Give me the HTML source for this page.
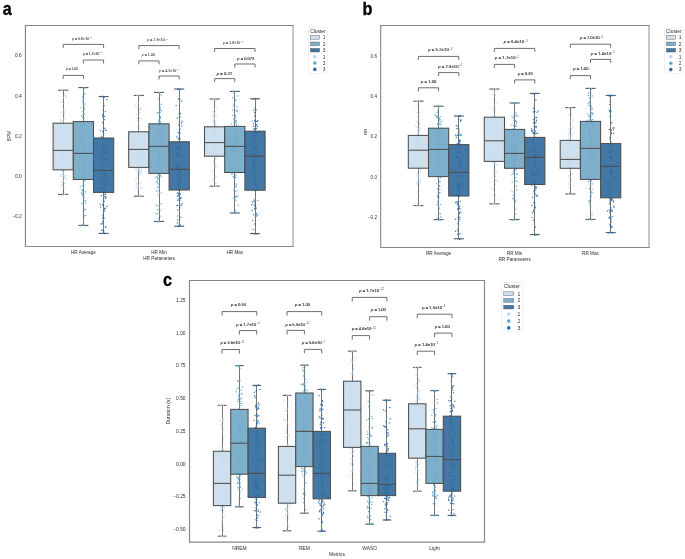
<!DOCTYPE html><html><head><meta charset="utf-8"><style>html,body{margin:0;padding:0;background:#fff;width:685px;height:559px;overflow:hidden}svg{display:block;will-change:transform}</style></head><body>
<svg width="685" height="559" viewBox="0 0 685 559" font-family="'Liberation Sans', sans-serif">
<rect width="685" height="559" fill="#fff"/>
<text transform="translate(2.8,14.6) scale(0.9,1)" x="0" y="0" font-size="18" font-weight="bold" fill="#000" stroke="#000" stroke-width="0.35">a</text>
<text transform="translate(362.6,14.6) scale(0.9,1)" x="0" y="0" font-size="18" font-weight="bold" fill="#000" stroke="#000" stroke-width="0.35">b</text>
<text transform="translate(162.9,285.5) scale(0.9,1)" x="0" y="0" font-size="18" font-weight="bold" fill="#000" stroke="#000" stroke-width="0.35">c</text>
<line x1="63.50" y1="90.20" x2="63.50" y2="123.20" stroke="#646464" stroke-width="0.9"/>
<line x1="63.50" y1="169.80" x2="63.50" y2="194.40" stroke="#646464" stroke-width="0.9"/>
<line x1="58.15" y1="90.20" x2="68.25" y2="90.20" stroke="#585858" stroke-width="1.1"/>
<line x1="58.15" y1="194.40" x2="68.25" y2="194.40" stroke="#585858" stroke-width="1.1"/>
<line x1="83.50" y1="87.60" x2="83.50" y2="121.60" stroke="#646464" stroke-width="0.9"/>
<line x1="83.50" y1="179.50" x2="83.50" y2="225.40" stroke="#646464" stroke-width="0.9"/>
<line x1="78.35" y1="87.60" x2="88.45" y2="87.60" stroke="#585858" stroke-width="1.1"/>
<line x1="78.35" y1="225.40" x2="88.45" y2="225.40" stroke="#585858" stroke-width="1.1"/>
<line x1="103.50" y1="96.60" x2="103.50" y2="138.00" stroke="#646464" stroke-width="0.9"/>
<line x1="103.50" y1="192.40" x2="103.50" y2="233.40" stroke="#646464" stroke-width="0.9"/>
<line x1="98.55" y1="96.60" x2="108.65" y2="96.60" stroke="#585858" stroke-width="1.1"/>
<line x1="98.55" y1="233.40" x2="108.65" y2="233.40" stroke="#585858" stroke-width="1.1"/>
<line x1="138.50" y1="95.40" x2="138.50" y2="131.80" stroke="#646464" stroke-width="0.9"/>
<line x1="138.50" y1="167.40" x2="138.50" y2="196.20" stroke="#646464" stroke-width="0.9"/>
<line x1="133.75" y1="95.40" x2="143.85" y2="95.40" stroke="#585858" stroke-width="1.1"/>
<line x1="133.75" y1="196.20" x2="143.85" y2="196.20" stroke="#585858" stroke-width="1.1"/>
<line x1="159.50" y1="92.40" x2="159.50" y2="123.80" stroke="#646464" stroke-width="0.9"/>
<line x1="159.50" y1="173.40" x2="159.50" y2="221.40" stroke="#646464" stroke-width="0.9"/>
<line x1="153.95" y1="92.40" x2="164.05" y2="92.40" stroke="#585858" stroke-width="1.1"/>
<line x1="153.95" y1="221.40" x2="164.05" y2="221.40" stroke="#585858" stroke-width="1.1"/>
<line x1="179.50" y1="89.00" x2="179.50" y2="141.80" stroke="#646464" stroke-width="0.9"/>
<line x1="179.50" y1="190.00" x2="179.50" y2="226.20" stroke="#646464" stroke-width="0.9"/>
<line x1="174.15" y1="89.00" x2="184.25" y2="89.00" stroke="#585858" stroke-width="1.1"/>
<line x1="174.15" y1="226.20" x2="184.25" y2="226.20" stroke="#585858" stroke-width="1.1"/>
<line x1="214.50" y1="99.00" x2="214.50" y2="126.80" stroke="#646464" stroke-width="0.9"/>
<line x1="214.50" y1="156.20" x2="214.50" y2="186.20" stroke="#646464" stroke-width="0.9"/>
<line x1="209.55" y1="99.00" x2="219.65" y2="99.00" stroke="#585858" stroke-width="1.1"/>
<line x1="209.55" y1="186.20" x2="219.65" y2="186.20" stroke="#585858" stroke-width="1.1"/>
<line x1="234.50" y1="91.40" x2="234.50" y2="126.40" stroke="#646464" stroke-width="0.9"/>
<line x1="234.50" y1="172.50" x2="234.50" y2="213.00" stroke="#646464" stroke-width="0.9"/>
<line x1="229.75" y1="91.40" x2="239.85" y2="91.40" stroke="#585858" stroke-width="1.1"/>
<line x1="229.75" y1="213.00" x2="239.85" y2="213.00" stroke="#585858" stroke-width="1.1"/>
<line x1="255.50" y1="98.80" x2="255.50" y2="131.20" stroke="#646464" stroke-width="0.9"/>
<line x1="255.50" y1="190.20" x2="255.50" y2="233.60" stroke="#646464" stroke-width="0.9"/>
<line x1="249.95" y1="98.80" x2="260.05" y2="98.80" stroke="#585858" stroke-width="1.1"/>
<line x1="249.95" y1="233.60" x2="260.05" y2="233.60" stroke="#585858" stroke-width="1.1"/>
<g fill="#bcd5ec" opacity="0.8"><circle cx="64.5" cy="164.1" r="0.72"/><circle cx="65.0" cy="182.7" r="0.72"/><circle cx="62.8" cy="146.5" r="0.72"/><circle cx="63.6" cy="149.6" r="0.72"/><circle cx="62.7" cy="186.5" r="0.72"/><circle cx="63.4" cy="181.0" r="0.72"/><circle cx="63.6" cy="156.3" r="0.72"/><circle cx="62.5" cy="171.4" r="0.72"/><circle cx="65.1" cy="136.5" r="0.72"/><circle cx="62.5" cy="158.4" r="0.72"/><circle cx="66.2" cy="98.2" r="0.72"/><circle cx="64.1" cy="166.7" r="0.72"/><circle cx="64.2" cy="176.7" r="0.72"/><circle cx="64.1" cy="117.6" r="0.72"/><circle cx="61.3" cy="174.2" r="0.72"/><circle cx="62.1" cy="160.3" r="0.72"/><circle cx="63.7" cy="145.2" r="0.72"/><circle cx="63.4" cy="172.5" r="0.72"/><circle cx="62.0" cy="130.8" r="0.72"/><circle cx="63.8" cy="141.1" r="0.72"/><circle cx="62.3" cy="154.0" r="0.72"/><circle cx="65.8" cy="128.7" r="0.72"/><circle cx="61.5" cy="170.2" r="0.72"/><circle cx="62.3" cy="112.0" r="0.72"/><circle cx="62.2" cy="125.4" r="0.72"/><circle cx="66.5" cy="178.7" r="0.72"/><circle cx="63.2" cy="156.8" r="0.72"/><circle cx="62.3" cy="151.3" r="0.72"/><circle cx="61.9" cy="186.3" r="0.72"/><circle cx="60.9" cy="142.5" r="0.72"/><circle cx="62.3" cy="111.9" r="0.72"/><circle cx="65.4" cy="140.1" r="0.72"/><circle cx="60.3" cy="141.7" r="0.72"/><circle cx="64.0" cy="103.5" r="0.72"/><circle cx="62.9" cy="152.4" r="0.72"/><circle cx="62.7" cy="128.5" r="0.72"/><circle cx="66.1" cy="134.4" r="0.72"/><circle cx="63.1" cy="167.1" r="0.72"/><circle cx="63.0" cy="159.3" r="0.72"/><circle cx="62.9" cy="153.4" r="0.72"/><circle cx="63.6" cy="175.0" r="0.72"/><circle cx="63.6" cy="121.7" r="0.72"/><circle cx="63.2" cy="177.8" r="0.72"/><circle cx="64.8" cy="112.3" r="0.72"/><circle cx="61.3" cy="181.9" r="0.72"/><circle cx="63.8" cy="111.1" r="0.72"/><circle cx="64.0" cy="117.4" r="0.72"/><circle cx="62.2" cy="157.0" r="0.72"/><circle cx="66.1" cy="161.4" r="0.72"/><circle cx="60.6" cy="176.2" r="0.72"/><circle cx="63.3" cy="174.5" r="0.72"/><circle cx="64.3" cy="151.6" r="0.72"/><circle cx="63.2" cy="140.7" r="0.72"/><circle cx="63.3" cy="156.7" r="0.72"/><circle cx="60.0" cy="160.5" r="0.72"/><circle cx="61.6" cy="129.7" r="0.72"/><circle cx="61.5" cy="148.7" r="0.72"/><circle cx="61.6" cy="184.6" r="0.72"/><circle cx="63.8" cy="109.3" r="0.72"/><circle cx="60.1" cy="119.2" r="0.72"/><circle cx="62.6" cy="158.8" r="0.72"/><circle cx="63.6" cy="135.8" r="0.72"/><circle cx="64.2" cy="183.7" r="0.72"/><circle cx="63.6" cy="175.4" r="0.72"/><circle cx="63.2" cy="162.8" r="0.72"/><circle cx="63.2" cy="176.2" r="0.72"/><circle cx="63.0" cy="180.1" r="0.72"/><circle cx="63.5" cy="112.0" r="0.72"/><circle cx="63.9" cy="138.0" r="0.72"/><circle cx="64.2" cy="162.2" r="0.72"/><circle cx="65.4" cy="160.9" r="0.72"/><circle cx="65.3" cy="94.0" r="0.72"/><circle cx="62.5" cy="153.0" r="0.72"/><circle cx="63.3" cy="180.0" r="0.72"/><circle cx="62.9" cy="162.6" r="0.72"/><circle cx="66.1" cy="175.5" r="0.72"/><circle cx="65.0" cy="188.5" r="0.72"/><circle cx="62.6" cy="176.5" r="0.72"/><circle cx="65.1" cy="145.7" r="0.72"/><circle cx="63.5" cy="97.8" r="0.72"/><circle cx="62.8" cy="113.2" r="0.72"/><circle cx="62.1" cy="160.7" r="0.72"/><circle cx="63.5" cy="175.1" r="0.72"/><circle cx="61.3" cy="120.8" r="0.72"/><circle cx="63.7" cy="163.6" r="0.72"/><circle cx="66.0" cy="96.3" r="0.72"/><circle cx="64.2" cy="114.2" r="0.72"/><circle cx="60.5" cy="124.3" r="0.72"/><circle cx="61.7" cy="171.2" r="0.72"/><circle cx="63.0" cy="187.6" r="0.72"/><circle cx="63.0" cy="187.8" r="0.72"/><circle cx="64.4" cy="129.5" r="0.72"/><circle cx="60.0" cy="101.8" r="0.72"/><circle cx="64.4" cy="95.5" r="0.72"/><circle cx="62.5" cy="102.0" r="0.72"/><circle cx="64.0" cy="171.2" r="0.72"/><circle cx="63.8" cy="173.1" r="0.72"/><circle cx="65.3" cy="109.2" r="0.72"/><circle cx="60.9" cy="115.4" r="0.72"/><circle cx="63.5" cy="119.1" r="0.72"/><circle cx="61.4" cy="181.5" r="0.72"/><circle cx="60.3" cy="120.6" r="0.72"/><circle cx="62.2" cy="123.2" r="0.72"/><circle cx="63.3" cy="120.0" r="0.72"/><circle cx="64.5" cy="163.4" r="0.72"/><circle cx="60.0" cy="158.5" r="0.72"/><circle cx="65.6" cy="158.1" r="0.72"/><circle cx="62.4" cy="174.9" r="0.72"/><circle cx="65.2" cy="178.0" r="0.72"/><circle cx="66.0" cy="118.5" r="0.72"/><circle cx="61.6" cy="90.6" r="0.72"/><circle cx="65.3" cy="90.5" r="0.72"/><circle cx="62.5" cy="90.3" r="0.72"/><circle cx="61.6" cy="89.8" r="0.72"/><circle cx="65.3" cy="194.6" r="0.72"/><circle cx="63.3" cy="194.9" r="0.72"/><circle cx="62.9" cy="194.9" r="0.72"/><circle cx="64.6" cy="194.2" r="0.72"/></g>
<g fill="#5fa6d4" opacity="0.92"><circle cx="83.1" cy="179.3" r="0.72"/><circle cx="84.5" cy="142.4" r="0.72"/><circle cx="82.7" cy="178.5" r="0.72"/><circle cx="83.8" cy="106.0" r="0.72"/><circle cx="81.4" cy="168.7" r="0.72"/><circle cx="83.9" cy="106.7" r="0.72"/><circle cx="85.0" cy="161.7" r="0.72"/><circle cx="82.5" cy="149.4" r="0.72"/><circle cx="85.1" cy="150.4" r="0.72"/><circle cx="83.6" cy="187.3" r="0.72"/><circle cx="83.7" cy="221.6" r="0.72"/><circle cx="82.5" cy="156.2" r="0.72"/><circle cx="82.1" cy="124.8" r="0.72"/><circle cx="82.9" cy="151.1" r="0.72"/><circle cx="83.6" cy="146.3" r="0.72"/><circle cx="82.7" cy="145.7" r="0.72"/><circle cx="82.9" cy="179.7" r="0.72"/><circle cx="86.0" cy="152.4" r="0.72"/><circle cx="83.6" cy="145.5" r="0.72"/><circle cx="80.2" cy="159.3" r="0.72"/><circle cx="81.5" cy="139.1" r="0.72"/><circle cx="83.3" cy="128.9" r="0.72"/><circle cx="81.7" cy="158.4" r="0.72"/><circle cx="83.0" cy="101.8" r="0.72"/><circle cx="86.1" cy="128.1" r="0.72"/><circle cx="80.8" cy="178.5" r="0.72"/><circle cx="86.2" cy="145.8" r="0.72"/><circle cx="82.4" cy="193.4" r="0.72"/><circle cx="82.8" cy="195.6" r="0.72"/><circle cx="83.6" cy="180.5" r="0.72"/><circle cx="82.1" cy="203.4" r="0.72"/><circle cx="81.0" cy="107.6" r="0.72"/><circle cx="82.9" cy="191.0" r="0.72"/><circle cx="81.2" cy="192.6" r="0.72"/><circle cx="84.5" cy="109.2" r="0.72"/><circle cx="83.2" cy="100.2" r="0.72"/><circle cx="80.2" cy="164.0" r="0.72"/><circle cx="83.8" cy="114.3" r="0.72"/><circle cx="81.7" cy="190.1" r="0.72"/><circle cx="84.2" cy="170.2" r="0.72"/><circle cx="82.4" cy="185.8" r="0.72"/><circle cx="85.7" cy="215.5" r="0.72"/><circle cx="83.1" cy="146.5" r="0.72"/><circle cx="83.5" cy="171.0" r="0.72"/><circle cx="82.8" cy="137.6" r="0.72"/><circle cx="83.4" cy="93.9" r="0.72"/><circle cx="84.1" cy="118.4" r="0.72"/><circle cx="83.3" cy="177.9" r="0.72"/><circle cx="83.6" cy="210.2" r="0.72"/><circle cx="82.2" cy="194.5" r="0.72"/><circle cx="85.9" cy="161.5" r="0.72"/><circle cx="81.9" cy="178.6" r="0.72"/><circle cx="85.2" cy="191.7" r="0.72"/><circle cx="82.4" cy="127.9" r="0.72"/><circle cx="85.6" cy="200.6" r="0.72"/><circle cx="84.2" cy="161.2" r="0.72"/><circle cx="85.5" cy="203.6" r="0.72"/><circle cx="82.6" cy="117.2" r="0.72"/><circle cx="83.8" cy="201.6" r="0.72"/><circle cx="82.9" cy="111.3" r="0.72"/><circle cx="82.3" cy="158.2" r="0.72"/><circle cx="85.1" cy="103.9" r="0.72"/><circle cx="84.7" cy="177.6" r="0.72"/><circle cx="84.8" cy="180.8" r="0.72"/><circle cx="83.7" cy="197.4" r="0.72"/><circle cx="83.8" cy="185.0" r="0.72"/><circle cx="82.5" cy="173.0" r="0.72"/><circle cx="85.9" cy="175.3" r="0.72"/><circle cx="84.0" cy="153.4" r="0.72"/><circle cx="84.7" cy="215.9" r="0.72"/><circle cx="85.9" cy="179.5" r="0.72"/><circle cx="83.6" cy="146.9" r="0.72"/><circle cx="80.2" cy="186.5" r="0.72"/><circle cx="84.0" cy="197.9" r="0.72"/><circle cx="81.7" cy="115.6" r="0.72"/><circle cx="84.2" cy="114.1" r="0.72"/><circle cx="81.0" cy="164.6" r="0.72"/><circle cx="83.3" cy="94.5" r="0.72"/><circle cx="84.6" cy="169.8" r="0.72"/><circle cx="81.3" cy="136.1" r="0.72"/><circle cx="83.1" cy="163.3" r="0.72"/><circle cx="83.8" cy="194.4" r="0.72"/><circle cx="83.3" cy="203.9" r="0.72"/><circle cx="82.2" cy="189.9" r="0.72"/><circle cx="85.1" cy="201.5" r="0.72"/><circle cx="80.7" cy="131.7" r="0.72"/><circle cx="83.5" cy="176.2" r="0.72"/><circle cx="84.7" cy="157.6" r="0.72"/><circle cx="82.2" cy="190.6" r="0.72"/><circle cx="83.8" cy="98.6" r="0.72"/><circle cx="82.3" cy="96.6" r="0.72"/><circle cx="83.1" cy="97.9" r="0.72"/><circle cx="83.4" cy="173.3" r="0.72"/><circle cx="83.5" cy="165.8" r="0.72"/><circle cx="82.4" cy="156.0" r="0.72"/><circle cx="83.4" cy="152.8" r="0.72"/><circle cx="83.3" cy="221.0" r="0.72"/><circle cx="84.1" cy="163.9" r="0.72"/><circle cx="84.7" cy="209.7" r="0.72"/><circle cx="83.6" cy="181.4" r="0.72"/><circle cx="80.8" cy="142.5" r="0.72"/><circle cx="82.9" cy="133.4" r="0.72"/><circle cx="84.5" cy="125.9" r="0.72"/><circle cx="82.3" cy="171.6" r="0.72"/><circle cx="84.9" cy="94.0" r="0.72"/><circle cx="85.4" cy="135.2" r="0.72"/><circle cx="85.1" cy="209.3" r="0.72"/><circle cx="80.6" cy="137.2" r="0.72"/><circle cx="83.7" cy="123.7" r="0.72"/><circle cx="82.6" cy="150.4" r="0.72"/><circle cx="83.4" cy="88.0" r="0.72"/><circle cx="84.7" cy="88.0" r="0.72"/><circle cx="83.8" cy="88.1" r="0.72"/><circle cx="84.2" cy="87.9" r="0.72"/><circle cx="82.2" cy="225.0" r="0.72"/><circle cx="81.8" cy="225.4" r="0.72"/><circle cx="81.7" cy="225.8" r="0.72"/><circle cx="83.7" cy="225.6" r="0.72"/></g>
<g fill="#2a6db0" opacity="0.92"><circle cx="102.8" cy="154.0" r="0.72"/><circle cx="102.0" cy="230.3" r="0.72"/><circle cx="103.6" cy="133.1" r="0.72"/><circle cx="101.8" cy="165.8" r="0.72"/><circle cx="105.9" cy="149.8" r="0.72"/><circle cx="104.6" cy="192.2" r="0.72"/><circle cx="103.4" cy="213.6" r="0.72"/><circle cx="106.1" cy="197.0" r="0.72"/><circle cx="105.4" cy="139.3" r="0.72"/><circle cx="103.3" cy="180.7" r="0.72"/><circle cx="102.5" cy="172.2" r="0.72"/><circle cx="101.2" cy="155.2" r="0.72"/><circle cx="104.4" cy="151.9" r="0.72"/><circle cx="104.0" cy="192.1" r="0.72"/><circle cx="102.9" cy="138.9" r="0.72"/><circle cx="105.5" cy="226.6" r="0.72"/><circle cx="103.3" cy="215.9" r="0.72"/><circle cx="105.9" cy="145.5" r="0.72"/><circle cx="103.1" cy="147.6" r="0.72"/><circle cx="105.4" cy="173.5" r="0.72"/><circle cx="106.0" cy="173.4" r="0.72"/><circle cx="105.8" cy="197.6" r="0.72"/><circle cx="103.9" cy="106.2" r="0.72"/><circle cx="103.5" cy="174.0" r="0.72"/><circle cx="105.3" cy="130.6" r="0.72"/><circle cx="103.3" cy="190.8" r="0.72"/><circle cx="104.6" cy="196.5" r="0.72"/><circle cx="103.2" cy="159.8" r="0.72"/><circle cx="100.4" cy="204.2" r="0.72"/><circle cx="103.0" cy="205.4" r="0.72"/><circle cx="100.4" cy="130.6" r="0.72"/><circle cx="103.4" cy="144.0" r="0.72"/><circle cx="105.0" cy="194.3" r="0.72"/><circle cx="102.5" cy="223.1" r="0.72"/><circle cx="101.9" cy="230.2" r="0.72"/><circle cx="103.7" cy="187.8" r="0.72"/><circle cx="102.8" cy="204.4" r="0.72"/><circle cx="104.7" cy="128.2" r="0.72"/><circle cx="103.6" cy="231.3" r="0.72"/><circle cx="100.6" cy="207.0" r="0.72"/><circle cx="102.8" cy="116.5" r="0.72"/><circle cx="100.4" cy="188.9" r="0.72"/><circle cx="100.4" cy="181.6" r="0.72"/><circle cx="106.9" cy="158.8" r="0.72"/><circle cx="102.5" cy="182.7" r="0.72"/><circle cx="104.1" cy="218.1" r="0.72"/><circle cx="104.3" cy="209.5" r="0.72"/><circle cx="102.5" cy="114.9" r="0.72"/><circle cx="103.4" cy="192.5" r="0.72"/><circle cx="105.5" cy="198.6" r="0.72"/><circle cx="106.7" cy="181.5" r="0.72"/><circle cx="102.7" cy="131.5" r="0.72"/><circle cx="106.8" cy="153.4" r="0.72"/><circle cx="101.7" cy="164.0" r="0.72"/><circle cx="106.0" cy="141.9" r="0.72"/><circle cx="104.4" cy="174.7" r="0.72"/><circle cx="102.8" cy="137.7" r="0.72"/><circle cx="102.6" cy="218.0" r="0.72"/><circle cx="104.8" cy="116.4" r="0.72"/><circle cx="104.9" cy="184.2" r="0.72"/><circle cx="103.3" cy="188.2" r="0.72"/><circle cx="100.4" cy="191.5" r="0.72"/><circle cx="103.0" cy="150.2" r="0.72"/><circle cx="105.5" cy="179.7" r="0.72"/><circle cx="104.2" cy="201.2" r="0.72"/><circle cx="104.5" cy="119.6" r="0.72"/><circle cx="104.2" cy="170.7" r="0.72"/><circle cx="106.9" cy="99.8" r="0.72"/><circle cx="104.3" cy="174.8" r="0.72"/><circle cx="104.4" cy="211.1" r="0.72"/><circle cx="104.6" cy="184.3" r="0.72"/><circle cx="104.2" cy="191.7" r="0.72"/><circle cx="105.6" cy="161.4" r="0.72"/><circle cx="101.9" cy="178.1" r="0.72"/><circle cx="102.1" cy="178.0" r="0.72"/><circle cx="103.4" cy="184.6" r="0.72"/><circle cx="102.9" cy="215.6" r="0.72"/><circle cx="106.9" cy="206.2" r="0.72"/><circle cx="101.5" cy="170.0" r="0.72"/><circle cx="101.3" cy="195.8" r="0.72"/><circle cx="103.6" cy="190.6" r="0.72"/><circle cx="105.2" cy="175.2" r="0.72"/><circle cx="105.4" cy="111.6" r="0.72"/><circle cx="101.0" cy="223.9" r="0.72"/><circle cx="102.8" cy="221.4" r="0.72"/><circle cx="100.4" cy="172.8" r="0.72"/><circle cx="105.2" cy="159.1" r="0.72"/><circle cx="103.6" cy="116.4" r="0.72"/><circle cx="106.2" cy="130.0" r="0.72"/><circle cx="100.4" cy="192.6" r="0.72"/><circle cx="104.7" cy="208.5" r="0.72"/><circle cx="105.2" cy="146.8" r="0.72"/><circle cx="103.2" cy="113.9" r="0.72"/><circle cx="101.4" cy="136.5" r="0.72"/><circle cx="103.2" cy="174.2" r="0.72"/><circle cx="103.5" cy="134.7" r="0.72"/><circle cx="105.6" cy="194.1" r="0.72"/><circle cx="102.5" cy="187.7" r="0.72"/><circle cx="103.6" cy="206.0" r="0.72"/><circle cx="105.8" cy="144.7" r="0.72"/><circle cx="105.3" cy="208.1" r="0.72"/><circle cx="104.4" cy="159.7" r="0.72"/><circle cx="103.9" cy="180.2" r="0.72"/><circle cx="105.7" cy="227.3" r="0.72"/><circle cx="100.4" cy="187.9" r="0.72"/><circle cx="104.6" cy="151.7" r="0.72"/><circle cx="102.5" cy="122.7" r="0.72"/><circle cx="103.8" cy="192.7" r="0.72"/><circle cx="103.2" cy="110.3" r="0.72"/><circle cx="102.3" cy="223.9" r="0.72"/><circle cx="103.6" cy="96.9" r="0.72"/><circle cx="103.2" cy="96.5" r="0.72"/><circle cx="104.3" cy="97.1" r="0.72"/><circle cx="102.4" cy="96.2" r="0.72"/><circle cx="102.9" cy="233.4" r="0.72"/><circle cx="104.4" cy="233.2" r="0.72"/><circle cx="104.9" cy="233.7" r="0.72"/><circle cx="103.6" cy="233.2" r="0.72"/></g>
<g fill="#bcd5ec" opacity="0.8"><circle cx="137.7" cy="105.6" r="0.72"/><circle cx="141.5" cy="168.7" r="0.72"/><circle cx="138.9" cy="169.4" r="0.72"/><circle cx="137.5" cy="108.9" r="0.72"/><circle cx="139.2" cy="149.7" r="0.72"/><circle cx="139.8" cy="155.4" r="0.72"/><circle cx="139.6" cy="137.8" r="0.72"/><circle cx="138.5" cy="157.1" r="0.72"/><circle cx="139.7" cy="170.0" r="0.72"/><circle cx="138.7" cy="185.0" r="0.72"/><circle cx="136.2" cy="184.0" r="0.72"/><circle cx="140.9" cy="118.4" r="0.72"/><circle cx="142.1" cy="133.0" r="0.72"/><circle cx="138.7" cy="161.7" r="0.72"/><circle cx="141.2" cy="172.1" r="0.72"/><circle cx="137.8" cy="187.8" r="0.72"/><circle cx="137.7" cy="137.8" r="0.72"/><circle cx="139.8" cy="161.5" r="0.72"/><circle cx="140.1" cy="173.4" r="0.72"/><circle cx="138.8" cy="160.1" r="0.72"/><circle cx="141.7" cy="108.3" r="0.72"/><circle cx="141.6" cy="170.5" r="0.72"/><circle cx="140.1" cy="159.7" r="0.72"/><circle cx="136.2" cy="154.3" r="0.72"/><circle cx="137.3" cy="185.3" r="0.72"/><circle cx="139.1" cy="113.8" r="0.72"/><circle cx="136.6" cy="171.5" r="0.72"/><circle cx="141.3" cy="188.1" r="0.72"/><circle cx="139.8" cy="155.8" r="0.72"/><circle cx="136.3" cy="186.5" r="0.72"/><circle cx="142.0" cy="187.4" r="0.72"/><circle cx="140.1" cy="166.9" r="0.72"/><circle cx="139.9" cy="132.0" r="0.72"/><circle cx="138.0" cy="165.8" r="0.72"/><circle cx="137.9" cy="107.9" r="0.72"/><circle cx="138.0" cy="134.1" r="0.72"/><circle cx="138.8" cy="162.6" r="0.72"/><circle cx="138.9" cy="131.3" r="0.72"/><circle cx="136.3" cy="114.3" r="0.72"/><circle cx="136.0" cy="189.1" r="0.72"/><circle cx="135.6" cy="168.5" r="0.72"/><circle cx="139.4" cy="108.6" r="0.72"/><circle cx="138.8" cy="157.6" r="0.72"/><circle cx="140.5" cy="149.9" r="0.72"/><circle cx="140.0" cy="112.6" r="0.72"/><circle cx="141.4" cy="132.6" r="0.72"/><circle cx="139.1" cy="125.0" r="0.72"/><circle cx="136.7" cy="161.8" r="0.72"/><circle cx="137.0" cy="162.4" r="0.72"/><circle cx="140.9" cy="181.8" r="0.72"/><circle cx="138.8" cy="171.2" r="0.72"/><circle cx="137.6" cy="183.4" r="0.72"/><circle cx="137.5" cy="187.5" r="0.72"/><circle cx="138.3" cy="103.3" r="0.72"/><circle cx="140.0" cy="118.4" r="0.72"/><circle cx="138.7" cy="181.2" r="0.72"/><circle cx="136.3" cy="179.9" r="0.72"/><circle cx="138.8" cy="153.2" r="0.72"/><circle cx="136.9" cy="168.5" r="0.72"/><circle cx="139.9" cy="137.1" r="0.72"/><circle cx="140.1" cy="131.9" r="0.72"/><circle cx="136.9" cy="177.6" r="0.72"/><circle cx="138.3" cy="123.2" r="0.72"/><circle cx="140.7" cy="158.5" r="0.72"/><circle cx="139.2" cy="132.6" r="0.72"/><circle cx="139.9" cy="167.7" r="0.72"/><circle cx="140.3" cy="174.7" r="0.72"/><circle cx="137.4" cy="161.9" r="0.72"/><circle cx="140.7" cy="156.9" r="0.72"/><circle cx="138.7" cy="168.7" r="0.72"/><circle cx="136.1" cy="126.4" r="0.72"/><circle cx="135.6" cy="179.3" r="0.72"/><circle cx="140.1" cy="151.2" r="0.72"/><circle cx="136.1" cy="114.5" r="0.72"/><circle cx="138.6" cy="186.6" r="0.72"/><circle cx="139.6" cy="171.8" r="0.72"/><circle cx="135.7" cy="105.0" r="0.72"/><circle cx="137.0" cy="158.6" r="0.72"/><circle cx="137.6" cy="120.4" r="0.72"/><circle cx="139.2" cy="129.3" r="0.72"/><circle cx="140.5" cy="110.0" r="0.72"/><circle cx="140.1" cy="141.0" r="0.72"/><circle cx="138.2" cy="169.7" r="0.72"/><circle cx="139.4" cy="170.7" r="0.72"/><circle cx="137.0" cy="167.0" r="0.72"/><circle cx="137.5" cy="170.7" r="0.72"/><circle cx="137.7" cy="191.7" r="0.72"/><circle cx="140.9" cy="172.1" r="0.72"/><circle cx="139.6" cy="162.9" r="0.72"/><circle cx="141.5" cy="146.0" r="0.72"/><circle cx="140.1" cy="183.6" r="0.72"/><circle cx="139.7" cy="145.9" r="0.72"/><circle cx="139.6" cy="139.6" r="0.72"/><circle cx="139.3" cy="135.6" r="0.72"/><circle cx="138.5" cy="155.9" r="0.72"/><circle cx="140.1" cy="108.7" r="0.72"/><circle cx="137.5" cy="162.9" r="0.72"/><circle cx="138.2" cy="155.4" r="0.72"/><circle cx="140.3" cy="120.6" r="0.72"/><circle cx="138.8" cy="171.2" r="0.72"/><circle cx="138.8" cy="133.3" r="0.72"/><circle cx="139.0" cy="116.2" r="0.72"/><circle cx="139.5" cy="154.9" r="0.72"/><circle cx="137.4" cy="118.5" r="0.72"/><circle cx="138.9" cy="152.2" r="0.72"/><circle cx="139.0" cy="145.8" r="0.72"/><circle cx="139.4" cy="139.5" r="0.72"/><circle cx="138.4" cy="140.8" r="0.72"/><circle cx="137.9" cy="158.7" r="0.72"/><circle cx="138.8" cy="165.0" r="0.72"/><circle cx="138.9" cy="95.9" r="0.72"/><circle cx="137.1" cy="95.5" r="0.72"/><circle cx="140.1" cy="96.0" r="0.72"/><circle cx="137.5" cy="95.1" r="0.72"/><circle cx="140.7" cy="196.8" r="0.72"/><circle cx="138.7" cy="195.9" r="0.72"/><circle cx="140.7" cy="196.2" r="0.72"/><circle cx="140.6" cy="196.4" r="0.72"/></g>
<g fill="#5fa6d4" opacity="0.92"><circle cx="160.5" cy="117.8" r="0.72"/><circle cx="161.3" cy="176.7" r="0.72"/><circle cx="160.7" cy="156.7" r="0.72"/><circle cx="156.6" cy="181.6" r="0.72"/><circle cx="157.5" cy="177.2" r="0.72"/><circle cx="160.1" cy="159.0" r="0.72"/><circle cx="159.0" cy="190.0" r="0.72"/><circle cx="161.5" cy="110.8" r="0.72"/><circle cx="156.6" cy="205.2" r="0.72"/><circle cx="158.0" cy="205.9" r="0.72"/><circle cx="160.6" cy="116.6" r="0.72"/><circle cx="160.4" cy="141.9" r="0.72"/><circle cx="158.4" cy="134.9" r="0.72"/><circle cx="160.5" cy="138.9" r="0.72"/><circle cx="158.1" cy="154.4" r="0.72"/><circle cx="157.6" cy="153.1" r="0.72"/><circle cx="157.7" cy="209.8" r="0.72"/><circle cx="157.8" cy="175.1" r="0.72"/><circle cx="159.3" cy="122.8" r="0.72"/><circle cx="157.3" cy="182.0" r="0.72"/><circle cx="159.6" cy="149.3" r="0.72"/><circle cx="159.5" cy="153.9" r="0.72"/><circle cx="157.3" cy="195.1" r="0.72"/><circle cx="159.7" cy="205.2" r="0.72"/><circle cx="161.2" cy="134.1" r="0.72"/><circle cx="160.3" cy="121.7" r="0.72"/><circle cx="160.7" cy="145.4" r="0.72"/><circle cx="159.6" cy="159.6" r="0.72"/><circle cx="161.0" cy="104.2" r="0.72"/><circle cx="161.3" cy="95.0" r="0.72"/><circle cx="159.4" cy="125.4" r="0.72"/><circle cx="158.1" cy="98.9" r="0.72"/><circle cx="162.2" cy="147.3" r="0.72"/><circle cx="158.1" cy="184.0" r="0.72"/><circle cx="159.5" cy="120.8" r="0.72"/><circle cx="158.8" cy="162.5" r="0.72"/><circle cx="160.8" cy="123.3" r="0.72"/><circle cx="161.8" cy="170.7" r="0.72"/><circle cx="160.1" cy="118.6" r="0.72"/><circle cx="160.4" cy="108.3" r="0.72"/><circle cx="158.9" cy="178.4" r="0.72"/><circle cx="160.8" cy="165.9" r="0.72"/><circle cx="159.4" cy="206.2" r="0.72"/><circle cx="159.8" cy="106.2" r="0.72"/><circle cx="159.8" cy="130.2" r="0.72"/><circle cx="158.4" cy="121.1" r="0.72"/><circle cx="156.8" cy="191.3" r="0.72"/><circle cx="158.6" cy="161.5" r="0.72"/><circle cx="157.1" cy="113.3" r="0.72"/><circle cx="158.3" cy="112.4" r="0.72"/><circle cx="161.2" cy="192.9" r="0.72"/><circle cx="158.9" cy="157.8" r="0.72"/><circle cx="158.6" cy="120.1" r="0.72"/><circle cx="162.2" cy="139.4" r="0.72"/><circle cx="159.2" cy="161.5" r="0.72"/><circle cx="157.3" cy="182.4" r="0.72"/><circle cx="161.8" cy="124.4" r="0.72"/><circle cx="159.9" cy="173.0" r="0.72"/><circle cx="161.1" cy="133.8" r="0.72"/><circle cx="158.8" cy="131.6" r="0.72"/><circle cx="159.4" cy="166.6" r="0.72"/><circle cx="159.0" cy="186.2" r="0.72"/><circle cx="157.3" cy="135.9" r="0.72"/><circle cx="159.8" cy="111.0" r="0.72"/><circle cx="159.3" cy="188.7" r="0.72"/><circle cx="161.3" cy="210.1" r="0.72"/><circle cx="158.5" cy="218.3" r="0.72"/><circle cx="159.6" cy="161.8" r="0.72"/><circle cx="157.2" cy="176.4" r="0.72"/><circle cx="158.0" cy="178.9" r="0.72"/><circle cx="158.2" cy="135.2" r="0.72"/><circle cx="159.1" cy="106.2" r="0.72"/><circle cx="159.4" cy="174.1" r="0.72"/><circle cx="159.6" cy="133.9" r="0.72"/><circle cx="159.3" cy="113.5" r="0.72"/><circle cx="157.4" cy="171.9" r="0.72"/><circle cx="157.8" cy="213.8" r="0.72"/><circle cx="157.4" cy="162.6" r="0.72"/><circle cx="155.8" cy="133.2" r="0.72"/><circle cx="160.3" cy="125.3" r="0.72"/><circle cx="159.4" cy="173.6" r="0.72"/><circle cx="158.7" cy="143.5" r="0.72"/><circle cx="159.0" cy="156.6" r="0.72"/><circle cx="159.5" cy="121.6" r="0.72"/><circle cx="155.8" cy="213.5" r="0.72"/><circle cx="157.8" cy="187.2" r="0.72"/><circle cx="157.6" cy="179.5" r="0.72"/><circle cx="157.8" cy="133.6" r="0.72"/><circle cx="159.6" cy="118.7" r="0.72"/><circle cx="160.2" cy="168.0" r="0.72"/><circle cx="161.1" cy="203.5" r="0.72"/><circle cx="157.3" cy="126.9" r="0.72"/><circle cx="160.4" cy="216.1" r="0.72"/><circle cx="156.9" cy="150.2" r="0.72"/><circle cx="157.9" cy="124.5" r="0.72"/><circle cx="159.3" cy="192.8" r="0.72"/><circle cx="160.4" cy="175.5" r="0.72"/><circle cx="159.3" cy="123.8" r="0.72"/><circle cx="160.4" cy="128.8" r="0.72"/><circle cx="157.0" cy="171.7" r="0.72"/><circle cx="156.5" cy="141.5" r="0.72"/><circle cx="160.1" cy="144.3" r="0.72"/><circle cx="156.5" cy="171.7" r="0.72"/><circle cx="155.8" cy="177.3" r="0.72"/><circle cx="160.2" cy="112.6" r="0.72"/><circle cx="159.1" cy="175.0" r="0.72"/><circle cx="161.4" cy="124.4" r="0.72"/><circle cx="158.1" cy="165.1" r="0.72"/><circle cx="158.5" cy="112.6" r="0.72"/><circle cx="160.0" cy="109.7" r="0.72"/><circle cx="159.6" cy="92.7" r="0.72"/><circle cx="159.7" cy="93.0" r="0.72"/><circle cx="158.9" cy="92.8" r="0.72"/><circle cx="159.9" cy="92.9" r="0.72"/><circle cx="158.7" cy="221.7" r="0.72"/><circle cx="159.3" cy="221.3" r="0.72"/><circle cx="157.7" cy="221.6" r="0.72"/><circle cx="157.1" cy="221.9" r="0.72"/></g>
<g fill="#2a6db0" opacity="0.92"><circle cx="179.9" cy="200.1" r="0.72"/><circle cx="179.3" cy="113.8" r="0.72"/><circle cx="179.4" cy="182.2" r="0.72"/><circle cx="179.5" cy="213.8" r="0.72"/><circle cx="177.6" cy="148.1" r="0.72"/><circle cx="177.4" cy="143.3" r="0.72"/><circle cx="177.9" cy="210.0" r="0.72"/><circle cx="178.4" cy="132.7" r="0.72"/><circle cx="179.6" cy="132.4" r="0.72"/><circle cx="178.8" cy="125.0" r="0.72"/><circle cx="179.9" cy="116.8" r="0.72"/><circle cx="178.9" cy="194.0" r="0.72"/><circle cx="182.2" cy="203.8" r="0.72"/><circle cx="179.9" cy="133.5" r="0.72"/><circle cx="180.2" cy="154.6" r="0.72"/><circle cx="177.2" cy="186.9" r="0.72"/><circle cx="181.3" cy="205.3" r="0.72"/><circle cx="180.7" cy="194.1" r="0.72"/><circle cx="178.9" cy="184.3" r="0.72"/><circle cx="179.3" cy="189.4" r="0.72"/><circle cx="178.9" cy="187.3" r="0.72"/><circle cx="177.7" cy="184.2" r="0.72"/><circle cx="176.1" cy="105.5" r="0.72"/><circle cx="179.1" cy="156.3" r="0.72"/><circle cx="177.8" cy="215.9" r="0.72"/><circle cx="180.1" cy="138.8" r="0.72"/><circle cx="178.7" cy="182.0" r="0.72"/><circle cx="177.3" cy="193.0" r="0.72"/><circle cx="181.6" cy="125.9" r="0.72"/><circle cx="180.8" cy="197.4" r="0.72"/><circle cx="180.0" cy="224.7" r="0.72"/><circle cx="181.7" cy="101.3" r="0.72"/><circle cx="177.4" cy="223.0" r="0.72"/><circle cx="179.3" cy="135.6" r="0.72"/><circle cx="177.8" cy="196.0" r="0.72"/><circle cx="179.2" cy="130.6" r="0.72"/><circle cx="180.4" cy="189.1" r="0.72"/><circle cx="178.8" cy="193.2" r="0.72"/><circle cx="178.4" cy="147.4" r="0.72"/><circle cx="179.2" cy="154.3" r="0.72"/><circle cx="179.8" cy="207.8" r="0.72"/><circle cx="176.9" cy="137.0" r="0.72"/><circle cx="178.2" cy="155.3" r="0.72"/><circle cx="180.4" cy="178.1" r="0.72"/><circle cx="182.0" cy="121.2" r="0.72"/><circle cx="180.9" cy="217.1" r="0.72"/><circle cx="178.9" cy="194.0" r="0.72"/><circle cx="182.4" cy="169.3" r="0.72"/><circle cx="180.1" cy="179.3" r="0.72"/><circle cx="178.4" cy="172.6" r="0.72"/><circle cx="179.3" cy="165.9" r="0.72"/><circle cx="176.6" cy="153.2" r="0.72"/><circle cx="178.8" cy="181.9" r="0.72"/><circle cx="180.0" cy="128.9" r="0.72"/><circle cx="179.2" cy="151.5" r="0.72"/><circle cx="178.2" cy="174.4" r="0.72"/><circle cx="178.5" cy="138.8" r="0.72"/><circle cx="178.8" cy="172.5" r="0.72"/><circle cx="179.3" cy="122.1" r="0.72"/><circle cx="180.2" cy="185.8" r="0.72"/><circle cx="179.7" cy="147.0" r="0.72"/><circle cx="178.4" cy="198.9" r="0.72"/><circle cx="178.3" cy="190.2" r="0.72"/><circle cx="180.9" cy="198.4" r="0.72"/><circle cx="180.8" cy="183.6" r="0.72"/><circle cx="182.4" cy="144.1" r="0.72"/><circle cx="179.9" cy="205.1" r="0.72"/><circle cx="179.0" cy="178.9" r="0.72"/><circle cx="179.9" cy="99.2" r="0.72"/><circle cx="176.8" cy="174.8" r="0.72"/><circle cx="178.7" cy="194.9" r="0.72"/><circle cx="178.6" cy="193.9" r="0.72"/><circle cx="180.7" cy="178.6" r="0.72"/><circle cx="179.5" cy="136.4" r="0.72"/><circle cx="177.0" cy="148.0" r="0.72"/><circle cx="179.2" cy="172.4" r="0.72"/><circle cx="177.9" cy="200.4" r="0.72"/><circle cx="178.2" cy="142.8" r="0.72"/><circle cx="177.4" cy="118.0" r="0.72"/><circle cx="180.1" cy="141.9" r="0.72"/><circle cx="179.5" cy="175.9" r="0.72"/><circle cx="181.7" cy="123.0" r="0.72"/><circle cx="178.3" cy="138.7" r="0.72"/><circle cx="176.3" cy="149.6" r="0.72"/><circle cx="177.9" cy="153.8" r="0.72"/><circle cx="179.6" cy="155.2" r="0.72"/><circle cx="176.8" cy="205.6" r="0.72"/><circle cx="180.5" cy="145.9" r="0.72"/><circle cx="179.2" cy="155.1" r="0.72"/><circle cx="180.8" cy="173.1" r="0.72"/><circle cx="177.2" cy="156.0" r="0.72"/><circle cx="180.5" cy="113.6" r="0.72"/><circle cx="177.7" cy="196.2" r="0.72"/><circle cx="177.0" cy="178.6" r="0.72"/><circle cx="179.6" cy="170.2" r="0.72"/><circle cx="179.1" cy="164.6" r="0.72"/><circle cx="179.9" cy="198.4" r="0.72"/><circle cx="175.9" cy="167.3" r="0.72"/><circle cx="177.5" cy="205.2" r="0.72"/><circle cx="178.3" cy="145.4" r="0.72"/><circle cx="177.3" cy="168.1" r="0.72"/><circle cx="176.9" cy="167.0" r="0.72"/><circle cx="180.2" cy="176.8" r="0.72"/><circle cx="178.9" cy="149.0" r="0.72"/><circle cx="179.3" cy="178.3" r="0.72"/><circle cx="178.4" cy="99.0" r="0.72"/><circle cx="180.4" cy="181.3" r="0.72"/><circle cx="179.6" cy="177.7" r="0.72"/><circle cx="177.8" cy="220.0" r="0.72"/><circle cx="180.0" cy="147.5" r="0.72"/><circle cx="178.5" cy="88.9" r="0.72"/><circle cx="178.0" cy="89.3" r="0.72"/><circle cx="181.1" cy="89.1" r="0.72"/><circle cx="178.0" cy="89.4" r="0.72"/><circle cx="178.7" cy="226.0" r="0.72"/><circle cx="177.6" cy="226.6" r="0.72"/><circle cx="180.6" cy="226.4" r="0.72"/><circle cx="179.1" cy="226.4" r="0.72"/></g>
<g fill="#bcd5ec" opacity="0.8"><circle cx="216.0" cy="158.0" r="0.72"/><circle cx="214.3" cy="133.8" r="0.72"/><circle cx="215.3" cy="121.9" r="0.72"/><circle cx="213.0" cy="153.8" r="0.72"/><circle cx="216.7" cy="139.5" r="0.72"/><circle cx="216.7" cy="150.5" r="0.72"/><circle cx="214.4" cy="119.4" r="0.72"/><circle cx="216.1" cy="156.0" r="0.72"/><circle cx="214.6" cy="146.6" r="0.72"/><circle cx="214.7" cy="128.6" r="0.72"/><circle cx="214.6" cy="154.5" r="0.72"/><circle cx="215.9" cy="143.7" r="0.72"/><circle cx="213.1" cy="146.5" r="0.72"/><circle cx="212.9" cy="150.1" r="0.72"/><circle cx="214.9" cy="112.1" r="0.72"/><circle cx="214.2" cy="121.2" r="0.72"/><circle cx="214.8" cy="114.5" r="0.72"/><circle cx="213.8" cy="121.0" r="0.72"/><circle cx="214.8" cy="134.2" r="0.72"/><circle cx="214.6" cy="109.4" r="0.72"/><circle cx="214.6" cy="132.7" r="0.72"/><circle cx="215.3" cy="164.8" r="0.72"/><circle cx="214.8" cy="157.4" r="0.72"/><circle cx="213.2" cy="163.9" r="0.72"/><circle cx="214.8" cy="114.6" r="0.72"/><circle cx="213.7" cy="115.9" r="0.72"/><circle cx="215.1" cy="135.8" r="0.72"/><circle cx="212.3" cy="115.6" r="0.72"/><circle cx="215.1" cy="124.2" r="0.72"/><circle cx="213.7" cy="130.4" r="0.72"/><circle cx="214.5" cy="140.7" r="0.72"/><circle cx="212.9" cy="116.7" r="0.72"/><circle cx="214.5" cy="139.1" r="0.72"/><circle cx="215.7" cy="165.1" r="0.72"/><circle cx="216.2" cy="143.0" r="0.72"/><circle cx="215.2" cy="164.6" r="0.72"/><circle cx="212.7" cy="143.1" r="0.72"/><circle cx="214.6" cy="118.4" r="0.72"/><circle cx="215.5" cy="182.8" r="0.72"/><circle cx="213.1" cy="138.6" r="0.72"/><circle cx="215.4" cy="132.2" r="0.72"/><circle cx="213.3" cy="147.0" r="0.72"/><circle cx="216.6" cy="108.2" r="0.72"/><circle cx="215.6" cy="134.0" r="0.72"/><circle cx="212.8" cy="178.0" r="0.72"/><circle cx="213.1" cy="111.8" r="0.72"/><circle cx="216.5" cy="151.8" r="0.72"/><circle cx="214.4" cy="143.4" r="0.72"/><circle cx="217.0" cy="115.3" r="0.72"/><circle cx="215.1" cy="134.7" r="0.72"/><circle cx="215.6" cy="151.4" r="0.72"/><circle cx="213.5" cy="144.0" r="0.72"/><circle cx="214.7" cy="141.0" r="0.72"/><circle cx="213.5" cy="146.1" r="0.72"/><circle cx="211.8" cy="146.8" r="0.72"/><circle cx="213.6" cy="153.9" r="0.72"/><circle cx="213.1" cy="121.2" r="0.72"/><circle cx="215.7" cy="155.0" r="0.72"/><circle cx="216.9" cy="142.2" r="0.72"/><circle cx="214.2" cy="123.9" r="0.72"/><circle cx="214.1" cy="151.8" r="0.72"/><circle cx="215.8" cy="137.1" r="0.72"/><circle cx="214.7" cy="134.1" r="0.72"/><circle cx="214.2" cy="128.5" r="0.72"/><circle cx="214.1" cy="116.4" r="0.72"/><circle cx="214.5" cy="153.5" r="0.72"/><circle cx="215.9" cy="182.9" r="0.72"/><circle cx="217.9" cy="135.7" r="0.72"/><circle cx="215.4" cy="132.6" r="0.72"/><circle cx="211.4" cy="135.5" r="0.72"/><circle cx="212.9" cy="135.2" r="0.72"/><circle cx="212.9" cy="136.5" r="0.72"/><circle cx="215.1" cy="131.2" r="0.72"/><circle cx="216.9" cy="144.9" r="0.72"/><circle cx="215.4" cy="125.9" r="0.72"/><circle cx="215.2" cy="176.7" r="0.72"/><circle cx="216.6" cy="125.1" r="0.72"/><circle cx="213.4" cy="149.7" r="0.72"/><circle cx="215.1" cy="121.6" r="0.72"/><circle cx="212.6" cy="155.8" r="0.72"/><circle cx="213.4" cy="153.4" r="0.72"/><circle cx="215.2" cy="146.4" r="0.72"/><circle cx="215.1" cy="133.6" r="0.72"/><circle cx="214.4" cy="138.3" r="0.72"/><circle cx="216.7" cy="176.3" r="0.72"/><circle cx="216.5" cy="137.8" r="0.72"/><circle cx="214.4" cy="113.2" r="0.72"/><circle cx="214.7" cy="148.7" r="0.72"/><circle cx="217.9" cy="136.8" r="0.72"/><circle cx="212.9" cy="143.9" r="0.72"/><circle cx="216.4" cy="147.4" r="0.72"/><circle cx="215.9" cy="159.0" r="0.72"/><circle cx="214.8" cy="164.0" r="0.72"/><circle cx="214.6" cy="131.0" r="0.72"/><circle cx="215.3" cy="166.7" r="0.72"/><circle cx="214.5" cy="117.8" r="0.72"/><circle cx="217.1" cy="166.0" r="0.72"/><circle cx="214.9" cy="156.8" r="0.72"/><circle cx="214.8" cy="127.8" r="0.72"/><circle cx="215.1" cy="125.2" r="0.72"/><circle cx="216.2" cy="129.1" r="0.72"/><circle cx="212.6" cy="170.6" r="0.72"/><circle cx="214.2" cy="134.5" r="0.72"/><circle cx="212.9" cy="111.7" r="0.72"/><circle cx="217.0" cy="156.0" r="0.72"/><circle cx="214.0" cy="181.5" r="0.72"/><circle cx="212.9" cy="180.7" r="0.72"/><circle cx="212.3" cy="171.1" r="0.72"/><circle cx="214.5" cy="152.9" r="0.72"/><circle cx="213.7" cy="118.6" r="0.72"/><circle cx="214.5" cy="98.7" r="0.72"/><circle cx="214.0" cy="99.2" r="0.72"/><circle cx="214.3" cy="99.3" r="0.72"/><circle cx="213.0" cy="99.4" r="0.72"/><circle cx="214.0" cy="186.4" r="0.72"/><circle cx="215.2" cy="186.2" r="0.72"/><circle cx="214.1" cy="186.6" r="0.72"/><circle cx="216.6" cy="186.6" r="0.72"/></g>
<g fill="#5fa6d4" opacity="0.92"><circle cx="234.7" cy="141.1" r="0.72"/><circle cx="235.3" cy="100.4" r="0.72"/><circle cx="235.5" cy="130.1" r="0.72"/><circle cx="233.6" cy="137.9" r="0.72"/><circle cx="235.8" cy="99.7" r="0.72"/><circle cx="233.0" cy="166.4" r="0.72"/><circle cx="236.0" cy="153.9" r="0.72"/><circle cx="233.8" cy="131.6" r="0.72"/><circle cx="237.1" cy="138.3" r="0.72"/><circle cx="233.1" cy="169.0" r="0.72"/><circle cx="234.7" cy="211.0" r="0.72"/><circle cx="236.4" cy="139.5" r="0.72"/><circle cx="235.1" cy="120.5" r="0.72"/><circle cx="234.5" cy="118.9" r="0.72"/><circle cx="236.2" cy="120.9" r="0.72"/><circle cx="233.3" cy="170.0" r="0.72"/><circle cx="235.6" cy="117.0" r="0.72"/><circle cx="232.6" cy="109.9" r="0.72"/><circle cx="236.5" cy="162.4" r="0.72"/><circle cx="235.8" cy="122.3" r="0.72"/><circle cx="234.8" cy="177.5" r="0.72"/><circle cx="231.6" cy="174.1" r="0.72"/><circle cx="234.0" cy="137.8" r="0.72"/><circle cx="233.2" cy="176.9" r="0.72"/><circle cx="234.8" cy="172.0" r="0.72"/><circle cx="232.0" cy="150.6" r="0.72"/><circle cx="235.7" cy="191.4" r="0.72"/><circle cx="232.3" cy="174.2" r="0.72"/><circle cx="237.4" cy="140.0" r="0.72"/><circle cx="232.8" cy="144.7" r="0.72"/><circle cx="233.9" cy="148.8" r="0.72"/><circle cx="234.3" cy="178.4" r="0.72"/><circle cx="234.4" cy="179.7" r="0.72"/><circle cx="233.4" cy="141.2" r="0.72"/><circle cx="233.9" cy="156.6" r="0.72"/><circle cx="234.7" cy="198.6" r="0.72"/><circle cx="234.3" cy="93.8" r="0.72"/><circle cx="235.3" cy="135.8" r="0.72"/><circle cx="236.0" cy="123.2" r="0.72"/><circle cx="236.6" cy="162.6" r="0.72"/><circle cx="235.2" cy="144.8" r="0.72"/><circle cx="234.9" cy="96.3" r="0.72"/><circle cx="232.8" cy="115.5" r="0.72"/><circle cx="235.0" cy="171.3" r="0.72"/><circle cx="231.6" cy="123.9" r="0.72"/><circle cx="236.5" cy="124.9" r="0.72"/><circle cx="236.0" cy="120.3" r="0.72"/><circle cx="234.5" cy="199.9" r="0.72"/><circle cx="235.1" cy="177.5" r="0.72"/><circle cx="235.4" cy="197.4" r="0.72"/><circle cx="236.0" cy="141.8" r="0.72"/><circle cx="233.5" cy="105.2" r="0.72"/><circle cx="236.7" cy="110.4" r="0.72"/><circle cx="235.6" cy="157.1" r="0.72"/><circle cx="236.0" cy="186.9" r="0.72"/><circle cx="234.5" cy="141.2" r="0.72"/><circle cx="237.0" cy="135.1" r="0.72"/><circle cx="234.2" cy="157.6" r="0.72"/><circle cx="237.0" cy="151.8" r="0.72"/><circle cx="238.1" cy="95.9" r="0.72"/><circle cx="236.0" cy="175.3" r="0.72"/><circle cx="235.1" cy="161.9" r="0.72"/><circle cx="237.3" cy="111.3" r="0.72"/><circle cx="233.1" cy="198.1" r="0.72"/><circle cx="234.2" cy="123.2" r="0.72"/><circle cx="232.6" cy="97.8" r="0.72"/><circle cx="236.4" cy="196.5" r="0.72"/><circle cx="236.9" cy="106.4" r="0.72"/><circle cx="234.2" cy="132.2" r="0.72"/><circle cx="236.8" cy="125.7" r="0.72"/><circle cx="234.3" cy="188.9" r="0.72"/><circle cx="235.9" cy="186.4" r="0.72"/><circle cx="235.4" cy="148.4" r="0.72"/><circle cx="235.8" cy="184.0" r="0.72"/><circle cx="237.3" cy="132.2" r="0.72"/><circle cx="235.0" cy="178.1" r="0.72"/><circle cx="235.8" cy="200.3" r="0.72"/><circle cx="234.3" cy="107.1" r="0.72"/><circle cx="235.5" cy="115.4" r="0.72"/><circle cx="234.2" cy="151.9" r="0.72"/><circle cx="237.5" cy="190.1" r="0.72"/><circle cx="233.5" cy="136.1" r="0.72"/><circle cx="233.2" cy="151.4" r="0.72"/><circle cx="237.3" cy="148.7" r="0.72"/><circle cx="235.5" cy="136.1" r="0.72"/><circle cx="235.7" cy="196.4" r="0.72"/><circle cx="234.0" cy="129.3" r="0.72"/><circle cx="234.5" cy="115.0" r="0.72"/><circle cx="234.0" cy="170.8" r="0.72"/><circle cx="235.3" cy="170.3" r="0.72"/><circle cx="234.3" cy="118.2" r="0.72"/><circle cx="235.6" cy="147.3" r="0.72"/><circle cx="235.4" cy="165.4" r="0.72"/><circle cx="234.4" cy="99.4" r="0.72"/><circle cx="236.6" cy="196.3" r="0.72"/><circle cx="233.4" cy="176.4" r="0.72"/><circle cx="234.5" cy="148.8" r="0.72"/><circle cx="236.0" cy="177.4" r="0.72"/><circle cx="238.1" cy="160.6" r="0.72"/><circle cx="234.5" cy="108.4" r="0.72"/><circle cx="234.0" cy="190.0" r="0.72"/><circle cx="238.0" cy="196.2" r="0.72"/><circle cx="233.6" cy="128.3" r="0.72"/><circle cx="238.1" cy="205.2" r="0.72"/><circle cx="234.3" cy="121.4" r="0.72"/><circle cx="235.5" cy="210.8" r="0.72"/><circle cx="233.8" cy="118.9" r="0.72"/><circle cx="234.6" cy="153.2" r="0.72"/><circle cx="235.2" cy="110.1" r="0.72"/><circle cx="236.8" cy="184.6" r="0.72"/><circle cx="233.4" cy="91.8" r="0.72"/><circle cx="235.7" cy="91.2" r="0.72"/><circle cx="232.9" cy="91.1" r="0.72"/><circle cx="235.3" cy="91.5" r="0.72"/><circle cx="233.8" cy="212.8" r="0.72"/><circle cx="235.3" cy="213.3" r="0.72"/><circle cx="236.2" cy="213.2" r="0.72"/><circle cx="233.5" cy="212.7" r="0.72"/></g>
<g fill="#2a6db0" opacity="0.92"><circle cx="252.9" cy="132.9" r="0.72"/><circle cx="256.4" cy="216.0" r="0.72"/><circle cx="253.5" cy="126.2" r="0.72"/><circle cx="257.6" cy="121.2" r="0.72"/><circle cx="258.2" cy="157.1" r="0.72"/><circle cx="255.3" cy="159.4" r="0.72"/><circle cx="254.9" cy="120.5" r="0.72"/><circle cx="256.0" cy="124.4" r="0.72"/><circle cx="255.8" cy="174.3" r="0.72"/><circle cx="256.3" cy="146.7" r="0.72"/><circle cx="253.3" cy="229.6" r="0.72"/><circle cx="254.8" cy="154.6" r="0.72"/><circle cx="254.4" cy="205.6" r="0.72"/><circle cx="252.2" cy="121.1" r="0.72"/><circle cx="254.6" cy="180.5" r="0.72"/><circle cx="253.5" cy="131.1" r="0.72"/><circle cx="257.7" cy="214.9" r="0.72"/><circle cx="252.2" cy="156.9" r="0.72"/><circle cx="253.1" cy="154.9" r="0.72"/><circle cx="254.6" cy="223.9" r="0.72"/><circle cx="255.2" cy="108.3" r="0.72"/><circle cx="256.0" cy="208.2" r="0.72"/><circle cx="255.2" cy="190.1" r="0.72"/><circle cx="254.6" cy="209.1" r="0.72"/><circle cx="255.1" cy="136.3" r="0.72"/><circle cx="255.3" cy="146.3" r="0.72"/><circle cx="252.6" cy="148.6" r="0.72"/><circle cx="254.7" cy="208.1" r="0.72"/><circle cx="254.9" cy="120.7" r="0.72"/><circle cx="254.5" cy="205.2" r="0.72"/><circle cx="253.7" cy="157.1" r="0.72"/><circle cx="255.0" cy="205.4" r="0.72"/><circle cx="256.4" cy="169.0" r="0.72"/><circle cx="256.6" cy="121.6" r="0.72"/><circle cx="252.7" cy="202.0" r="0.72"/><circle cx="253.9" cy="199.9" r="0.72"/><circle cx="256.4" cy="124.9" r="0.72"/><circle cx="254.4" cy="167.0" r="0.72"/><circle cx="253.5" cy="123.6" r="0.72"/><circle cx="254.7" cy="112.4" r="0.72"/><circle cx="254.4" cy="129.1" r="0.72"/><circle cx="256.0" cy="178.6" r="0.72"/><circle cx="257.8" cy="165.0" r="0.72"/><circle cx="254.7" cy="116.0" r="0.72"/><circle cx="255.3" cy="125.8" r="0.72"/><circle cx="254.6" cy="154.5" r="0.72"/><circle cx="256.1" cy="109.9" r="0.72"/><circle cx="254.5" cy="166.8" r="0.72"/><circle cx="253.7" cy="142.9" r="0.72"/><circle cx="256.4" cy="213.5" r="0.72"/><circle cx="254.7" cy="165.3" r="0.72"/><circle cx="255.0" cy="203.0" r="0.72"/><circle cx="255.6" cy="107.9" r="0.72"/><circle cx="251.8" cy="142.9" r="0.72"/><circle cx="257.4" cy="126.3" r="0.72"/><circle cx="252.8" cy="220.4" r="0.72"/><circle cx="254.8" cy="142.0" r="0.72"/><circle cx="257.3" cy="187.0" r="0.72"/><circle cx="256.9" cy="152.0" r="0.72"/><circle cx="254.0" cy="190.1" r="0.72"/><circle cx="251.8" cy="154.2" r="0.72"/><circle cx="256.6" cy="185.1" r="0.72"/><circle cx="254.5" cy="182.7" r="0.72"/><circle cx="254.4" cy="146.8" r="0.72"/><circle cx="253.8" cy="110.2" r="0.72"/><circle cx="254.9" cy="160.8" r="0.72"/><circle cx="255.5" cy="152.8" r="0.72"/><circle cx="255.6" cy="204.1" r="0.72"/><circle cx="253.9" cy="184.3" r="0.72"/><circle cx="255.7" cy="190.9" r="0.72"/><circle cx="252.1" cy="210.4" r="0.72"/><circle cx="254.1" cy="145.2" r="0.72"/><circle cx="254.4" cy="149.2" r="0.72"/><circle cx="254.2" cy="135.2" r="0.72"/><circle cx="252.9" cy="161.5" r="0.72"/><circle cx="254.4" cy="160.4" r="0.72"/><circle cx="255.1" cy="182.0" r="0.72"/><circle cx="256.1" cy="155.0" r="0.72"/><circle cx="254.8" cy="172.1" r="0.72"/><circle cx="254.9" cy="176.2" r="0.72"/><circle cx="255.1" cy="121.5" r="0.72"/><circle cx="257.0" cy="157.4" r="0.72"/><circle cx="256.3" cy="185.5" r="0.72"/><circle cx="254.9" cy="129.4" r="0.72"/><circle cx="257.9" cy="200.6" r="0.72"/><circle cx="256.3" cy="164.4" r="0.72"/><circle cx="253.7" cy="214.8" r="0.72"/><circle cx="256.1" cy="132.7" r="0.72"/><circle cx="255.6" cy="207.2" r="0.72"/><circle cx="258.2" cy="132.3" r="0.72"/><circle cx="254.2" cy="201.1" r="0.72"/><circle cx="256.2" cy="138.7" r="0.72"/><circle cx="256.7" cy="144.6" r="0.72"/><circle cx="252.7" cy="154.4" r="0.72"/><circle cx="254.9" cy="132.3" r="0.72"/><circle cx="252.4" cy="159.6" r="0.72"/><circle cx="254.1" cy="128.4" r="0.72"/><circle cx="251.8" cy="204.7" r="0.72"/><circle cx="257.7" cy="120.6" r="0.72"/><circle cx="255.1" cy="147.6" r="0.72"/><circle cx="257.0" cy="156.5" r="0.72"/><circle cx="254.5" cy="167.4" r="0.72"/><circle cx="256.5" cy="128.5" r="0.72"/><circle cx="253.5" cy="172.6" r="0.72"/><circle cx="252.6" cy="162.7" r="0.72"/><circle cx="255.7" cy="184.4" r="0.72"/><circle cx="253.6" cy="171.1" r="0.72"/><circle cx="254.5" cy="180.4" r="0.72"/><circle cx="256.1" cy="128.2" r="0.72"/><circle cx="253.5" cy="163.8" r="0.72"/><circle cx="253.6" cy="98.7" r="0.72"/><circle cx="253.4" cy="99.0" r="0.72"/><circle cx="255.4" cy="98.5" r="0.72"/><circle cx="256.8" cy="98.7" r="0.72"/><circle cx="256.5" cy="234.0" r="0.72"/><circle cx="257.0" cy="233.4" r="0.72"/><circle cx="254.7" cy="234.1" r="0.72"/><circle cx="252.8" cy="233.2" r="0.72"/></g>
<rect x="53.10" y="123.20" width="20.20" height="46.60" fill="#c9dbeb" fill-opacity="0.9" stroke="#4e4e4e" stroke-width="1.05"/>
<line x1="53.10" y1="150.40" x2="73.30" y2="150.40" stroke="#4e4e4e" stroke-width="1.05"/>
<rect x="73.30" y="121.60" width="20.20" height="57.90" fill="#70a6c5" fill-opacity="0.9" stroke="#4e4e4e" stroke-width="1.05"/>
<line x1="73.30" y1="153.40" x2="93.50" y2="153.40" stroke="#4e4e4e" stroke-width="1.05"/>
<rect x="93.50" y="138.00" width="20.20" height="54.40" fill="#2d689c" fill-opacity="0.9" stroke="#4e4e4e" stroke-width="1.05"/>
<line x1="93.50" y1="170.40" x2="113.70" y2="170.40" stroke="#4e4e4e" stroke-width="1.05"/>
<rect x="128.70" y="131.80" width="20.20" height="35.60" fill="#c9dbeb" fill-opacity="0.9" stroke="#4e4e4e" stroke-width="1.05"/>
<line x1="128.70" y1="149.40" x2="148.90" y2="149.40" stroke="#4e4e4e" stroke-width="1.05"/>
<rect x="148.90" y="123.80" width="20.20" height="49.60" fill="#70a6c5" fill-opacity="0.9" stroke="#4e4e4e" stroke-width="1.05"/>
<line x1="148.90" y1="146.40" x2="169.10" y2="146.40" stroke="#4e4e4e" stroke-width="1.05"/>
<rect x="169.10" y="141.80" width="20.20" height="48.20" fill="#2d689c" fill-opacity="0.9" stroke="#4e4e4e" stroke-width="1.05"/>
<line x1="169.10" y1="169.40" x2="189.30" y2="169.40" stroke="#4e4e4e" stroke-width="1.05"/>
<rect x="204.50" y="126.80" width="20.20" height="29.40" fill="#c9dbeb" fill-opacity="0.9" stroke="#4e4e4e" stroke-width="1.05"/>
<line x1="204.50" y1="142.60" x2="224.70" y2="142.60" stroke="#4e4e4e" stroke-width="1.05"/>
<rect x="224.70" y="126.40" width="20.20" height="46.10" fill="#70a6c5" fill-opacity="0.9" stroke="#4e4e4e" stroke-width="1.05"/>
<line x1="224.70" y1="146.40" x2="244.90" y2="146.40" stroke="#4e4e4e" stroke-width="1.05"/>
<rect x="244.90" y="131.20" width="20.20" height="59.00" fill="#2d689c" fill-opacity="0.9" stroke="#4e4e4e" stroke-width="1.05"/>
<line x1="244.90" y1="156.20" x2="265.10" y2="156.20" stroke="#4e4e4e" stroke-width="1.05"/>
<line x1="25.45" y1="25.0" x2="25.45" y2="246.95" stroke="#828282" stroke-width="1.15"/>
<line x1="293.06" y1="25.0" x2="293.06" y2="246.95" stroke="#b4b4b4" stroke-width="1.5"/>
<line x1="24.95" y1="25.5" x2="293.56" y2="25.5" stroke="#828282" stroke-width="1.1"/>
<line x1="24.95" y1="246.45" x2="293.56" y2="246.45" stroke="#8c8c8c" stroke-width="1.15"/>
<text x="21.80" y="57.36" font-size="4.9" text-anchor="end" fill="#2c2c2c" font-weight="normal" >0.6</text>
<text x="21.80" y="97.76" font-size="4.9" text-anchor="end" fill="#2c2c2c" font-weight="normal" >0.4</text>
<text x="21.80" y="137.96" font-size="4.9" text-anchor="end" fill="#2c2c2c" font-weight="normal" >0.2</text>
<text x="21.80" y="178.16" font-size="4.9" text-anchor="end" fill="#2c2c2c" font-weight="normal" >0.0</text>
<text x="21.80" y="218.36" font-size="4.9" text-anchor="end" fill="#2c2c2c" font-weight="normal" >−0.2</text>
<text transform="translate(9.00,136.20) rotate(-90)" x="0" y="1.73" font-size="4.8" text-anchor="middle" fill="#2c2c2c">BPM</text>
<text x="83.40" y="253.97" font-size="4.65" text-anchor="middle" fill="#2c2c2c" font-weight="normal" >HR Average</text>
<text x="159.00" y="253.97" font-size="4.65" text-anchor="middle" fill="#2c2c2c" font-weight="normal" >HR Min</text>
<text x="234.80" y="253.97" font-size="4.65" text-anchor="middle" fill="#2c2c2c" font-weight="normal" >HR Max</text>
<text x="159.20" y="259.67" font-size="4.65" text-anchor="middle" fill="#2c2c2c" font-weight="normal" >HR Parameters</text>
<path d="M63.20,47.90V44.40H103.60V47.90" fill="none" stroke="#666666" stroke-width="0.95"/>
<path d="M83.40,63.50V60.00H103.60V63.50" fill="none" stroke="#666666" stroke-width="0.95"/>
<path d="M63.20,78.90V75.40H83.40V78.90" fill="none" stroke="#666666" stroke-width="0.95"/>
<path d="M138.80,49.10V45.60H179.20V49.10" fill="none" stroke="#666666" stroke-width="0.95"/>
<path d="M138.80,64.40V60.90H159.00V64.40" fill="none" stroke="#666666" stroke-width="0.95"/>
<path d="M159.00,79.50V76.00H179.20V79.50" fill="none" stroke="#666666" stroke-width="0.95"/>
<path d="M214.60,52.00V48.50H255.00V52.00" fill="none" stroke="#666666" stroke-width="0.95"/>
<path d="M234.80,67.50V64.00H255.00V67.50" fill="none" stroke="#666666" stroke-width="0.95"/>
<path d="M214.60,82.10V78.60H234.80V82.10" fill="none" stroke="#666666" stroke-width="0.95"/>
<text x="72.00" y="40.00" font-size="3.6" fill="#383838" stroke="#383838" stroke-width="0.06" textLength="20.10" lengthAdjust="spacing"><tspan font-style="italic">p</tspan> = 6.8×10<tspan font-size="70%" dy="-1.51" fill-opacity="0.8" stroke-width="0">−3</tspan></text>
<text x="83.20" y="55.00" font-size="3.6" fill="#383838" stroke="#383838" stroke-width="0.06" textLength="18.80" lengthAdjust="spacing"><tspan font-style="italic">p</tspan> = 1.3×10<tspan font-size="70%" dy="-1.51" fill-opacity="0.8" stroke-width="0">−2</tspan></text>
<text x="65.90" y="70.02" font-size="3.4" fill="#383838" stroke="#383838" stroke-width="0.06" textLength="12.10" lengthAdjust="spacing"><tspan font-style="italic">p</tspan> = 1.00</text>
<text x="146.90" y="41.10" font-size="3.6" fill="#383838" stroke="#383838" stroke-width="0.06" textLength="21.00" lengthAdjust="spacing"><tspan font-style="italic">p</tspan> = 2.9×10<tspan font-size="70%" dy="-1.51" fill-opacity="0.8" stroke-width="0">−3</tspan></text>
<text x="141.80" y="56.16" font-size="3.5" fill="#383838" stroke="#383838" stroke-width="0.06" textLength="12.80" lengthAdjust="spacing"><tspan font-style="italic">p</tspan> = 1.00</text>
<text x="159.00" y="71.60" font-size="3.6" fill="#383838" stroke="#383838" stroke-width="0.06" textLength="20.20" lengthAdjust="spacing"><tspan font-style="italic">p</tspan> = 4.3×10<tspan font-size="70%" dy="-1.51" fill-opacity="0.8" stroke-width="0">−3</tspan></text>
<text x="223.00" y="43.90" font-size="3.6" fill="#383838" stroke="#383838" stroke-width="0.06" textLength="20.30" lengthAdjust="spacing"><tspan font-style="italic">p</tspan> = 2.8×10<tspan font-size="70%" dy="-1.51" fill-opacity="0.8" stroke-width="0">−2</tspan></text>
<text x="237.30" y="60.14" font-size="4.0" fill="#2a2a2a" stroke="#2a2a2a" stroke-width="0.12" textLength="16.90" lengthAdjust="spacing"><tspan font-style="italic">p</tspan> = 0.073</text>
<text x="216.80" y="74.78" font-size="4.1" fill="#2a2a2a" stroke="#2a2a2a" stroke-width="0.12" textLength="15.20" lengthAdjust="spacing"><tspan font-style="italic">p</tspan> = 0.22</text>
<rect x="308.4" y="27.4" width="19.0" height="46.00000000000001" rx="1.2" fill="#fff" stroke="#e4e4e4" stroke-width="0.6"/>
<text x="317.90" y="32.76" font-size="4.9" text-anchor="middle" fill="#2c2c2c" font-weight="normal" >Cluster</text>
<rect x="310.4" y="35.60" width="9.200000000000045" height="3.6" fill="#cedfed" stroke="#4e4e4e" stroke-width="0.4"/>
<text x="324.20" y="39.16" font-size="4.9" text-anchor="middle" fill="#2c2c2c" font-weight="normal" >1</text>
<rect x="310.4" y="42.00" width="9.200000000000045" height="3.6" fill="#7eafcb" stroke="#4e4e4e" stroke-width="0.4"/>
<text x="324.20" y="45.56" font-size="4.9" text-anchor="middle" fill="#2c2c2c" font-weight="normal" >2</text>
<rect x="310.4" y="48.40" width="9.200000000000045" height="3.6" fill="#4277a6" stroke="#4e4e4e" stroke-width="0.4"/>
<text x="324.20" y="51.96" font-size="4.9" text-anchor="middle" fill="#2c2c2c" font-weight="normal" >3</text>
<circle cx="314.8" cy="56.8" r="1.8" fill="#bcd5ec"/>
<text x="324.20" y="58.56" font-size="4.9" text-anchor="middle" fill="#2c2c2c" font-weight="normal" >1</text>
<circle cx="314.8" cy="63.0" r="1.8" fill="#5fa6d4"/>
<text x="324.20" y="64.76" font-size="4.9" text-anchor="middle" fill="#2c2c2c" font-weight="normal" >2</text>
<circle cx="314.8" cy="69.4" r="1.8" fill="#2a6db0"/>
<text x="324.20" y="71.16" font-size="4.9" text-anchor="middle" fill="#2c2c2c" font-weight="normal" >3</text>
<line x1="418.50" y1="101.20" x2="418.50" y2="135.40" stroke="#646464" stroke-width="0.9"/>
<line x1="418.50" y1="168.20" x2="418.50" y2="205.60" stroke="#646464" stroke-width="0.9"/>
<line x1="413.35" y1="101.20" x2="423.45" y2="101.20" stroke="#585858" stroke-width="1.1"/>
<line x1="413.35" y1="205.60" x2="423.45" y2="205.60" stroke="#585858" stroke-width="1.1"/>
<line x1="438.50" y1="106.20" x2="438.50" y2="128.20" stroke="#646464" stroke-width="0.9"/>
<line x1="438.50" y1="176.60" x2="438.50" y2="219.60" stroke="#646464" stroke-width="0.9"/>
<line x1="433.55" y1="106.20" x2="443.65" y2="106.20" stroke="#585858" stroke-width="1.1"/>
<line x1="433.55" y1="219.60" x2="443.65" y2="219.60" stroke="#585858" stroke-width="1.1"/>
<line x1="458.50" y1="116.00" x2="458.50" y2="144.60" stroke="#646464" stroke-width="0.9"/>
<line x1="458.50" y1="196.00" x2="458.50" y2="238.80" stroke="#646464" stroke-width="0.9"/>
<line x1="453.75" y1="116.00" x2="463.85" y2="116.00" stroke="#585858" stroke-width="1.1"/>
<line x1="453.75" y1="238.80" x2="463.85" y2="238.80" stroke="#585858" stroke-width="1.1"/>
<line x1="494.50" y1="89.00" x2="494.50" y2="117.20" stroke="#646464" stroke-width="0.9"/>
<line x1="494.50" y1="161.40" x2="494.50" y2="203.80" stroke="#646464" stroke-width="0.9"/>
<line x1="489.35" y1="89.00" x2="499.45" y2="89.00" stroke="#585858" stroke-width="1.1"/>
<line x1="489.35" y1="203.80" x2="499.45" y2="203.80" stroke="#585858" stroke-width="1.1"/>
<line x1="514.50" y1="103.00" x2="514.50" y2="129.40" stroke="#646464" stroke-width="0.9"/>
<line x1="514.50" y1="168.30" x2="514.50" y2="219.60" stroke="#646464" stroke-width="0.9"/>
<line x1="509.55" y1="103.00" x2="519.65" y2="103.00" stroke="#585858" stroke-width="1.1"/>
<line x1="509.55" y1="219.60" x2="519.65" y2="219.60" stroke="#585858" stroke-width="1.1"/>
<line x1="534.50" y1="93.40" x2="534.50" y2="137.40" stroke="#646464" stroke-width="0.9"/>
<line x1="534.50" y1="184.50" x2="534.50" y2="234.60" stroke="#646464" stroke-width="0.9"/>
<line x1="529.75" y1="93.40" x2="539.85" y2="93.40" stroke="#585858" stroke-width="1.1"/>
<line x1="529.75" y1="234.60" x2="539.85" y2="234.60" stroke="#585858" stroke-width="1.1"/>
<line x1="570.50" y1="107.60" x2="570.50" y2="140.40" stroke="#646464" stroke-width="0.9"/>
<line x1="570.50" y1="168.30" x2="570.50" y2="194.00" stroke="#646464" stroke-width="0.9"/>
<line x1="565.25" y1="107.60" x2="575.35" y2="107.60" stroke="#585858" stroke-width="1.1"/>
<line x1="565.25" y1="194.00" x2="575.35" y2="194.00" stroke="#585858" stroke-width="1.1"/>
<line x1="590.50" y1="88.40" x2="590.50" y2="121.40" stroke="#646464" stroke-width="0.9"/>
<line x1="590.50" y1="179.40" x2="590.50" y2="219.40" stroke="#646464" stroke-width="0.9"/>
<line x1="585.45" y1="88.40" x2="595.55" y2="88.40" stroke="#585858" stroke-width="1.1"/>
<line x1="585.45" y1="219.40" x2="595.55" y2="219.40" stroke="#585858" stroke-width="1.1"/>
<line x1="610.50" y1="95.40" x2="610.50" y2="143.60" stroke="#646464" stroke-width="0.9"/>
<line x1="610.50" y1="197.80" x2="610.50" y2="232.60" stroke="#646464" stroke-width="0.9"/>
<line x1="605.65" y1="95.40" x2="615.75" y2="95.40" stroke="#585858" stroke-width="1.1"/>
<line x1="605.65" y1="232.60" x2="615.75" y2="232.60" stroke="#585858" stroke-width="1.1"/>
<g fill="#bcd5ec" opacity="0.8"><circle cx="415.2" cy="146.4" r="0.72"/><circle cx="418.5" cy="133.4" r="0.72"/><circle cx="420.3" cy="147.9" r="0.72"/><circle cx="418.4" cy="149.2" r="0.72"/><circle cx="417.3" cy="139.2" r="0.72"/><circle cx="419.3" cy="144.6" r="0.72"/><circle cx="420.6" cy="160.9" r="0.72"/><circle cx="417.6" cy="148.7" r="0.72"/><circle cx="417.3" cy="184.2" r="0.72"/><circle cx="419.5" cy="146.6" r="0.72"/><circle cx="421.3" cy="145.8" r="0.72"/><circle cx="415.6" cy="151.2" r="0.72"/><circle cx="415.2" cy="154.5" r="0.72"/><circle cx="415.2" cy="161.5" r="0.72"/><circle cx="418.8" cy="148.4" r="0.72"/><circle cx="417.5" cy="163.3" r="0.72"/><circle cx="419.3" cy="109.1" r="0.72"/><circle cx="416.7" cy="182.7" r="0.72"/><circle cx="417.3" cy="121.6" r="0.72"/><circle cx="415.7" cy="106.1" r="0.72"/><circle cx="417.6" cy="122.3" r="0.72"/><circle cx="418.8" cy="165.3" r="0.72"/><circle cx="417.4" cy="149.5" r="0.72"/><circle cx="418.4" cy="174.6" r="0.72"/><circle cx="417.2" cy="142.5" r="0.72"/><circle cx="417.5" cy="104.9" r="0.72"/><circle cx="420.0" cy="142.1" r="0.72"/><circle cx="418.8" cy="132.2" r="0.72"/><circle cx="418.3" cy="164.1" r="0.72"/><circle cx="418.3" cy="164.3" r="0.72"/><circle cx="416.4" cy="127.2" r="0.72"/><circle cx="417.2" cy="173.2" r="0.72"/><circle cx="417.2" cy="150.4" r="0.72"/><circle cx="418.0" cy="141.5" r="0.72"/><circle cx="420.4" cy="148.3" r="0.72"/><circle cx="418.4" cy="156.6" r="0.72"/><circle cx="419.9" cy="181.3" r="0.72"/><circle cx="420.6" cy="183.2" r="0.72"/><circle cx="419.3" cy="184.0" r="0.72"/><circle cx="420.1" cy="129.0" r="0.72"/><circle cx="418.6" cy="143.5" r="0.72"/><circle cx="417.9" cy="199.4" r="0.72"/><circle cx="417.3" cy="133.7" r="0.72"/><circle cx="420.6" cy="160.7" r="0.72"/><circle cx="418.3" cy="176.0" r="0.72"/><circle cx="419.1" cy="120.5" r="0.72"/><circle cx="417.4" cy="145.3" r="0.72"/><circle cx="419.8" cy="158.4" r="0.72"/><circle cx="420.0" cy="190.6" r="0.72"/><circle cx="417.1" cy="112.7" r="0.72"/><circle cx="417.5" cy="154.5" r="0.72"/><circle cx="417.6" cy="192.4" r="0.72"/><circle cx="419.2" cy="117.0" r="0.72"/><circle cx="417.3" cy="121.1" r="0.72"/><circle cx="417.7" cy="129.7" r="0.72"/><circle cx="420.4" cy="112.6" r="0.72"/><circle cx="419.5" cy="150.5" r="0.72"/><circle cx="418.0" cy="158.1" r="0.72"/><circle cx="418.6" cy="137.3" r="0.72"/><circle cx="419.7" cy="123.7" r="0.72"/><circle cx="418.7" cy="151.3" r="0.72"/><circle cx="417.3" cy="175.6" r="0.72"/><circle cx="420.0" cy="160.4" r="0.72"/><circle cx="421.7" cy="165.3" r="0.72"/><circle cx="419.8" cy="146.6" r="0.72"/><circle cx="419.7" cy="158.4" r="0.72"/><circle cx="419.1" cy="157.2" r="0.72"/><circle cx="418.7" cy="128.7" r="0.72"/><circle cx="418.4" cy="160.9" r="0.72"/><circle cx="419.4" cy="165.8" r="0.72"/><circle cx="420.7" cy="169.4" r="0.72"/><circle cx="418.9" cy="161.6" r="0.72"/><circle cx="418.2" cy="177.4" r="0.72"/><circle cx="417.7" cy="166.8" r="0.72"/><circle cx="419.6" cy="127.9" r="0.72"/><circle cx="419.6" cy="127.7" r="0.72"/><circle cx="419.2" cy="130.7" r="0.72"/><circle cx="419.6" cy="137.0" r="0.72"/><circle cx="419.4" cy="159.1" r="0.72"/><circle cx="418.1" cy="114.1" r="0.72"/><circle cx="418.6" cy="149.9" r="0.72"/><circle cx="420.1" cy="180.2" r="0.72"/><circle cx="418.2" cy="138.0" r="0.72"/><circle cx="421.7" cy="145.0" r="0.72"/><circle cx="418.5" cy="159.7" r="0.72"/><circle cx="420.5" cy="171.7" r="0.72"/><circle cx="419.7" cy="124.0" r="0.72"/><circle cx="419.7" cy="147.7" r="0.72"/><circle cx="418.6" cy="166.7" r="0.72"/><circle cx="416.9" cy="140.9" r="0.72"/><circle cx="417.8" cy="146.2" r="0.72"/><circle cx="419.8" cy="185.9" r="0.72"/><circle cx="419.2" cy="175.2" r="0.72"/><circle cx="417.3" cy="140.6" r="0.72"/><circle cx="417.0" cy="182.9" r="0.72"/><circle cx="417.8" cy="150.2" r="0.72"/><circle cx="419.6" cy="164.8" r="0.72"/><circle cx="418.9" cy="170.4" r="0.72"/><circle cx="418.1" cy="180.8" r="0.72"/><circle cx="417.2" cy="157.2" r="0.72"/><circle cx="418.9" cy="119.9" r="0.72"/><circle cx="415.2" cy="125.2" r="0.72"/><circle cx="418.3" cy="180.1" r="0.72"/><circle cx="418.8" cy="139.6" r="0.72"/><circle cx="417.4" cy="140.5" r="0.72"/><circle cx="419.7" cy="140.8" r="0.72"/><circle cx="418.4" cy="138.4" r="0.72"/><circle cx="421.4" cy="160.8" r="0.72"/><circle cx="418.7" cy="142.6" r="0.72"/><circle cx="419.1" cy="119.4" r="0.72"/><circle cx="419.4" cy="101.5" r="0.72"/><circle cx="416.4" cy="100.8" r="0.72"/><circle cx="416.9" cy="101.0" r="0.72"/><circle cx="417.5" cy="101.2" r="0.72"/><circle cx="416.4" cy="205.5" r="0.72"/><circle cx="419.0" cy="205.4" r="0.72"/><circle cx="419.9" cy="205.8" r="0.72"/><circle cx="419.4" cy="205.5" r="0.72"/></g>
<g fill="#5fa6d4" opacity="0.92"><circle cx="438.0" cy="156.5" r="0.72"/><circle cx="437.3" cy="218.1" r="0.72"/><circle cx="438.8" cy="123.4" r="0.72"/><circle cx="437.3" cy="204.7" r="0.72"/><circle cx="438.2" cy="122.1" r="0.72"/><circle cx="438.3" cy="177.2" r="0.72"/><circle cx="438.9" cy="193.2" r="0.72"/><circle cx="437.6" cy="117.8" r="0.72"/><circle cx="440.7" cy="128.2" r="0.72"/><circle cx="439.8" cy="161.0" r="0.72"/><circle cx="439.2" cy="128.4" r="0.72"/><circle cx="437.5" cy="196.3" r="0.72"/><circle cx="435.4" cy="114.9" r="0.72"/><circle cx="440.3" cy="133.2" r="0.72"/><circle cx="439.7" cy="129.2" r="0.72"/><circle cx="436.7" cy="154.5" r="0.72"/><circle cx="438.1" cy="202.4" r="0.72"/><circle cx="437.0" cy="148.4" r="0.72"/><circle cx="440.4" cy="116.6" r="0.72"/><circle cx="440.5" cy="204.5" r="0.72"/><circle cx="439.0" cy="132.2" r="0.72"/><circle cx="437.5" cy="145.5" r="0.72"/><circle cx="437.3" cy="112.4" r="0.72"/><circle cx="437.1" cy="176.6" r="0.72"/><circle cx="437.6" cy="201.4" r="0.72"/><circle cx="439.9" cy="181.8" r="0.72"/><circle cx="440.2" cy="170.0" r="0.72"/><circle cx="440.5" cy="135.0" r="0.72"/><circle cx="438.7" cy="177.9" r="0.72"/><circle cx="440.5" cy="155.4" r="0.72"/><circle cx="437.8" cy="115.9" r="0.72"/><circle cx="439.7" cy="120.0" r="0.72"/><circle cx="437.3" cy="189.0" r="0.72"/><circle cx="438.1" cy="124.5" r="0.72"/><circle cx="438.7" cy="145.3" r="0.72"/><circle cx="437.7" cy="135.3" r="0.72"/><circle cx="436.0" cy="141.0" r="0.72"/><circle cx="439.2" cy="123.6" r="0.72"/><circle cx="438.2" cy="192.7" r="0.72"/><circle cx="440.0" cy="181.3" r="0.72"/><circle cx="438.4" cy="201.3" r="0.72"/><circle cx="439.6" cy="132.3" r="0.72"/><circle cx="439.6" cy="155.1" r="0.72"/><circle cx="439.5" cy="152.8" r="0.72"/><circle cx="438.9" cy="164.3" r="0.72"/><circle cx="439.1" cy="213.1" r="0.72"/><circle cx="438.6" cy="109.0" r="0.72"/><circle cx="437.9" cy="131.0" r="0.72"/><circle cx="437.9" cy="111.0" r="0.72"/><circle cx="438.3" cy="150.6" r="0.72"/><circle cx="439.3" cy="156.6" r="0.72"/><circle cx="440.4" cy="214.0" r="0.72"/><circle cx="437.2" cy="117.3" r="0.72"/><circle cx="436.9" cy="116.0" r="0.72"/><circle cx="438.6" cy="136.5" r="0.72"/><circle cx="439.8" cy="189.4" r="0.72"/><circle cx="439.1" cy="208.1" r="0.72"/><circle cx="435.6" cy="171.6" r="0.72"/><circle cx="436.6" cy="183.6" r="0.72"/><circle cx="436.3" cy="116.7" r="0.72"/><circle cx="439.2" cy="185.7" r="0.72"/><circle cx="435.7" cy="128.9" r="0.72"/><circle cx="439.8" cy="168.3" r="0.72"/><circle cx="441.3" cy="169.0" r="0.72"/><circle cx="437.2" cy="163.7" r="0.72"/><circle cx="438.1" cy="123.6" r="0.72"/><circle cx="440.6" cy="177.7" r="0.72"/><circle cx="439.1" cy="138.5" r="0.72"/><circle cx="437.7" cy="124.3" r="0.72"/><circle cx="435.4" cy="115.1" r="0.72"/><circle cx="437.7" cy="150.0" r="0.72"/><circle cx="438.6" cy="171.2" r="0.72"/><circle cx="440.7" cy="142.5" r="0.72"/><circle cx="439.8" cy="186.3" r="0.72"/><circle cx="439.3" cy="155.6" r="0.72"/><circle cx="438.5" cy="205.3" r="0.72"/><circle cx="439.5" cy="156.0" r="0.72"/><circle cx="440.9" cy="216.7" r="0.72"/><circle cx="440.3" cy="123.0" r="0.72"/><circle cx="436.4" cy="157.5" r="0.72"/><circle cx="437.6" cy="173.0" r="0.72"/><circle cx="437.0" cy="158.0" r="0.72"/><circle cx="436.5" cy="167.0" r="0.72"/><circle cx="439.5" cy="123.9" r="0.72"/><circle cx="439.3" cy="118.6" r="0.72"/><circle cx="439.7" cy="155.6" r="0.72"/><circle cx="438.0" cy="144.0" r="0.72"/><circle cx="439.4" cy="197.1" r="0.72"/><circle cx="435.4" cy="168.6" r="0.72"/><circle cx="439.6" cy="118.2" r="0.72"/><circle cx="441.9" cy="121.4" r="0.72"/><circle cx="438.0" cy="139.2" r="0.72"/><circle cx="440.8" cy="124.8" r="0.72"/><circle cx="439.5" cy="140.1" r="0.72"/><circle cx="435.4" cy="171.5" r="0.72"/><circle cx="436.9" cy="151.5" r="0.72"/><circle cx="438.2" cy="136.9" r="0.72"/><circle cx="440.0" cy="120.0" r="0.72"/><circle cx="439.5" cy="208.1" r="0.72"/><circle cx="440.8" cy="155.1" r="0.72"/><circle cx="437.8" cy="197.1" r="0.72"/><circle cx="437.3" cy="142.6" r="0.72"/><circle cx="436.6" cy="158.5" r="0.72"/><circle cx="438.2" cy="160.7" r="0.72"/><circle cx="440.0" cy="192.7" r="0.72"/><circle cx="441.6" cy="145.3" r="0.72"/><circle cx="439.4" cy="193.0" r="0.72"/><circle cx="437.7" cy="195.5" r="0.72"/><circle cx="438.6" cy="146.8" r="0.72"/><circle cx="440.4" cy="144.8" r="0.72"/><circle cx="437.4" cy="106.4" r="0.72"/><circle cx="436.9" cy="106.3" r="0.72"/><circle cx="439.0" cy="105.9" r="0.72"/><circle cx="438.2" cy="105.9" r="0.72"/><circle cx="438.3" cy="220.1" r="0.72"/><circle cx="438.8" cy="219.9" r="0.72"/><circle cx="439.7" cy="219.3" r="0.72"/><circle cx="440.8" cy="219.9" r="0.72"/></g>
<g fill="#2a6db0" opacity="0.92"><circle cx="459.6" cy="213.8" r="0.72"/><circle cx="457.4" cy="204.7" r="0.72"/><circle cx="456.3" cy="125.5" r="0.72"/><circle cx="457.8" cy="209.0" r="0.72"/><circle cx="459.9" cy="142.8" r="0.72"/><circle cx="459.2" cy="184.5" r="0.72"/><circle cx="457.9" cy="230.8" r="0.72"/><circle cx="458.2" cy="191.3" r="0.72"/><circle cx="455.9" cy="149.3" r="0.72"/><circle cx="460.3" cy="158.9" r="0.72"/><circle cx="455.6" cy="135.1" r="0.72"/><circle cx="457.5" cy="135.2" r="0.72"/><circle cx="458.8" cy="205.1" r="0.72"/><circle cx="457.4" cy="143.7" r="0.72"/><circle cx="459.2" cy="152.3" r="0.72"/><circle cx="458.1" cy="184.4" r="0.72"/><circle cx="461.2" cy="146.0" r="0.72"/><circle cx="458.0" cy="223.8" r="0.72"/><circle cx="460.4" cy="160.9" r="0.72"/><circle cx="460.0" cy="140.8" r="0.72"/><circle cx="460.9" cy="212.2" r="0.72"/><circle cx="457.7" cy="195.6" r="0.72"/><circle cx="456.0" cy="202.1" r="0.72"/><circle cx="459.8" cy="163.4" r="0.72"/><circle cx="459.5" cy="212.1" r="0.72"/><circle cx="458.9" cy="141.0" r="0.72"/><circle cx="457.6" cy="203.0" r="0.72"/><circle cx="458.4" cy="151.6" r="0.72"/><circle cx="460.8" cy="183.7" r="0.72"/><circle cx="461.3" cy="168.1" r="0.72"/><circle cx="460.2" cy="151.3" r="0.72"/><circle cx="455.6" cy="231.3" r="0.72"/><circle cx="459.9" cy="187.3" r="0.72"/><circle cx="460.3" cy="135.0" r="0.72"/><circle cx="459.8" cy="141.0" r="0.72"/><circle cx="459.0" cy="139.6" r="0.72"/><circle cx="457.4" cy="152.4" r="0.72"/><circle cx="459.9" cy="206.3" r="0.72"/><circle cx="456.3" cy="137.5" r="0.72"/><circle cx="460.8" cy="160.1" r="0.72"/><circle cx="458.3" cy="217.9" r="0.72"/><circle cx="459.8" cy="133.1" r="0.72"/><circle cx="459.7" cy="162.5" r="0.72"/><circle cx="459.1" cy="185.5" r="0.72"/><circle cx="457.4" cy="175.4" r="0.72"/><circle cx="458.1" cy="186.2" r="0.72"/><circle cx="457.6" cy="234.2" r="0.72"/><circle cx="458.1" cy="229.3" r="0.72"/><circle cx="459.3" cy="176.2" r="0.72"/><circle cx="458.8" cy="207.8" r="0.72"/><circle cx="458.6" cy="153.4" r="0.72"/><circle cx="460.0" cy="172.4" r="0.72"/><circle cx="457.1" cy="194.9" r="0.72"/><circle cx="458.0" cy="126.0" r="0.72"/><circle cx="460.8" cy="119.6" r="0.72"/><circle cx="459.2" cy="143.1" r="0.72"/><circle cx="459.1" cy="135.1" r="0.72"/><circle cx="456.6" cy="157.4" r="0.72"/><circle cx="458.3" cy="185.3" r="0.72"/><circle cx="461.5" cy="135.1" r="0.72"/><circle cx="458.2" cy="128.3" r="0.72"/><circle cx="457.6" cy="143.7" r="0.72"/><circle cx="456.6" cy="145.8" r="0.72"/><circle cx="458.7" cy="186.5" r="0.72"/><circle cx="458.3" cy="166.8" r="0.72"/><circle cx="459.1" cy="187.8" r="0.72"/><circle cx="460.6" cy="189.1" r="0.72"/><circle cx="458.7" cy="184.9" r="0.72"/><circle cx="458.9" cy="196.7" r="0.72"/><circle cx="460.2" cy="209.1" r="0.72"/><circle cx="460.0" cy="233.7" r="0.72"/><circle cx="457.6" cy="177.5" r="0.72"/><circle cx="458.5" cy="164.8" r="0.72"/><circle cx="459.7" cy="219.5" r="0.72"/><circle cx="457.9" cy="191.1" r="0.72"/><circle cx="461.1" cy="166.7" r="0.72"/><circle cx="456.9" cy="128.5" r="0.72"/><circle cx="461.8" cy="163.1" r="0.72"/><circle cx="459.7" cy="217.2" r="0.72"/><circle cx="460.7" cy="120.7" r="0.72"/><circle cx="459.1" cy="185.9" r="0.72"/><circle cx="457.2" cy="135.5" r="0.72"/><circle cx="455.6" cy="219.2" r="0.72"/><circle cx="459.1" cy="193.6" r="0.72"/><circle cx="459.7" cy="195.3" r="0.72"/><circle cx="458.9" cy="194.3" r="0.72"/><circle cx="459.1" cy="149.7" r="0.72"/><circle cx="460.3" cy="201.3" r="0.72"/><circle cx="460.3" cy="161.0" r="0.72"/><circle cx="457.1" cy="201.7" r="0.72"/><circle cx="460.9" cy="146.4" r="0.72"/><circle cx="458.3" cy="217.3" r="0.72"/><circle cx="459.8" cy="140.3" r="0.72"/><circle cx="457.8" cy="209.0" r="0.72"/><circle cx="455.7" cy="202.7" r="0.72"/><circle cx="458.1" cy="156.8" r="0.72"/><circle cx="459.1" cy="130.1" r="0.72"/><circle cx="460.2" cy="144.7" r="0.72"/><circle cx="456.8" cy="155.8" r="0.72"/><circle cx="460.1" cy="187.7" r="0.72"/><circle cx="458.4" cy="221.1" r="0.72"/><circle cx="459.0" cy="158.4" r="0.72"/><circle cx="456.7" cy="188.0" r="0.72"/><circle cx="458.9" cy="195.3" r="0.72"/><circle cx="462.1" cy="175.9" r="0.72"/><circle cx="459.1" cy="165.3" r="0.72"/><circle cx="460.8" cy="120.7" r="0.72"/><circle cx="459.5" cy="147.5" r="0.72"/><circle cx="459.6" cy="188.5" r="0.72"/><circle cx="459.3" cy="208.2" r="0.72"/><circle cx="460.0" cy="115.7" r="0.72"/><circle cx="460.2" cy="116.0" r="0.72"/><circle cx="459.0" cy="116.2" r="0.72"/><circle cx="459.0" cy="116.3" r="0.72"/><circle cx="459.2" cy="238.7" r="0.72"/><circle cx="459.9" cy="238.7" r="0.72"/><circle cx="459.7" cy="239.2" r="0.72"/><circle cx="460.0" cy="238.7" r="0.72"/></g>
<g fill="#bcd5ec" opacity="0.8"><circle cx="496.1" cy="115.6" r="0.72"/><circle cx="494.2" cy="159.1" r="0.72"/><circle cx="495.2" cy="138.6" r="0.72"/><circle cx="494.1" cy="198.0" r="0.72"/><circle cx="492.9" cy="142.8" r="0.72"/><circle cx="492.2" cy="152.1" r="0.72"/><circle cx="494.8" cy="93.2" r="0.72"/><circle cx="497.0" cy="180.8" r="0.72"/><circle cx="494.8" cy="192.4" r="0.72"/><circle cx="494.8" cy="140.6" r="0.72"/><circle cx="495.9" cy="135.6" r="0.72"/><circle cx="497.7" cy="151.9" r="0.72"/><circle cx="495.5" cy="172.7" r="0.72"/><circle cx="496.7" cy="103.1" r="0.72"/><circle cx="497.1" cy="171.1" r="0.72"/><circle cx="494.9" cy="162.2" r="0.72"/><circle cx="492.2" cy="94.8" r="0.72"/><circle cx="494.4" cy="153.6" r="0.72"/><circle cx="493.1" cy="113.6" r="0.72"/><circle cx="494.7" cy="104.9" r="0.72"/><circle cx="494.3" cy="178.2" r="0.72"/><circle cx="493.8" cy="127.1" r="0.72"/><circle cx="494.8" cy="148.9" r="0.72"/><circle cx="494.0" cy="134.7" r="0.72"/><circle cx="497.7" cy="148.2" r="0.72"/><circle cx="492.6" cy="128.8" r="0.72"/><circle cx="494.4" cy="164.1" r="0.72"/><circle cx="495.6" cy="146.3" r="0.72"/><circle cx="495.2" cy="163.3" r="0.72"/><circle cx="496.9" cy="127.3" r="0.72"/><circle cx="495.5" cy="157.4" r="0.72"/><circle cx="494.4" cy="134.2" r="0.72"/><circle cx="496.5" cy="171.8" r="0.72"/><circle cx="492.0" cy="160.0" r="0.72"/><circle cx="495.0" cy="117.1" r="0.72"/><circle cx="493.3" cy="154.7" r="0.72"/><circle cx="495.1" cy="142.0" r="0.72"/><circle cx="493.8" cy="123.5" r="0.72"/><circle cx="492.4" cy="131.6" r="0.72"/><circle cx="495.0" cy="106.9" r="0.72"/><circle cx="495.5" cy="165.6" r="0.72"/><circle cx="493.4" cy="115.1" r="0.72"/><circle cx="495.7" cy="108.6" r="0.72"/><circle cx="497.2" cy="91.8" r="0.72"/><circle cx="495.2" cy="157.5" r="0.72"/><circle cx="494.5" cy="96.2" r="0.72"/><circle cx="495.2" cy="197.9" r="0.72"/><circle cx="493.9" cy="118.5" r="0.72"/><circle cx="495.6" cy="179.7" r="0.72"/><circle cx="496.5" cy="180.8" r="0.72"/><circle cx="496.6" cy="154.0" r="0.72"/><circle cx="493.2" cy="107.0" r="0.72"/><circle cx="495.5" cy="95.3" r="0.72"/><circle cx="494.6" cy="114.2" r="0.72"/><circle cx="496.2" cy="122.9" r="0.72"/><circle cx="494.8" cy="163.3" r="0.72"/><circle cx="494.6" cy="146.5" r="0.72"/><circle cx="494.6" cy="92.9" r="0.72"/><circle cx="495.0" cy="155.9" r="0.72"/><circle cx="493.9" cy="141.8" r="0.72"/><circle cx="493.5" cy="174.4" r="0.72"/><circle cx="494.8" cy="123.3" r="0.72"/><circle cx="494.3" cy="172.9" r="0.72"/><circle cx="492.6" cy="177.6" r="0.72"/><circle cx="491.2" cy="152.9" r="0.72"/><circle cx="494.5" cy="153.2" r="0.72"/><circle cx="497.6" cy="165.1" r="0.72"/><circle cx="493.7" cy="119.0" r="0.72"/><circle cx="494.9" cy="159.5" r="0.72"/><circle cx="495.5" cy="184.2" r="0.72"/><circle cx="492.8" cy="189.0" r="0.72"/><circle cx="494.3" cy="135.5" r="0.72"/><circle cx="496.8" cy="152.1" r="0.72"/><circle cx="494.6" cy="126.3" r="0.72"/><circle cx="492.1" cy="136.6" r="0.72"/><circle cx="493.7" cy="94.7" r="0.72"/><circle cx="494.1" cy="107.7" r="0.72"/><circle cx="492.9" cy="155.8" r="0.72"/><circle cx="495.9" cy="147.5" r="0.72"/><circle cx="494.1" cy="150.2" r="0.72"/><circle cx="497.7" cy="148.2" r="0.72"/><circle cx="497.7" cy="199.6" r="0.72"/><circle cx="495.5" cy="130.6" r="0.72"/><circle cx="493.9" cy="130.3" r="0.72"/><circle cx="494.5" cy="150.9" r="0.72"/><circle cx="495.4" cy="177.0" r="0.72"/><circle cx="495.1" cy="110.3" r="0.72"/><circle cx="491.2" cy="187.8" r="0.72"/><circle cx="493.4" cy="122.5" r="0.72"/><circle cx="496.4" cy="136.2" r="0.72"/><circle cx="494.5" cy="156.0" r="0.72"/><circle cx="494.4" cy="117.6" r="0.72"/><circle cx="492.3" cy="109.5" r="0.72"/><circle cx="494.3" cy="91.8" r="0.72"/><circle cx="492.6" cy="163.0" r="0.72"/><circle cx="492.5" cy="150.8" r="0.72"/><circle cx="492.9" cy="120.8" r="0.72"/><circle cx="495.6" cy="130.2" r="0.72"/><circle cx="493.4" cy="124.1" r="0.72"/><circle cx="496.4" cy="136.7" r="0.72"/><circle cx="493.5" cy="164.2" r="0.72"/><circle cx="493.6" cy="104.4" r="0.72"/><circle cx="494.1" cy="143.0" r="0.72"/><circle cx="492.5" cy="142.7" r="0.72"/><circle cx="496.6" cy="164.4" r="0.72"/><circle cx="497.2" cy="138.1" r="0.72"/><circle cx="491.6" cy="138.5" r="0.72"/><circle cx="493.9" cy="162.6" r="0.72"/><circle cx="495.2" cy="169.9" r="0.72"/><circle cx="492.8" cy="127.5" r="0.72"/><circle cx="495.8" cy="89.5" r="0.72"/><circle cx="496.0" cy="88.6" r="0.72"/><circle cx="493.9" cy="89.4" r="0.72"/><circle cx="495.8" cy="88.7" r="0.72"/><circle cx="492.9" cy="203.7" r="0.72"/><circle cx="492.7" cy="203.8" r="0.72"/><circle cx="495.7" cy="203.9" r="0.72"/><circle cx="494.2" cy="203.5" r="0.72"/></g>
<g fill="#5fa6d4" opacity="0.92"><circle cx="517.0" cy="159.6" r="0.72"/><circle cx="514.6" cy="156.4" r="0.72"/><circle cx="515.4" cy="154.7" r="0.72"/><circle cx="512.1" cy="181.9" r="0.72"/><circle cx="513.3" cy="136.1" r="0.72"/><circle cx="516.0" cy="169.8" r="0.72"/><circle cx="513.8" cy="161.1" r="0.72"/><circle cx="515.9" cy="209.1" r="0.72"/><circle cx="514.1" cy="174.6" r="0.72"/><circle cx="514.4" cy="177.7" r="0.72"/><circle cx="514.4" cy="132.5" r="0.72"/><circle cx="516.0" cy="169.3" r="0.72"/><circle cx="516.5" cy="123.6" r="0.72"/><circle cx="515.8" cy="121.7" r="0.72"/><circle cx="512.1" cy="174.5" r="0.72"/><circle cx="515.9" cy="142.1" r="0.72"/><circle cx="516.2" cy="161.1" r="0.72"/><circle cx="515.1" cy="161.3" r="0.72"/><circle cx="514.2" cy="133.0" r="0.72"/><circle cx="516.1" cy="139.2" r="0.72"/><circle cx="513.7" cy="125.3" r="0.72"/><circle cx="515.8" cy="145.8" r="0.72"/><circle cx="516.1" cy="115.8" r="0.72"/><circle cx="517.9" cy="133.1" r="0.72"/><circle cx="513.9" cy="161.0" r="0.72"/><circle cx="513.4" cy="195.5" r="0.72"/><circle cx="513.2" cy="129.0" r="0.72"/><circle cx="515.9" cy="153.6" r="0.72"/><circle cx="514.6" cy="118.1" r="0.72"/><circle cx="514.2" cy="144.5" r="0.72"/><circle cx="511.7" cy="155.6" r="0.72"/><circle cx="515.3" cy="158.5" r="0.72"/><circle cx="515.9" cy="155.0" r="0.72"/><circle cx="513.5" cy="153.9" r="0.72"/><circle cx="515.7" cy="152.3" r="0.72"/><circle cx="512.5" cy="130.3" r="0.72"/><circle cx="516.9" cy="159.3" r="0.72"/><circle cx="515.2" cy="148.2" r="0.72"/><circle cx="514.7" cy="128.2" r="0.72"/><circle cx="513.8" cy="172.0" r="0.72"/><circle cx="514.9" cy="194.3" r="0.72"/><circle cx="513.9" cy="192.1" r="0.72"/><circle cx="514.1" cy="129.2" r="0.72"/><circle cx="514.4" cy="136.0" r="0.72"/><circle cx="514.1" cy="133.1" r="0.72"/><circle cx="514.7" cy="135.1" r="0.72"/><circle cx="511.4" cy="158.3" r="0.72"/><circle cx="511.8" cy="124.9" r="0.72"/><circle cx="515.5" cy="120.7" r="0.72"/><circle cx="515.7" cy="151.7" r="0.72"/><circle cx="515.8" cy="214.1" r="0.72"/><circle cx="514.5" cy="167.6" r="0.72"/><circle cx="514.5" cy="164.5" r="0.72"/><circle cx="517.7" cy="148.1" r="0.72"/><circle cx="514.2" cy="152.3" r="0.72"/><circle cx="514.8" cy="165.1" r="0.72"/><circle cx="515.6" cy="121.1" r="0.72"/><circle cx="511.7" cy="167.9" r="0.72"/><circle cx="516.4" cy="174.5" r="0.72"/><circle cx="515.2" cy="160.9" r="0.72"/><circle cx="512.5" cy="155.5" r="0.72"/><circle cx="514.7" cy="161.4" r="0.72"/><circle cx="515.7" cy="126.0" r="0.72"/><circle cx="517.9" cy="148.0" r="0.72"/><circle cx="513.8" cy="199.8" r="0.72"/><circle cx="516.4" cy="158.8" r="0.72"/><circle cx="514.0" cy="147.2" r="0.72"/><circle cx="515.7" cy="126.4" r="0.72"/><circle cx="513.9" cy="165.8" r="0.72"/><circle cx="511.9" cy="144.6" r="0.72"/><circle cx="516.2" cy="156.1" r="0.72"/><circle cx="513.9" cy="120.2" r="0.72"/><circle cx="512.6" cy="198.3" r="0.72"/><circle cx="515.5" cy="200.3" r="0.72"/><circle cx="516.5" cy="121.4" r="0.72"/><circle cx="515.5" cy="177.5" r="0.72"/><circle cx="512.0" cy="116.1" r="0.72"/><circle cx="513.5" cy="153.5" r="0.72"/><circle cx="514.0" cy="136.7" r="0.72"/><circle cx="513.4" cy="173.3" r="0.72"/><circle cx="516.7" cy="123.3" r="0.72"/><circle cx="517.4" cy="173.8" r="0.72"/><circle cx="516.9" cy="189.8" r="0.72"/><circle cx="516.1" cy="112.9" r="0.72"/><circle cx="513.9" cy="158.5" r="0.72"/><circle cx="513.6" cy="117.7" r="0.72"/><circle cx="514.9" cy="135.6" r="0.72"/><circle cx="515.0" cy="134.6" r="0.72"/><circle cx="515.3" cy="202.1" r="0.72"/><circle cx="513.5" cy="170.5" r="0.72"/><circle cx="513.8" cy="145.5" r="0.72"/><circle cx="516.4" cy="181.2" r="0.72"/><circle cx="513.2" cy="117.1" r="0.72"/><circle cx="517.3" cy="181.6" r="0.72"/><circle cx="516.1" cy="126.1" r="0.72"/><circle cx="514.4" cy="204.4" r="0.72"/><circle cx="513.9" cy="160.6" r="0.72"/><circle cx="513.7" cy="149.0" r="0.72"/><circle cx="512.1" cy="191.1" r="0.72"/><circle cx="515.2" cy="157.6" r="0.72"/><circle cx="516.8" cy="136.2" r="0.72"/><circle cx="516.5" cy="186.2" r="0.72"/><circle cx="517.9" cy="116.0" r="0.72"/><circle cx="514.5" cy="150.9" r="0.72"/><circle cx="513.1" cy="165.9" r="0.72"/><circle cx="516.7" cy="153.6" r="0.72"/><circle cx="516.1" cy="115.3" r="0.72"/><circle cx="515.6" cy="121.3" r="0.72"/><circle cx="513.9" cy="144.0" r="0.72"/><circle cx="514.4" cy="183.4" r="0.72"/><circle cx="513.6" cy="103.5" r="0.72"/><circle cx="516.1" cy="102.8" r="0.72"/><circle cx="516.5" cy="102.6" r="0.72"/><circle cx="515.0" cy="103.6" r="0.72"/><circle cx="513.9" cy="220.1" r="0.72"/><circle cx="515.3" cy="219.3" r="0.72"/><circle cx="513.9" cy="219.6" r="0.72"/><circle cx="513.5" cy="219.9" r="0.72"/></g>
<g fill="#2a6db0" opacity="0.92"><circle cx="535.1" cy="193.6" r="0.72"/><circle cx="533.5" cy="211.4" r="0.72"/><circle cx="536.4" cy="152.7" r="0.72"/><circle cx="535.9" cy="133.3" r="0.72"/><circle cx="534.4" cy="149.8" r="0.72"/><circle cx="534.9" cy="156.3" r="0.72"/><circle cx="534.3" cy="206.2" r="0.72"/><circle cx="534.1" cy="151.2" r="0.72"/><circle cx="533.2" cy="173.3" r="0.72"/><circle cx="536.4" cy="195.7" r="0.72"/><circle cx="536.1" cy="194.9" r="0.72"/><circle cx="534.3" cy="126.8" r="0.72"/><circle cx="533.9" cy="122.6" r="0.72"/><circle cx="534.9" cy="206.7" r="0.72"/><circle cx="536.2" cy="121.9" r="0.72"/><circle cx="536.0" cy="154.5" r="0.72"/><circle cx="533.9" cy="202.7" r="0.72"/><circle cx="535.0" cy="154.6" r="0.72"/><circle cx="534.1" cy="156.9" r="0.72"/><circle cx="535.6" cy="167.8" r="0.72"/><circle cx="535.6" cy="190.3" r="0.72"/><circle cx="535.6" cy="122.9" r="0.72"/><circle cx="535.0" cy="157.3" r="0.72"/><circle cx="534.6" cy="111.5" r="0.72"/><circle cx="535.3" cy="158.7" r="0.72"/><circle cx="532.8" cy="142.3" r="0.72"/><circle cx="534.8" cy="187.0" r="0.72"/><circle cx="533.9" cy="183.0" r="0.72"/><circle cx="533.3" cy="220.3" r="0.72"/><circle cx="536.0" cy="180.0" r="0.72"/><circle cx="536.6" cy="120.2" r="0.72"/><circle cx="535.8" cy="186.5" r="0.72"/><circle cx="535.3" cy="149.8" r="0.72"/><circle cx="532.4" cy="212.9" r="0.72"/><circle cx="531.6" cy="185.0" r="0.72"/><circle cx="532.2" cy="217.6" r="0.72"/><circle cx="533.8" cy="147.9" r="0.72"/><circle cx="532.1" cy="174.5" r="0.72"/><circle cx="531.6" cy="130.7" r="0.72"/><circle cx="535.6" cy="227.0" r="0.72"/><circle cx="533.4" cy="112.0" r="0.72"/><circle cx="535.6" cy="207.8" r="0.72"/><circle cx="534.6" cy="185.1" r="0.72"/><circle cx="532.5" cy="197.5" r="0.72"/><circle cx="535.5" cy="174.3" r="0.72"/><circle cx="535.6" cy="188.2" r="0.72"/><circle cx="538.1" cy="175.7" r="0.72"/><circle cx="534.0" cy="132.8" r="0.72"/><circle cx="532.1" cy="159.6" r="0.72"/><circle cx="534.8" cy="117.5" r="0.72"/><circle cx="534.1" cy="137.2" r="0.72"/><circle cx="534.0" cy="147.4" r="0.72"/><circle cx="535.0" cy="126.3" r="0.72"/><circle cx="534.1" cy="140.0" r="0.72"/><circle cx="536.9" cy="173.7" r="0.72"/><circle cx="538.1" cy="143.6" r="0.72"/><circle cx="536.7" cy="137.8" r="0.72"/><circle cx="537.0" cy="112.6" r="0.72"/><circle cx="534.7" cy="118.1" r="0.72"/><circle cx="531.8" cy="131.6" r="0.72"/><circle cx="532.1" cy="150.2" r="0.72"/><circle cx="536.0" cy="133.7" r="0.72"/><circle cx="533.6" cy="123.0" r="0.72"/><circle cx="538.1" cy="154.9" r="0.72"/><circle cx="537.9" cy="111.0" r="0.72"/><circle cx="537.5" cy="133.3" r="0.72"/><circle cx="535.4" cy="184.3" r="0.72"/><circle cx="533.8" cy="191.0" r="0.72"/><circle cx="535.0" cy="162.0" r="0.72"/><circle cx="536.6" cy="117.5" r="0.72"/><circle cx="534.4" cy="142.6" r="0.72"/><circle cx="533.3" cy="133.7" r="0.72"/><circle cx="533.3" cy="132.6" r="0.72"/><circle cx="531.6" cy="128.8" r="0.72"/><circle cx="536.7" cy="167.6" r="0.72"/><circle cx="536.0" cy="127.5" r="0.72"/><circle cx="532.3" cy="174.8" r="0.72"/><circle cx="533.1" cy="132.7" r="0.72"/><circle cx="534.5" cy="230.1" r="0.72"/><circle cx="534.8" cy="203.9" r="0.72"/><circle cx="532.9" cy="130.4" r="0.72"/><circle cx="535.8" cy="162.0" r="0.72"/><circle cx="535.1" cy="175.2" r="0.72"/><circle cx="536.2" cy="126.5" r="0.72"/><circle cx="534.6" cy="147.9" r="0.72"/><circle cx="535.4" cy="182.2" r="0.72"/><circle cx="532.7" cy="141.3" r="0.72"/><circle cx="535.6" cy="131.1" r="0.72"/><circle cx="534.6" cy="202.2" r="0.72"/><circle cx="534.4" cy="129.2" r="0.72"/><circle cx="534.3" cy="192.9" r="0.72"/><circle cx="538.1" cy="172.3" r="0.72"/><circle cx="536.5" cy="187.7" r="0.72"/><circle cx="533.4" cy="119.7" r="0.72"/><circle cx="531.6" cy="168.9" r="0.72"/><circle cx="534.8" cy="156.9" r="0.72"/><circle cx="535.9" cy="100.3" r="0.72"/><circle cx="537.5" cy="196.0" r="0.72"/><circle cx="535.8" cy="155.2" r="0.72"/><circle cx="534.8" cy="111.1" r="0.72"/><circle cx="535.2" cy="162.3" r="0.72"/><circle cx="533.7" cy="173.4" r="0.72"/><circle cx="531.9" cy="205.5" r="0.72"/><circle cx="533.8" cy="156.3" r="0.72"/><circle cx="537.8" cy="170.8" r="0.72"/><circle cx="533.4" cy="144.1" r="0.72"/><circle cx="533.6" cy="210.1" r="0.72"/><circle cx="533.6" cy="108.5" r="0.72"/><circle cx="533.6" cy="172.4" r="0.72"/><circle cx="532.9" cy="170.9" r="0.72"/><circle cx="534.9" cy="93.7" r="0.72"/><circle cx="536.6" cy="93.5" r="0.72"/><circle cx="534.2" cy="94.0" r="0.72"/><circle cx="532.9" cy="93.8" r="0.72"/><circle cx="535.6" cy="234.8" r="0.72"/><circle cx="534.6" cy="235.0" r="0.72"/><circle cx="536.5" cy="234.9" r="0.72"/><circle cx="535.9" cy="234.2" r="0.72"/></g>
<g fill="#bcd5ec" opacity="0.8"><circle cx="572.8" cy="165.6" r="0.72"/><circle cx="573.2" cy="127.5" r="0.72"/><circle cx="568.6" cy="175.5" r="0.72"/><circle cx="569.2" cy="184.6" r="0.72"/><circle cx="570.3" cy="163.2" r="0.72"/><circle cx="568.1" cy="167.2" r="0.72"/><circle cx="569.8" cy="139.4" r="0.72"/><circle cx="572.2" cy="162.2" r="0.72"/><circle cx="568.6" cy="115.2" r="0.72"/><circle cx="568.0" cy="146.0" r="0.72"/><circle cx="572.7" cy="163.7" r="0.72"/><circle cx="569.7" cy="144.9" r="0.72"/><circle cx="571.4" cy="167.3" r="0.72"/><circle cx="572.0" cy="134.0" r="0.72"/><circle cx="569.8" cy="136.8" r="0.72"/><circle cx="571.0" cy="158.2" r="0.72"/><circle cx="571.6" cy="129.0" r="0.72"/><circle cx="572.5" cy="173.6" r="0.72"/><circle cx="571.5" cy="166.1" r="0.72"/><circle cx="570.7" cy="163.6" r="0.72"/><circle cx="571.3" cy="117.3" r="0.72"/><circle cx="570.1" cy="166.2" r="0.72"/><circle cx="570.7" cy="121.0" r="0.72"/><circle cx="571.6" cy="161.6" r="0.72"/><circle cx="570.2" cy="178.4" r="0.72"/><circle cx="571.9" cy="163.5" r="0.72"/><circle cx="570.2" cy="117.9" r="0.72"/><circle cx="571.3" cy="125.5" r="0.72"/><circle cx="571.5" cy="161.2" r="0.72"/><circle cx="568.4" cy="138.1" r="0.72"/><circle cx="571.8" cy="166.0" r="0.72"/><circle cx="572.4" cy="160.5" r="0.72"/><circle cx="569.1" cy="154.9" r="0.72"/><circle cx="568.0" cy="167.4" r="0.72"/><circle cx="572.0" cy="164.3" r="0.72"/><circle cx="569.3" cy="166.9" r="0.72"/><circle cx="570.1" cy="149.5" r="0.72"/><circle cx="573.0" cy="185.3" r="0.72"/><circle cx="569.0" cy="133.9" r="0.72"/><circle cx="569.7" cy="121.5" r="0.72"/><circle cx="570.3" cy="167.7" r="0.72"/><circle cx="570.9" cy="155.7" r="0.72"/><circle cx="569.6" cy="140.1" r="0.72"/><circle cx="568.8" cy="135.6" r="0.72"/><circle cx="569.5" cy="178.2" r="0.72"/><circle cx="572.4" cy="117.3" r="0.72"/><circle cx="569.3" cy="149.2" r="0.72"/><circle cx="567.8" cy="163.2" r="0.72"/><circle cx="570.2" cy="121.5" r="0.72"/><circle cx="568.9" cy="163.2" r="0.72"/><circle cx="569.7" cy="135.8" r="0.72"/><circle cx="571.1" cy="129.6" r="0.72"/><circle cx="568.0" cy="157.0" r="0.72"/><circle cx="570.0" cy="126.4" r="0.72"/><circle cx="570.0" cy="176.4" r="0.72"/><circle cx="570.8" cy="162.5" r="0.72"/><circle cx="571.7" cy="159.2" r="0.72"/><circle cx="568.4" cy="153.5" r="0.72"/><circle cx="569.2" cy="162.8" r="0.72"/><circle cx="569.7" cy="132.2" r="0.72"/><circle cx="570.8" cy="137.3" r="0.72"/><circle cx="569.5" cy="146.4" r="0.72"/><circle cx="567.0" cy="140.1" r="0.72"/><circle cx="570.3" cy="126.7" r="0.72"/><circle cx="571.3" cy="140.9" r="0.72"/><circle cx="568.3" cy="128.9" r="0.72"/><circle cx="569.6" cy="176.5" r="0.72"/><circle cx="568.0" cy="150.9" r="0.72"/><circle cx="572.2" cy="167.4" r="0.72"/><circle cx="571.2" cy="134.1" r="0.72"/><circle cx="570.6" cy="167.5" r="0.72"/><circle cx="571.4" cy="179.7" r="0.72"/><circle cx="573.1" cy="146.0" r="0.72"/><circle cx="569.9" cy="164.4" r="0.72"/><circle cx="573.0" cy="144.2" r="0.72"/><circle cx="571.6" cy="165.6" r="0.72"/><circle cx="569.7" cy="192.0" r="0.72"/><circle cx="569.7" cy="167.4" r="0.72"/><circle cx="568.4" cy="183.2" r="0.72"/><circle cx="571.0" cy="135.7" r="0.72"/><circle cx="570.7" cy="185.5" r="0.72"/><circle cx="569.6" cy="169.9" r="0.72"/><circle cx="569.5" cy="149.6" r="0.72"/><circle cx="571.5" cy="154.2" r="0.72"/><circle cx="570.6" cy="170.3" r="0.72"/><circle cx="569.3" cy="132.8" r="0.72"/><circle cx="569.9" cy="135.5" r="0.72"/><circle cx="570.2" cy="138.1" r="0.72"/><circle cx="568.7" cy="187.0" r="0.72"/><circle cx="570.3" cy="182.8" r="0.72"/><circle cx="570.0" cy="149.5" r="0.72"/><circle cx="568.3" cy="163.0" r="0.72"/><circle cx="569.4" cy="158.5" r="0.72"/><circle cx="569.7" cy="130.0" r="0.72"/><circle cx="571.6" cy="110.5" r="0.72"/><circle cx="567.0" cy="165.5" r="0.72"/><circle cx="571.9" cy="113.4" r="0.72"/><circle cx="571.1" cy="176.3" r="0.72"/><circle cx="569.3" cy="161.0" r="0.72"/><circle cx="568.1" cy="161.0" r="0.72"/><circle cx="570.9" cy="165.0" r="0.72"/><circle cx="571.8" cy="167.1" r="0.72"/><circle cx="570.1" cy="171.9" r="0.72"/><circle cx="568.4" cy="161.6" r="0.72"/><circle cx="570.0" cy="171.7" r="0.72"/><circle cx="569.3" cy="167.7" r="0.72"/><circle cx="569.0" cy="154.8" r="0.72"/><circle cx="567.0" cy="140.6" r="0.72"/><circle cx="572.5" cy="120.3" r="0.72"/><circle cx="569.1" cy="142.7" r="0.72"/><circle cx="568.4" cy="107.4" r="0.72"/><circle cx="568.2" cy="108.1" r="0.72"/><circle cx="571.3" cy="107.8" r="0.72"/><circle cx="569.3" cy="107.6" r="0.72"/><circle cx="568.8" cy="194.2" r="0.72"/><circle cx="572.5" cy="193.9" r="0.72"/><circle cx="568.3" cy="193.8" r="0.72"/><circle cx="569.7" cy="194.5" r="0.72"/></g>
<g fill="#5fa6d4" opacity="0.92"><circle cx="589.8" cy="116.9" r="0.72"/><circle cx="590.7" cy="195.4" r="0.72"/><circle cx="590.8" cy="189.5" r="0.72"/><circle cx="588.8" cy="93.0" r="0.72"/><circle cx="591.0" cy="106.1" r="0.72"/><circle cx="588.8" cy="115.3" r="0.72"/><circle cx="592.1" cy="192.6" r="0.72"/><circle cx="591.8" cy="147.5" r="0.72"/><circle cx="590.5" cy="183.4" r="0.72"/><circle cx="590.8" cy="106.4" r="0.72"/><circle cx="593.8" cy="125.7" r="0.72"/><circle cx="589.0" cy="156.2" r="0.72"/><circle cx="588.4" cy="123.3" r="0.72"/><circle cx="592.4" cy="113.5" r="0.72"/><circle cx="591.6" cy="191.9" r="0.72"/><circle cx="590.6" cy="139.2" r="0.72"/><circle cx="593.4" cy="163.4" r="0.72"/><circle cx="590.7" cy="118.5" r="0.72"/><circle cx="593.7" cy="152.9" r="0.72"/><circle cx="591.4" cy="144.7" r="0.72"/><circle cx="589.5" cy="200.6" r="0.72"/><circle cx="592.5" cy="109.1" r="0.72"/><circle cx="589.8" cy="150.3" r="0.72"/><circle cx="589.7" cy="180.0" r="0.72"/><circle cx="590.0" cy="106.8" r="0.72"/><circle cx="591.0" cy="138.5" r="0.72"/><circle cx="591.0" cy="192.9" r="0.72"/><circle cx="592.1" cy="139.2" r="0.72"/><circle cx="590.1" cy="133.7" r="0.72"/><circle cx="588.9" cy="201.2" r="0.72"/><circle cx="592.2" cy="124.2" r="0.72"/><circle cx="591.1" cy="160.8" r="0.72"/><circle cx="590.2" cy="129.7" r="0.72"/><circle cx="589.4" cy="132.2" r="0.72"/><circle cx="589.6" cy="127.7" r="0.72"/><circle cx="590.7" cy="106.4" r="0.72"/><circle cx="591.6" cy="137.7" r="0.72"/><circle cx="590.9" cy="94.0" r="0.72"/><circle cx="588.4" cy="181.5" r="0.72"/><circle cx="592.2" cy="115.1" r="0.72"/><circle cx="590.5" cy="133.9" r="0.72"/><circle cx="590.1" cy="197.2" r="0.72"/><circle cx="590.6" cy="96.5" r="0.72"/><circle cx="590.1" cy="204.4" r="0.72"/><circle cx="591.5" cy="180.3" r="0.72"/><circle cx="590.0" cy="129.8" r="0.72"/><circle cx="588.2" cy="103.7" r="0.72"/><circle cx="587.8" cy="177.8" r="0.72"/><circle cx="593.1" cy="189.6" r="0.72"/><circle cx="590.8" cy="195.8" r="0.72"/><circle cx="590.2" cy="97.1" r="0.72"/><circle cx="589.5" cy="116.6" r="0.72"/><circle cx="589.8" cy="188.5" r="0.72"/><circle cx="590.4" cy="118.4" r="0.72"/><circle cx="590.6" cy="108.6" r="0.72"/><circle cx="590.4" cy="112.6" r="0.72"/><circle cx="591.3" cy="142.4" r="0.72"/><circle cx="588.8" cy="135.5" r="0.72"/><circle cx="590.7" cy="138.2" r="0.72"/><circle cx="589.9" cy="203.4" r="0.72"/><circle cx="590.1" cy="143.5" r="0.72"/><circle cx="592.0" cy="214.5" r="0.72"/><circle cx="593.4" cy="121.9" r="0.72"/><circle cx="590.9" cy="116.3" r="0.72"/><circle cx="592.1" cy="153.6" r="0.72"/><circle cx="592.1" cy="183.7" r="0.72"/><circle cx="593.8" cy="157.2" r="0.72"/><circle cx="593.2" cy="143.4" r="0.72"/><circle cx="592.6" cy="166.7" r="0.72"/><circle cx="591.9" cy="112.7" r="0.72"/><circle cx="591.7" cy="112.9" r="0.72"/><circle cx="591.4" cy="172.9" r="0.72"/><circle cx="591.8" cy="120.4" r="0.72"/><circle cx="592.2" cy="96.0" r="0.72"/><circle cx="591.1" cy="119.9" r="0.72"/><circle cx="590.5" cy="194.5" r="0.72"/><circle cx="589.0" cy="127.6" r="0.72"/><circle cx="589.4" cy="153.9" r="0.72"/><circle cx="588.8" cy="159.9" r="0.72"/><circle cx="589.0" cy="105.5" r="0.72"/><circle cx="591.5" cy="123.3" r="0.72"/><circle cx="587.2" cy="113.9" r="0.72"/><circle cx="592.8" cy="125.0" r="0.72"/><circle cx="591.0" cy="112.7" r="0.72"/><circle cx="591.2" cy="157.0" r="0.72"/><circle cx="589.8" cy="102.0" r="0.72"/><circle cx="590.2" cy="155.6" r="0.72"/><circle cx="589.4" cy="173.1" r="0.72"/><circle cx="590.2" cy="167.2" r="0.72"/><circle cx="591.1" cy="155.5" r="0.72"/><circle cx="588.4" cy="95.5" r="0.72"/><circle cx="587.5" cy="120.4" r="0.72"/><circle cx="593.1" cy="113.9" r="0.72"/><circle cx="590.4" cy="176.4" r="0.72"/><circle cx="590.2" cy="179.4" r="0.72"/><circle cx="590.7" cy="181.3" r="0.72"/><circle cx="591.7" cy="109.0" r="0.72"/><circle cx="589.8" cy="119.8" r="0.72"/><circle cx="592.6" cy="119.4" r="0.72"/><circle cx="588.7" cy="144.9" r="0.72"/><circle cx="591.1" cy="195.7" r="0.72"/><circle cx="589.3" cy="134.7" r="0.72"/><circle cx="587.2" cy="164.9" r="0.72"/><circle cx="589.6" cy="188.7" r="0.72"/><circle cx="589.4" cy="145.1" r="0.72"/><circle cx="588.9" cy="102.7" r="0.72"/><circle cx="592.5" cy="159.9" r="0.72"/><circle cx="589.3" cy="98.1" r="0.72"/><circle cx="590.8" cy="197.8" r="0.72"/><circle cx="591.8" cy="106.7" r="0.72"/><circle cx="588.4" cy="88.3" r="0.72"/><circle cx="591.4" cy="89.0" r="0.72"/><circle cx="589.1" cy="88.4" r="0.72"/><circle cx="591.3" cy="88.7" r="0.72"/><circle cx="591.6" cy="219.8" r="0.72"/><circle cx="589.4" cy="219.3" r="0.72"/><circle cx="588.4" cy="219.7" r="0.72"/><circle cx="589.2" cy="219.3" r="0.72"/></g>
<g fill="#2a6db0" opacity="0.92"><circle cx="609.4" cy="110.4" r="0.72"/><circle cx="609.1" cy="152.2" r="0.72"/><circle cx="610.2" cy="157.5" r="0.72"/><circle cx="609.4" cy="217.2" r="0.72"/><circle cx="612.2" cy="216.8" r="0.72"/><circle cx="610.8" cy="207.8" r="0.72"/><circle cx="607.5" cy="211.0" r="0.72"/><circle cx="610.9" cy="149.3" r="0.72"/><circle cx="610.8" cy="194.9" r="0.72"/><circle cx="609.7" cy="212.5" r="0.72"/><circle cx="608.7" cy="191.1" r="0.72"/><circle cx="612.0" cy="173.3" r="0.72"/><circle cx="613.7" cy="145.6" r="0.72"/><circle cx="612.7" cy="186.2" r="0.72"/><circle cx="613.6" cy="133.3" r="0.72"/><circle cx="611.3" cy="199.8" r="0.72"/><circle cx="611.5" cy="130.2" r="0.72"/><circle cx="608.5" cy="194.3" r="0.72"/><circle cx="611.9" cy="227.6" r="0.72"/><circle cx="613.9" cy="206.2" r="0.72"/><circle cx="608.7" cy="151.9" r="0.72"/><circle cx="609.5" cy="204.0" r="0.72"/><circle cx="614.0" cy="207.6" r="0.72"/><circle cx="613.3" cy="181.1" r="0.72"/><circle cx="609.7" cy="152.5" r="0.72"/><circle cx="610.2" cy="217.1" r="0.72"/><circle cx="611.2" cy="226.2" r="0.72"/><circle cx="610.0" cy="110.7" r="0.72"/><circle cx="610.6" cy="183.5" r="0.72"/><circle cx="609.9" cy="139.1" r="0.72"/><circle cx="609.4" cy="197.6" r="0.72"/><circle cx="612.1" cy="211.2" r="0.72"/><circle cx="611.1" cy="197.9" r="0.72"/><circle cx="609.5" cy="181.4" r="0.72"/><circle cx="610.9" cy="141.9" r="0.72"/><circle cx="611.7" cy="200.5" r="0.72"/><circle cx="609.2" cy="180.9" r="0.72"/><circle cx="612.4" cy="169.9" r="0.72"/><circle cx="612.9" cy="128.0" r="0.72"/><circle cx="611.4" cy="132.8" r="0.72"/><circle cx="612.3" cy="199.1" r="0.72"/><circle cx="611.0" cy="210.7" r="0.72"/><circle cx="610.5" cy="171.4" r="0.72"/><circle cx="610.0" cy="210.4" r="0.72"/><circle cx="611.2" cy="169.0" r="0.72"/><circle cx="611.7" cy="173.9" r="0.72"/><circle cx="612.0" cy="210.4" r="0.72"/><circle cx="611.3" cy="170.3" r="0.72"/><circle cx="610.1" cy="116.6" r="0.72"/><circle cx="610.5" cy="200.2" r="0.72"/><circle cx="607.8" cy="144.1" r="0.72"/><circle cx="609.5" cy="110.9" r="0.72"/><circle cx="613.6" cy="129.7" r="0.72"/><circle cx="613.1" cy="164.1" r="0.72"/><circle cx="612.2" cy="198.7" r="0.72"/><circle cx="613.4" cy="201.0" r="0.72"/><circle cx="610.4" cy="214.6" r="0.72"/><circle cx="614.0" cy="171.3" r="0.72"/><circle cx="612.2" cy="145.3" r="0.72"/><circle cx="611.5" cy="189.3" r="0.72"/><circle cx="609.9" cy="201.7" r="0.72"/><circle cx="609.4" cy="210.2" r="0.72"/><circle cx="609.7" cy="104.6" r="0.72"/><circle cx="610.8" cy="227.3" r="0.72"/><circle cx="610.4" cy="152.4" r="0.72"/><circle cx="610.7" cy="170.1" r="0.72"/><circle cx="609.6" cy="144.5" r="0.72"/><circle cx="610.4" cy="166.5" r="0.72"/><circle cx="610.2" cy="156.8" r="0.72"/><circle cx="610.0" cy="137.1" r="0.72"/><circle cx="610.5" cy="114.7" r="0.72"/><circle cx="607.6" cy="183.0" r="0.72"/><circle cx="611.2" cy="122.8" r="0.72"/><circle cx="611.7" cy="157.5" r="0.72"/><circle cx="611.7" cy="122.9" r="0.72"/><circle cx="611.2" cy="221.7" r="0.72"/><circle cx="611.3" cy="174.1" r="0.72"/><circle cx="611.5" cy="143.7" r="0.72"/><circle cx="612.2" cy="158.8" r="0.72"/><circle cx="610.1" cy="150.1" r="0.72"/><circle cx="611.8" cy="226.8" r="0.72"/><circle cx="610.3" cy="169.3" r="0.72"/><circle cx="612.4" cy="165.3" r="0.72"/><circle cx="610.1" cy="101.6" r="0.72"/><circle cx="611.3" cy="155.3" r="0.72"/><circle cx="613.6" cy="202.0" r="0.72"/><circle cx="609.6" cy="96.4" r="0.72"/><circle cx="611.0" cy="111.2" r="0.72"/><circle cx="609.5" cy="188.8" r="0.72"/><circle cx="611.5" cy="151.0" r="0.72"/><circle cx="610.0" cy="224.3" r="0.72"/><circle cx="611.4" cy="133.9" r="0.72"/><circle cx="609.8" cy="232.2" r="0.72"/><circle cx="609.9" cy="172.2" r="0.72"/><circle cx="610.5" cy="160.8" r="0.72"/><circle cx="609.9" cy="198.6" r="0.72"/><circle cx="611.6" cy="210.1" r="0.72"/><circle cx="610.5" cy="208.3" r="0.72"/><circle cx="607.9" cy="164.4" r="0.72"/><circle cx="609.1" cy="218.3" r="0.72"/><circle cx="611.7" cy="199.1" r="0.72"/><circle cx="612.5" cy="172.4" r="0.72"/><circle cx="612.5" cy="177.8" r="0.72"/><circle cx="609.2" cy="129.4" r="0.72"/><circle cx="610.3" cy="112.2" r="0.72"/><circle cx="614.0" cy="178.0" r="0.72"/><circle cx="611.3" cy="219.1" r="0.72"/><circle cx="610.3" cy="225.5" r="0.72"/><circle cx="609.7" cy="192.8" r="0.72"/><circle cx="614.0" cy="127.9" r="0.72"/><circle cx="610.3" cy="95.5" r="0.72"/><circle cx="612.2" cy="95.8" r="0.72"/><circle cx="611.4" cy="95.5" r="0.72"/><circle cx="609.0" cy="95.2" r="0.72"/><circle cx="611.4" cy="232.8" r="0.72"/><circle cx="612.0" cy="233.1" r="0.72"/><circle cx="612.7" cy="232.4" r="0.72"/><circle cx="608.8" cy="233.1" r="0.72"/></g>
<rect x="408.30" y="135.40" width="20.20" height="32.80" fill="#c9dbeb" fill-opacity="0.9" stroke="#4e4e4e" stroke-width="1.05"/>
<line x1="408.30" y1="150.20" x2="428.50" y2="150.20" stroke="#4e4e4e" stroke-width="1.05"/>
<rect x="428.50" y="128.20" width="20.20" height="48.40" fill="#70a6c5" fill-opacity="0.9" stroke="#4e4e4e" stroke-width="1.05"/>
<line x1="428.50" y1="149.40" x2="448.70" y2="149.40" stroke="#4e4e4e" stroke-width="1.05"/>
<rect x="448.70" y="144.60" width="20.20" height="51.40" fill="#2d689c" fill-opacity="0.9" stroke="#4e4e4e" stroke-width="1.05"/>
<line x1="448.70" y1="172.40" x2="468.90" y2="172.40" stroke="#4e4e4e" stroke-width="1.05"/>
<rect x="484.30" y="117.20" width="20.20" height="44.20" fill="#c9dbeb" fill-opacity="0.9" stroke="#4e4e4e" stroke-width="1.05"/>
<line x1="484.30" y1="140.80" x2="504.50" y2="140.80" stroke="#4e4e4e" stroke-width="1.05"/>
<rect x="504.50" y="129.40" width="20.20" height="38.90" fill="#70a6c5" fill-opacity="0.9" stroke="#4e4e4e" stroke-width="1.05"/>
<line x1="504.50" y1="153.40" x2="524.70" y2="153.40" stroke="#4e4e4e" stroke-width="1.05"/>
<rect x="524.70" y="137.40" width="20.20" height="47.10" fill="#2d689c" fill-opacity="0.9" stroke="#4e4e4e" stroke-width="1.05"/>
<line x1="524.70" y1="157.40" x2="544.90" y2="157.40" stroke="#4e4e4e" stroke-width="1.05"/>
<rect x="560.20" y="140.40" width="20.20" height="27.90" fill="#c9dbeb" fill-opacity="0.9" stroke="#4e4e4e" stroke-width="1.05"/>
<line x1="560.20" y1="159.40" x2="580.40" y2="159.40" stroke="#4e4e4e" stroke-width="1.05"/>
<rect x="580.40" y="121.40" width="20.20" height="58.00" fill="#70a6c5" fill-opacity="0.9" stroke="#4e4e4e" stroke-width="1.05"/>
<line x1="580.40" y1="148.40" x2="600.60" y2="148.40" stroke="#4e4e4e" stroke-width="1.05"/>
<rect x="600.60" y="143.60" width="20.20" height="54.20" fill="#2d689c" fill-opacity="0.9" stroke="#4e4e4e" stroke-width="1.05"/>
<line x1="600.60" y1="166.40" x2="620.80" y2="166.40" stroke="#4e4e4e" stroke-width="1.05"/>
<line x1="380.6" y1="25.0" x2="380.6" y2="247.95" stroke="#959595" stroke-width="1.3"/>
<line x1="649.06" y1="25.0" x2="649.06" y2="247.95" stroke="#b8b8b8" stroke-width="1.6"/>
<line x1="380.1" y1="25.5" x2="649.56" y2="25.5" stroke="#868686" stroke-width="1.1"/>
<line x1="380.1" y1="247.45" x2="649.56" y2="247.45" stroke="#888888" stroke-width="1.15"/>
<text x="377.00" y="57.66" font-size="4.6" text-anchor="end" fill="#2c2c2c" font-weight="normal" >0.6</text>
<text x="377.00" y="98.06" font-size="4.6" text-anchor="end" fill="#2c2c2c" font-weight="normal" >0.4</text>
<text x="377.00" y="138.36" font-size="4.6" text-anchor="end" fill="#2c2c2c" font-weight="normal" >0.2</text>
<text x="377.00" y="178.66" font-size="4.6" text-anchor="end" fill="#2c2c2c" font-weight="normal" >0.0</text>
<text x="377.00" y="219.06" font-size="4.6" text-anchor="end" fill="#2c2c2c" font-weight="normal" >−0.2</text>
<text transform="translate(365.80,131.80) rotate(-90)" x="0" y="1.51" font-size="4.2" text-anchor="middle" fill="#2c2c2c">RR</text>
<text x="438.60" y="254.79" font-size="4.7" text-anchor="middle" fill="#2c2c2c" font-weight="normal" >RR Average</text>
<text x="514.60" y="254.79" font-size="4.7" text-anchor="middle" fill="#2c2c2c" font-weight="normal" >RR Min</text>
<text x="590.50" y="254.79" font-size="4.7" text-anchor="middle" fill="#2c2c2c" font-weight="normal" >RR Max</text>
<text x="514.60" y="260.69" font-size="4.7" text-anchor="middle" fill="#2c2c2c" font-weight="normal" >RR Parameters</text>
<path d="M418.40,59.90V56.40H458.80V59.90" fill="none" stroke="#666666" stroke-width="0.95"/>
<path d="M438.60,76.10V72.60H458.80V76.10" fill="none" stroke="#666666" stroke-width="0.95"/>
<path d="M418.40,91.30V87.80H438.60V91.30" fill="none" stroke="#666666" stroke-width="0.95"/>
<path d="M494.40,51.90V48.40H534.80V51.90" fill="none" stroke="#666666" stroke-width="0.95"/>
<path d="M494.40,67.90V64.40H514.60V67.90" fill="none" stroke="#666666" stroke-width="0.95"/>
<path d="M514.60,83.40V79.90H534.80V83.40" fill="none" stroke="#666666" stroke-width="0.95"/>
<path d="M570.30,47.70V44.20H610.70V47.70" fill="none" stroke="#666666" stroke-width="0.95"/>
<path d="M590.50,62.90V59.40H610.70V62.90" fill="none" stroke="#666666" stroke-width="0.95"/>
<path d="M570.30,79.10V75.60H590.50V79.10" fill="none" stroke="#666666" stroke-width="0.95"/>
<text x="428.20" y="51.29" font-size="4.15" fill="#2a2a2a" stroke="#2a2a2a" stroke-width="0.12" textLength="24.10" lengthAdjust="spacing"><tspan font-style="italic">p</tspan> = 5.2×10<tspan font-size="70%" dy="-1.74" fill-opacity="0.8" stroke-width="0">−3</tspan></text>
<text x="438.30" y="67.79" font-size="4.15" fill="#2a2a2a" stroke="#2a2a2a" stroke-width="0.12" textLength="23.60" lengthAdjust="spacing"><tspan font-style="italic">p</tspan> = 2.9×10<tspan font-size="70%" dy="-1.74" fill-opacity="0.8" stroke-width="0">−4</tspan></text>
<text x="421.00" y="83.09" font-size="4.15" fill="#2a2a2a" stroke="#2a2a2a" stroke-width="0.12" textLength="15.40" lengthAdjust="spacing"><tspan font-style="italic">p</tspan> = 1.00</text>
<text x="503.70" y="43.49" font-size="4.15" fill="#2a2a2a" stroke="#2a2a2a" stroke-width="0.12" textLength="23.80" lengthAdjust="spacing"><tspan font-style="italic">p</tspan> = 8.4×10<tspan font-size="70%" dy="-1.74" fill-opacity="0.8" stroke-width="0">−3</tspan></text>
<text x="495.10" y="59.49" font-size="4.15" fill="#2a2a2a" stroke="#2a2a2a" stroke-width="0.12" textLength="23.80" lengthAdjust="spacing"><tspan font-style="italic">p</tspan> = 1.7×10<tspan font-size="70%" dy="-1.74" fill-opacity="0.8" stroke-width="0">−2</tspan></text>
<text x="517.90" y="74.99" font-size="4.15" fill="#2a2a2a" stroke="#2a2a2a" stroke-width="0.12" textLength="14.80" lengthAdjust="spacing"><tspan font-style="italic">p</tspan> = 0.35</text>
<text x="580.00" y="39.49" font-size="4.15" fill="#2a2a2a" stroke="#2a2a2a" stroke-width="0.12" textLength="22.80" lengthAdjust="spacing"><tspan font-style="italic">p</tspan> = 7.0×10<tspan font-size="70%" dy="-1.74" fill-opacity="0.8" stroke-width="0">−3</tspan></text>
<text x="591.00" y="54.69" font-size="4.15" fill="#2a2a2a" stroke="#2a2a2a" stroke-width="0.12" textLength="23.60" lengthAdjust="spacing"><tspan font-style="italic">p</tspan> = 1.4×10<tspan font-size="70%" dy="-1.74" fill-opacity="0.8" stroke-width="0">−2</tspan></text>
<text x="573.30" y="70.29" font-size="4.15" fill="#2a2a2a" stroke="#2a2a2a" stroke-width="0.12" textLength="15.20" lengthAdjust="spacing"><tspan font-style="italic">p</tspan> = 1.00</text>
<rect x="664.6" y="28.0" width="18.399999999999977" height="45.400000000000006" rx="1.2" fill="#fff" stroke="#e4e4e4" stroke-width="0.6"/>
<text x="673.80" y="32.76" font-size="4.9" text-anchor="middle" fill="#2c2c2c" font-weight="normal" >Cluster</text>
<rect x="666.4" y="35.60" width="9.200000000000045" height="3.6" fill="#cedfed" stroke="#4e4e4e" stroke-width="0.4"/>
<text x="680.00" y="39.16" font-size="4.9" text-anchor="middle" fill="#2c2c2c" font-weight="normal" >1</text>
<rect x="666.4" y="42.00" width="9.200000000000045" height="3.6" fill="#7eafcb" stroke="#4e4e4e" stroke-width="0.4"/>
<text x="680.00" y="45.56" font-size="4.9" text-anchor="middle" fill="#2c2c2c" font-weight="normal" >2</text>
<rect x="666.4" y="48.40" width="9.200000000000045" height="3.6" fill="#4277a6" stroke="#4e4e4e" stroke-width="0.4"/>
<text x="680.00" y="51.96" font-size="4.9" text-anchor="middle" fill="#2c2c2c" font-weight="normal" >3</text>
<circle cx="670.8" cy="56.8" r="1.8" fill="#bcd5ec"/>
<text x="680.00" y="58.56" font-size="4.9" text-anchor="middle" fill="#2c2c2c" font-weight="normal" >1</text>
<circle cx="670.8" cy="63.2" r="1.8" fill="#5fa6d4"/>
<text x="680.00" y="64.96" font-size="4.9" text-anchor="middle" fill="#2c2c2c" font-weight="normal" >2</text>
<circle cx="670.8" cy="69.6" r="1.8" fill="#2a6db0"/>
<text x="680.00" y="71.36" font-size="4.9" text-anchor="middle" fill="#2c2c2c" font-weight="normal" >3</text>
<line x1="222.50" y1="405.40" x2="222.50" y2="451.30" stroke="#646464" stroke-width="0.9"/>
<line x1="222.50" y1="505.60" x2="222.50" y2="536.20" stroke="#646464" stroke-width="0.9"/>
<line x1="217.71" y1="405.40" x2="226.39" y2="405.40" stroke="#585858" stroke-width="1.1"/>
<line x1="217.71" y1="536.20" x2="226.39" y2="536.20" stroke="#585858" stroke-width="1.1"/>
<line x1="239.50" y1="365.60" x2="239.50" y2="409.40" stroke="#646464" stroke-width="0.9"/>
<line x1="239.50" y1="474.20" x2="239.50" y2="506.80" stroke="#646464" stroke-width="0.9"/>
<line x1="235.06" y1="365.60" x2="243.74" y2="365.60" stroke="#585858" stroke-width="1.1"/>
<line x1="235.06" y1="506.80" x2="243.74" y2="506.80" stroke="#585858" stroke-width="1.1"/>
<line x1="256.50" y1="385.40" x2="256.50" y2="428.20" stroke="#646464" stroke-width="0.9"/>
<line x1="256.50" y1="497.40" x2="256.50" y2="527.60" stroke="#646464" stroke-width="0.9"/>
<line x1="252.41" y1="385.40" x2="261.09" y2="385.40" stroke="#585858" stroke-width="1.1"/>
<line x1="252.41" y1="527.60" x2="261.09" y2="527.60" stroke="#585858" stroke-width="1.1"/>
<line x1="287.50" y1="395.40" x2="287.50" y2="446.40" stroke="#646464" stroke-width="0.9"/>
<line x1="287.50" y1="503.20" x2="287.50" y2="530.80" stroke="#646464" stroke-width="0.9"/>
<line x1="282.71" y1="395.40" x2="291.39" y2="395.40" stroke="#585858" stroke-width="1.1"/>
<line x1="282.71" y1="530.80" x2="291.39" y2="530.80" stroke="#585858" stroke-width="1.1"/>
<line x1="304.50" y1="365.20" x2="304.50" y2="393.00" stroke="#646464" stroke-width="0.9"/>
<line x1="304.50" y1="466.60" x2="304.50" y2="513.20" stroke="#646464" stroke-width="0.9"/>
<line x1="300.06" y1="365.20" x2="308.74" y2="365.20" stroke="#585858" stroke-width="1.1"/>
<line x1="300.06" y1="513.20" x2="308.74" y2="513.20" stroke="#585858" stroke-width="1.1"/>
<line x1="321.50" y1="389.40" x2="321.50" y2="431.40" stroke="#646464" stroke-width="0.9"/>
<line x1="321.50" y1="498.80" x2="321.50" y2="531.20" stroke="#646464" stroke-width="0.9"/>
<line x1="317.41" y1="389.40" x2="326.09" y2="389.40" stroke="#585858" stroke-width="1.1"/>
<line x1="317.41" y1="531.20" x2="326.09" y2="531.20" stroke="#585858" stroke-width="1.1"/>
<line x1="352.50" y1="351.20" x2="352.50" y2="381.20" stroke="#646464" stroke-width="0.9"/>
<line x1="352.50" y1="447.40" x2="352.50" y2="490.80" stroke="#646464" stroke-width="0.9"/>
<line x1="347.91" y1="351.20" x2="356.59" y2="351.20" stroke="#585858" stroke-width="1.1"/>
<line x1="347.91" y1="490.80" x2="356.59" y2="490.80" stroke="#585858" stroke-width="1.1"/>
<line x1="369.50" y1="390.80" x2="369.50" y2="446.40" stroke="#646464" stroke-width="0.9"/>
<line x1="369.50" y1="495.60" x2="369.50" y2="524.20" stroke="#646464" stroke-width="0.9"/>
<line x1="365.26" y1="390.80" x2="373.94" y2="390.80" stroke="#585858" stroke-width="1.1"/>
<line x1="365.26" y1="524.20" x2="373.94" y2="524.20" stroke="#585858" stroke-width="1.1"/>
<line x1="386.50" y1="400.20" x2="386.50" y2="453.30" stroke="#646464" stroke-width="0.9"/>
<line x1="386.50" y1="495.60" x2="386.50" y2="520.00" stroke="#646464" stroke-width="0.9"/>
<line x1="382.61" y1="400.20" x2="391.29" y2="400.20" stroke="#585858" stroke-width="1.1"/>
<line x1="382.61" y1="520.00" x2="391.29" y2="520.00" stroke="#585858" stroke-width="1.1"/>
<line x1="417.50" y1="367.40" x2="417.50" y2="403.80" stroke="#646464" stroke-width="0.9"/>
<line x1="417.50" y1="458.20" x2="417.50" y2="491.20" stroke="#646464" stroke-width="0.9"/>
<line x1="412.91" y1="367.40" x2="421.59" y2="367.40" stroke="#585858" stroke-width="1.1"/>
<line x1="412.91" y1="491.20" x2="421.59" y2="491.20" stroke="#585858" stroke-width="1.1"/>
<line x1="434.50" y1="390.60" x2="434.50" y2="429.40" stroke="#646464" stroke-width="0.9"/>
<line x1="434.50" y1="483.40" x2="434.50" y2="515.40" stroke="#646464" stroke-width="0.9"/>
<line x1="430.26" y1="390.60" x2="438.94" y2="390.60" stroke="#585858" stroke-width="1.1"/>
<line x1="430.26" y1="515.40" x2="438.94" y2="515.40" stroke="#585858" stroke-width="1.1"/>
<line x1="451.50" y1="373.60" x2="451.50" y2="416.20" stroke="#646464" stroke-width="0.9"/>
<line x1="451.50" y1="491.20" x2="451.50" y2="515.40" stroke="#646464" stroke-width="0.9"/>
<line x1="447.61" y1="373.60" x2="456.29" y2="373.60" stroke="#585858" stroke-width="1.1"/>
<line x1="447.61" y1="515.40" x2="456.29" y2="515.40" stroke="#585858" stroke-width="1.1"/>
<g fill="#bcd5ec" opacity="0.8"><circle cx="223.1" cy="474.4" r="0.72"/><circle cx="224.2" cy="505.1" r="0.72"/><circle cx="220.8" cy="506.6" r="0.72"/><circle cx="223.5" cy="460.6" r="0.72"/><circle cx="221.9" cy="521.5" r="0.72"/><circle cx="219.9" cy="485.9" r="0.72"/><circle cx="222.1" cy="461.3" r="0.72"/><circle cx="221.8" cy="485.6" r="0.72"/><circle cx="221.5" cy="460.6" r="0.72"/><circle cx="219.9" cy="511.1" r="0.72"/><circle cx="222.3" cy="421.0" r="0.72"/><circle cx="220.9" cy="489.6" r="0.72"/><circle cx="222.5" cy="421.2" r="0.72"/><circle cx="223.6" cy="420.3" r="0.72"/><circle cx="222.3" cy="431.9" r="0.72"/><circle cx="224.6" cy="495.9" r="0.72"/><circle cx="222.1" cy="462.4" r="0.72"/><circle cx="221.2" cy="507.7" r="0.72"/><circle cx="222.0" cy="508.3" r="0.72"/><circle cx="222.5" cy="515.0" r="0.72"/><circle cx="221.5" cy="491.7" r="0.72"/><circle cx="222.4" cy="472.8" r="0.72"/><circle cx="220.8" cy="424.4" r="0.72"/><circle cx="221.4" cy="457.2" r="0.72"/><circle cx="222.9" cy="489.0" r="0.72"/><circle cx="223.6" cy="530.0" r="0.72"/><circle cx="222.8" cy="460.8" r="0.72"/><circle cx="223.3" cy="420.1" r="0.72"/><circle cx="223.2" cy="449.4" r="0.72"/><circle cx="220.1" cy="466.1" r="0.72"/><circle cx="223.1" cy="457.1" r="0.72"/><circle cx="221.8" cy="449.5" r="0.72"/><circle cx="221.9" cy="501.1" r="0.72"/><circle cx="224.9" cy="470.4" r="0.72"/><circle cx="223.5" cy="439.2" r="0.72"/><circle cx="220.6" cy="509.6" r="0.72"/><circle cx="219.6" cy="530.5" r="0.72"/><circle cx="221.5" cy="503.6" r="0.72"/><circle cx="223.0" cy="521.9" r="0.72"/><circle cx="222.1" cy="458.2" r="0.72"/><circle cx="222.2" cy="533.7" r="0.72"/><circle cx="223.3" cy="456.3" r="0.72"/><circle cx="222.8" cy="413.1" r="0.72"/><circle cx="222.1" cy="425.9" r="0.72"/><circle cx="222.9" cy="418.3" r="0.72"/><circle cx="223.2" cy="480.5" r="0.72"/><circle cx="220.5" cy="499.4" r="0.72"/><circle cx="222.9" cy="504.8" r="0.72"/><circle cx="222.9" cy="523.9" r="0.72"/><circle cx="222.5" cy="519.5" r="0.72"/><circle cx="221.6" cy="467.5" r="0.72"/><circle cx="220.9" cy="446.5" r="0.72"/><circle cx="221.1" cy="454.0" r="0.72"/><circle cx="223.6" cy="510.4" r="0.72"/><circle cx="221.6" cy="427.0" r="0.72"/><circle cx="221.9" cy="513.3" r="0.72"/><circle cx="220.2" cy="458.7" r="0.72"/><circle cx="223.7" cy="507.1" r="0.72"/><circle cx="222.3" cy="445.9" r="0.72"/><circle cx="221.4" cy="472.3" r="0.72"/><circle cx="221.3" cy="510.1" r="0.72"/><circle cx="219.3" cy="446.6" r="0.72"/><circle cx="224.0" cy="507.0" r="0.72"/><circle cx="223.3" cy="475.1" r="0.72"/><circle cx="222.8" cy="514.8" r="0.72"/><circle cx="224.0" cy="517.7" r="0.72"/><circle cx="222.1" cy="466.2" r="0.72"/><circle cx="223.3" cy="490.2" r="0.72"/><circle cx="222.0" cy="479.1" r="0.72"/><circle cx="221.7" cy="454.6" r="0.72"/><circle cx="221.5" cy="507.8" r="0.72"/><circle cx="224.2" cy="458.8" r="0.72"/><circle cx="222.9" cy="468.7" r="0.72"/><circle cx="221.4" cy="500.2" r="0.72"/><circle cx="222.0" cy="462.5" r="0.72"/><circle cx="223.0" cy="507.4" r="0.72"/><circle cx="223.2" cy="448.9" r="0.72"/><circle cx="219.9" cy="421.0" r="0.72"/><circle cx="221.6" cy="446.2" r="0.72"/><circle cx="223.3" cy="455.0" r="0.72"/><circle cx="221.5" cy="523.8" r="0.72"/><circle cx="221.6" cy="524.7" r="0.72"/><circle cx="224.2" cy="481.6" r="0.72"/><circle cx="225.0" cy="435.3" r="0.72"/><circle cx="222.3" cy="486.8" r="0.72"/><circle cx="222.8" cy="482.5" r="0.72"/><circle cx="220.4" cy="480.7" r="0.72"/><circle cx="223.9" cy="479.6" r="0.72"/><circle cx="222.5" cy="448.4" r="0.72"/><circle cx="222.4" cy="493.4" r="0.72"/><circle cx="222.0" cy="484.9" r="0.72"/><circle cx="224.4" cy="507.7" r="0.72"/><circle cx="219.6" cy="499.5" r="0.72"/><circle cx="222.4" cy="449.0" r="0.72"/><circle cx="218.8" cy="494.8" r="0.72"/><circle cx="223.2" cy="426.1" r="0.72"/><circle cx="223.4" cy="468.2" r="0.72"/><circle cx="223.1" cy="465.8" r="0.72"/><circle cx="225.3" cy="503.1" r="0.72"/><circle cx="223.1" cy="430.3" r="0.72"/><circle cx="219.9" cy="515.6" r="0.72"/><circle cx="222.5" cy="501.2" r="0.72"/><circle cx="222.1" cy="522.1" r="0.72"/><circle cx="219.4" cy="489.0" r="0.72"/><circle cx="221.5" cy="520.1" r="0.72"/><circle cx="222.5" cy="419.9" r="0.72"/><circle cx="221.4" cy="524.4" r="0.72"/><circle cx="224.6" cy="515.1" r="0.72"/><circle cx="222.9" cy="517.9" r="0.72"/><circle cx="222.5" cy="479.3" r="0.72"/><circle cx="223.5" cy="405.2" r="0.72"/><circle cx="220.6" cy="405.8" r="0.72"/><circle cx="221.7" cy="405.3" r="0.72"/><circle cx="220.4" cy="405.2" r="0.72"/><circle cx="224.1" cy="535.9" r="0.72"/><circle cx="221.0" cy="536.5" r="0.72"/><circle cx="223.8" cy="536.7" r="0.72"/><circle cx="221.9" cy="536.8" r="0.72"/></g>
<g fill="#5fa6d4" opacity="0.92"><circle cx="239.0" cy="429.1" r="0.72"/><circle cx="241.1" cy="414.0" r="0.72"/><circle cx="240.1" cy="411.6" r="0.72"/><circle cx="240.1" cy="380.6" r="0.72"/><circle cx="240.0" cy="487.2" r="0.72"/><circle cx="238.1" cy="474.4" r="0.72"/><circle cx="236.2" cy="473.6" r="0.72"/><circle cx="240.3" cy="482.9" r="0.72"/><circle cx="239.0" cy="397.3" r="0.72"/><circle cx="240.3" cy="410.1" r="0.72"/><circle cx="240.0" cy="462.8" r="0.72"/><circle cx="240.9" cy="401.4" r="0.72"/><circle cx="239.2" cy="396.1" r="0.72"/><circle cx="239.3" cy="408.0" r="0.72"/><circle cx="242.5" cy="428.8" r="0.72"/><circle cx="237.1" cy="464.6" r="0.72"/><circle cx="239.9" cy="398.0" r="0.72"/><circle cx="238.3" cy="459.8" r="0.72"/><circle cx="238.5" cy="458.7" r="0.72"/><circle cx="240.6" cy="486.9" r="0.72"/><circle cx="240.8" cy="476.0" r="0.72"/><circle cx="238.5" cy="424.8" r="0.72"/><circle cx="239.4" cy="392.8" r="0.72"/><circle cx="238.2" cy="387.8" r="0.72"/><circle cx="241.9" cy="403.4" r="0.72"/><circle cx="239.3" cy="408.9" r="0.72"/><circle cx="239.4" cy="402.4" r="0.72"/><circle cx="241.7" cy="458.0" r="0.72"/><circle cx="240.7" cy="399.1" r="0.72"/><circle cx="240.8" cy="463.5" r="0.72"/><circle cx="237.7" cy="401.5" r="0.72"/><circle cx="241.9" cy="398.1" r="0.72"/><circle cx="241.8" cy="394.0" r="0.72"/><circle cx="242.2" cy="410.2" r="0.72"/><circle cx="239.1" cy="419.3" r="0.72"/><circle cx="239.0" cy="395.2" r="0.72"/><circle cx="238.0" cy="436.7" r="0.72"/><circle cx="239.8" cy="405.8" r="0.72"/><circle cx="240.1" cy="405.9" r="0.72"/><circle cx="238.6" cy="463.0" r="0.72"/><circle cx="240.5" cy="474.3" r="0.72"/><circle cx="240.2" cy="498.4" r="0.72"/><circle cx="239.5" cy="404.3" r="0.72"/><circle cx="240.0" cy="491.9" r="0.72"/><circle cx="240.0" cy="410.6" r="0.72"/><circle cx="241.0" cy="455.4" r="0.72"/><circle cx="240.7" cy="403.6" r="0.72"/><circle cx="239.0" cy="425.3" r="0.72"/><circle cx="236.2" cy="391.7" r="0.72"/><circle cx="240.0" cy="411.6" r="0.72"/><circle cx="240.8" cy="466.6" r="0.72"/><circle cx="237.9" cy="487.3" r="0.72"/><circle cx="240.3" cy="431.4" r="0.72"/><circle cx="237.7" cy="445.2" r="0.72"/><circle cx="241.1" cy="453.6" r="0.72"/><circle cx="237.8" cy="477.6" r="0.72"/><circle cx="236.8" cy="460.3" r="0.72"/><circle cx="242.4" cy="416.7" r="0.72"/><circle cx="239.8" cy="485.3" r="0.72"/><circle cx="239.2" cy="430.9" r="0.72"/><circle cx="239.1" cy="451.6" r="0.72"/><circle cx="237.8" cy="488.9" r="0.72"/><circle cx="240.6" cy="440.0" r="0.72"/><circle cx="236.9" cy="461.0" r="0.72"/><circle cx="239.3" cy="476.4" r="0.72"/><circle cx="236.6" cy="476.7" r="0.72"/><circle cx="241.1" cy="393.4" r="0.72"/><circle cx="239.3" cy="458.0" r="0.72"/><circle cx="240.3" cy="414.8" r="0.72"/><circle cx="239.0" cy="467.8" r="0.72"/><circle cx="239.3" cy="464.4" r="0.72"/><circle cx="238.4" cy="436.9" r="0.72"/><circle cx="239.0" cy="443.2" r="0.72"/><circle cx="238.6" cy="380.9" r="0.72"/><circle cx="236.8" cy="365.8" r="0.72"/><circle cx="238.4" cy="479.7" r="0.72"/><circle cx="236.9" cy="389.3" r="0.72"/><circle cx="238.6" cy="395.4" r="0.72"/><circle cx="240.3" cy="460.3" r="0.72"/><circle cx="238.9" cy="498.9" r="0.72"/><circle cx="242.1" cy="442.9" r="0.72"/><circle cx="237.4" cy="381.3" r="0.72"/><circle cx="241.2" cy="441.7" r="0.72"/><circle cx="238.6" cy="483.4" r="0.72"/><circle cx="239.9" cy="425.5" r="0.72"/><circle cx="237.9" cy="429.4" r="0.72"/><circle cx="239.1" cy="473.1" r="0.72"/><circle cx="241.0" cy="441.4" r="0.72"/><circle cx="239.5" cy="447.1" r="0.72"/><circle cx="239.5" cy="463.0" r="0.72"/><circle cx="239.4" cy="413.9" r="0.72"/><circle cx="238.3" cy="473.5" r="0.72"/><circle cx="240.4" cy="440.9" r="0.72"/><circle cx="241.3" cy="390.2" r="0.72"/><circle cx="237.3" cy="478.1" r="0.72"/><circle cx="238.1" cy="409.5" r="0.72"/><circle cx="239.1" cy="414.5" r="0.72"/><circle cx="238.2" cy="399.3" r="0.72"/><circle cx="242.7" cy="386.9" r="0.72"/><circle cx="240.6" cy="450.3" r="0.72"/><circle cx="241.9" cy="489.6" r="0.72"/><circle cx="240.6" cy="419.2" r="0.72"/><circle cx="237.2" cy="483.6" r="0.72"/><circle cx="240.0" cy="368.3" r="0.72"/><circle cx="239.5" cy="463.5" r="0.72"/><circle cx="238.2" cy="478.4" r="0.72"/><circle cx="237.6" cy="481.7" r="0.72"/><circle cx="240.6" cy="467.6" r="0.72"/><circle cx="239.5" cy="481.7" r="0.72"/><circle cx="240.0" cy="478.9" r="0.72"/><circle cx="238.6" cy="365.7" r="0.72"/><circle cx="238.0" cy="365.7" r="0.72"/><circle cx="239.1" cy="366.2" r="0.72"/><circle cx="239.3" cy="366.1" r="0.72"/><circle cx="239.3" cy="506.6" r="0.72"/><circle cx="239.8" cy="506.5" r="0.72"/><circle cx="237.9" cy="506.5" r="0.72"/><circle cx="240.3" cy="507.4" r="0.72"/></g>
<g fill="#2a6db0" opacity="0.92"><circle cx="255.7" cy="482.7" r="0.72"/><circle cx="258.1" cy="487.6" r="0.72"/><circle cx="256.1" cy="438.9" r="0.72"/><circle cx="257.3" cy="415.1" r="0.72"/><circle cx="259.8" cy="460.3" r="0.72"/><circle cx="256.9" cy="432.1" r="0.72"/><circle cx="254.3" cy="487.4" r="0.72"/><circle cx="254.2" cy="482.8" r="0.72"/><circle cx="256.2" cy="479.9" r="0.72"/><circle cx="258.6" cy="444.0" r="0.72"/><circle cx="257.6" cy="430.9" r="0.72"/><circle cx="256.5" cy="486.3" r="0.72"/><circle cx="257.3" cy="416.7" r="0.72"/><circle cx="254.7" cy="441.4" r="0.72"/><circle cx="258.6" cy="488.8" r="0.72"/><circle cx="256.1" cy="482.8" r="0.72"/><circle cx="259.2" cy="502.6" r="0.72"/><circle cx="259.0" cy="422.8" r="0.72"/><circle cx="256.0" cy="519.7" r="0.72"/><circle cx="258.4" cy="473.8" r="0.72"/><circle cx="257.9" cy="486.5" r="0.72"/><circle cx="255.9" cy="467.6" r="0.72"/><circle cx="255.6" cy="405.4" r="0.72"/><circle cx="255.4" cy="489.5" r="0.72"/><circle cx="254.6" cy="484.2" r="0.72"/><circle cx="255.0" cy="496.4" r="0.72"/><circle cx="255.6" cy="485.8" r="0.72"/><circle cx="257.7" cy="408.1" r="0.72"/><circle cx="256.5" cy="466.4" r="0.72"/><circle cx="258.1" cy="420.4" r="0.72"/><circle cx="256.6" cy="504.5" r="0.72"/><circle cx="256.4" cy="501.7" r="0.72"/><circle cx="257.1" cy="514.8" r="0.72"/><circle cx="255.9" cy="499.0" r="0.72"/><circle cx="256.5" cy="515.1" r="0.72"/><circle cx="259.3" cy="433.6" r="0.72"/><circle cx="258.6" cy="408.5" r="0.72"/><circle cx="256.1" cy="406.7" r="0.72"/><circle cx="258.2" cy="511.3" r="0.72"/><circle cx="256.0" cy="501.7" r="0.72"/><circle cx="257.7" cy="428.6" r="0.72"/><circle cx="255.6" cy="510.9" r="0.72"/><circle cx="256.8" cy="413.9" r="0.72"/><circle cx="254.6" cy="395.7" r="0.72"/><circle cx="257.5" cy="517.8" r="0.72"/><circle cx="257.0" cy="520.6" r="0.72"/><circle cx="256.2" cy="435.7" r="0.72"/><circle cx="256.2" cy="504.3" r="0.72"/><circle cx="254.9" cy="502.7" r="0.72"/><circle cx="255.3" cy="397.5" r="0.72"/><circle cx="258.4" cy="486.8" r="0.72"/><circle cx="256.5" cy="483.9" r="0.72"/><circle cx="257.2" cy="497.1" r="0.72"/><circle cx="260.0" cy="389.5" r="0.72"/><circle cx="257.2" cy="436.2" r="0.72"/><circle cx="257.6" cy="505.2" r="0.72"/><circle cx="256.7" cy="487.7" r="0.72"/><circle cx="256.2" cy="467.9" r="0.72"/><circle cx="258.4" cy="440.7" r="0.72"/><circle cx="257.1" cy="423.8" r="0.72"/><circle cx="253.7" cy="459.7" r="0.72"/><circle cx="257.7" cy="455.1" r="0.72"/><circle cx="253.8" cy="489.0" r="0.72"/><circle cx="259.0" cy="415.7" r="0.72"/><circle cx="255.9" cy="407.8" r="0.72"/><circle cx="256.4" cy="503.2" r="0.72"/><circle cx="256.7" cy="484.6" r="0.72"/><circle cx="256.6" cy="422.6" r="0.72"/><circle cx="256.6" cy="424.4" r="0.72"/><circle cx="256.7" cy="423.1" r="0.72"/><circle cx="255.8" cy="481.6" r="0.72"/><circle cx="255.0" cy="432.1" r="0.72"/><circle cx="260.0" cy="482.2" r="0.72"/><circle cx="255.8" cy="405.5" r="0.72"/><circle cx="256.1" cy="452.6" r="0.72"/><circle cx="258.1" cy="495.6" r="0.72"/><circle cx="257.5" cy="409.5" r="0.72"/><circle cx="254.1" cy="420.4" r="0.72"/><circle cx="256.2" cy="391.3" r="0.72"/><circle cx="255.5" cy="427.4" r="0.72"/><circle cx="256.0" cy="496.2" r="0.72"/><circle cx="256.2" cy="415.9" r="0.72"/><circle cx="256.2" cy="474.5" r="0.72"/><circle cx="260.0" cy="512.0" r="0.72"/><circle cx="256.8" cy="405.3" r="0.72"/><circle cx="255.9" cy="427.1" r="0.72"/><circle cx="258.5" cy="460.1" r="0.72"/><circle cx="255.6" cy="480.4" r="0.72"/><circle cx="259.1" cy="404.8" r="0.72"/><circle cx="258.2" cy="509.9" r="0.72"/><circle cx="259.1" cy="494.8" r="0.72"/><circle cx="258.8" cy="479.0" r="0.72"/><circle cx="256.6" cy="432.5" r="0.72"/><circle cx="259.3" cy="446.5" r="0.72"/><circle cx="254.3" cy="510.4" r="0.72"/><circle cx="256.8" cy="500.1" r="0.72"/><circle cx="256.5" cy="445.5" r="0.72"/><circle cx="258.2" cy="407.0" r="0.72"/><circle cx="258.4" cy="403.0" r="0.72"/><circle cx="256.7" cy="460.4" r="0.72"/><circle cx="256.8" cy="421.9" r="0.72"/><circle cx="255.0" cy="415.2" r="0.72"/><circle cx="258.4" cy="482.9" r="0.72"/><circle cx="256.2" cy="508.3" r="0.72"/><circle cx="258.2" cy="428.4" r="0.72"/><circle cx="258.6" cy="515.6" r="0.72"/><circle cx="254.3" cy="392.2" r="0.72"/><circle cx="256.1" cy="507.1" r="0.72"/><circle cx="255.9" cy="448.7" r="0.72"/><circle cx="257.6" cy="421.1" r="0.72"/><circle cx="254.7" cy="385.5" r="0.72"/><circle cx="254.9" cy="385.9" r="0.72"/><circle cx="258.5" cy="385.0" r="0.72"/><circle cx="256.6" cy="385.5" r="0.72"/><circle cx="257.7" cy="527.9" r="0.72"/><circle cx="256.1" cy="528.1" r="0.72"/><circle cx="255.4" cy="527.3" r="0.72"/><circle cx="258.1" cy="527.3" r="0.72"/></g>
<g fill="#bcd5ec" opacity="0.8"><circle cx="285.6" cy="507.7" r="0.72"/><circle cx="287.0" cy="509.4" r="0.72"/><circle cx="284.3" cy="419.2" r="0.72"/><circle cx="287.5" cy="503.2" r="0.72"/><circle cx="287.7" cy="422.5" r="0.72"/><circle cx="290.3" cy="462.2" r="0.72"/><circle cx="287.3" cy="409.4" r="0.72"/><circle cx="284.9" cy="471.4" r="0.72"/><circle cx="286.4" cy="432.2" r="0.72"/><circle cx="287.3" cy="422.3" r="0.72"/><circle cx="286.0" cy="439.3" r="0.72"/><circle cx="284.7" cy="504.4" r="0.72"/><circle cx="288.8" cy="479.3" r="0.72"/><circle cx="283.8" cy="420.5" r="0.72"/><circle cx="286.2" cy="509.6" r="0.72"/><circle cx="285.2" cy="485.8" r="0.72"/><circle cx="288.2" cy="509.1" r="0.72"/><circle cx="288.4" cy="476.0" r="0.72"/><circle cx="285.7" cy="501.2" r="0.72"/><circle cx="288.5" cy="444.9" r="0.72"/><circle cx="288.8" cy="464.9" r="0.72"/><circle cx="289.8" cy="490.0" r="0.72"/><circle cx="287.9" cy="412.4" r="0.72"/><circle cx="287.0" cy="465.7" r="0.72"/><circle cx="285.6" cy="410.6" r="0.72"/><circle cx="288.4" cy="496.0" r="0.72"/><circle cx="287.3" cy="523.3" r="0.72"/><circle cx="287.8" cy="499.4" r="0.72"/><circle cx="283.8" cy="460.3" r="0.72"/><circle cx="285.6" cy="453.8" r="0.72"/><circle cx="289.2" cy="490.6" r="0.72"/><circle cx="286.4" cy="470.2" r="0.72"/><circle cx="286.3" cy="431.0" r="0.72"/><circle cx="285.8" cy="463.1" r="0.72"/><circle cx="288.2" cy="497.6" r="0.72"/><circle cx="286.8" cy="408.8" r="0.72"/><circle cx="289.0" cy="518.6" r="0.72"/><circle cx="287.2" cy="506.2" r="0.72"/><circle cx="289.2" cy="474.3" r="0.72"/><circle cx="289.1" cy="455.7" r="0.72"/><circle cx="290.3" cy="454.0" r="0.72"/><circle cx="284.9" cy="454.7" r="0.72"/><circle cx="287.5" cy="450.6" r="0.72"/><circle cx="287.1" cy="483.4" r="0.72"/><circle cx="286.3" cy="410.0" r="0.72"/><circle cx="288.9" cy="527.1" r="0.72"/><circle cx="288.8" cy="484.6" r="0.72"/><circle cx="285.9" cy="436.7" r="0.72"/><circle cx="287.3" cy="526.1" r="0.72"/><circle cx="288.0" cy="435.5" r="0.72"/><circle cx="288.2" cy="514.7" r="0.72"/><circle cx="286.5" cy="428.2" r="0.72"/><circle cx="285.2" cy="473.4" r="0.72"/><circle cx="290.3" cy="485.8" r="0.72"/><circle cx="289.7" cy="452.5" r="0.72"/><circle cx="288.3" cy="406.2" r="0.72"/><circle cx="287.0" cy="513.9" r="0.72"/><circle cx="285.8" cy="510.7" r="0.72"/><circle cx="285.0" cy="490.4" r="0.72"/><circle cx="283.8" cy="400.9" r="0.72"/><circle cx="285.4" cy="401.1" r="0.72"/><circle cx="285.5" cy="509.6" r="0.72"/><circle cx="285.7" cy="449.2" r="0.72"/><circle cx="286.6" cy="424.8" r="0.72"/><circle cx="287.6" cy="502.6" r="0.72"/><circle cx="287.8" cy="510.5" r="0.72"/><circle cx="287.3" cy="465.0" r="0.72"/><circle cx="286.2" cy="474.9" r="0.72"/><circle cx="285.6" cy="466.6" r="0.72"/><circle cx="286.5" cy="470.2" r="0.72"/><circle cx="288.6" cy="525.7" r="0.72"/><circle cx="287.6" cy="504.1" r="0.72"/><circle cx="287.2" cy="445.6" r="0.72"/><circle cx="290.0" cy="503.8" r="0.72"/><circle cx="285.5" cy="515.6" r="0.72"/><circle cx="287.3" cy="493.6" r="0.72"/><circle cx="287.5" cy="444.5" r="0.72"/><circle cx="289.3" cy="435.2" r="0.72"/><circle cx="283.8" cy="480.5" r="0.72"/><circle cx="287.0" cy="463.2" r="0.72"/><circle cx="287.6" cy="508.1" r="0.72"/><circle cx="287.3" cy="494.1" r="0.72"/><circle cx="286.1" cy="516.0" r="0.72"/><circle cx="285.7" cy="496.6" r="0.72"/><circle cx="288.1" cy="473.8" r="0.72"/><circle cx="286.6" cy="510.1" r="0.72"/><circle cx="285.5" cy="497.0" r="0.72"/><circle cx="290.1" cy="451.4" r="0.72"/><circle cx="287.3" cy="483.2" r="0.72"/><circle cx="287.5" cy="512.8" r="0.72"/><circle cx="286.5" cy="433.3" r="0.72"/><circle cx="286.3" cy="460.8" r="0.72"/><circle cx="285.6" cy="519.3" r="0.72"/><circle cx="287.0" cy="514.6" r="0.72"/><circle cx="286.7" cy="447.3" r="0.72"/><circle cx="285.2" cy="509.0" r="0.72"/><circle cx="284.9" cy="455.7" r="0.72"/><circle cx="288.0" cy="515.7" r="0.72"/><circle cx="288.2" cy="424.4" r="0.72"/><circle cx="287.1" cy="486.6" r="0.72"/><circle cx="289.1" cy="506.8" r="0.72"/><circle cx="288.3" cy="400.9" r="0.72"/><circle cx="286.8" cy="493.7" r="0.72"/><circle cx="289.4" cy="505.1" r="0.72"/><circle cx="286.4" cy="486.3" r="0.72"/><circle cx="285.5" cy="510.0" r="0.72"/><circle cx="283.8" cy="517.9" r="0.72"/><circle cx="285.8" cy="421.2" r="0.72"/><circle cx="285.2" cy="514.9" r="0.72"/><circle cx="287.0" cy="507.1" r="0.72"/><circle cx="287.8" cy="395.5" r="0.72"/><circle cx="288.4" cy="395.3" r="0.72"/><circle cx="289.0" cy="395.8" r="0.72"/><circle cx="286.9" cy="395.1" r="0.72"/><circle cx="287.0" cy="530.5" r="0.72"/><circle cx="287.9" cy="531.1" r="0.72"/><circle cx="287.4" cy="531.4" r="0.72"/><circle cx="285.0" cy="531.1" r="0.72"/></g>
<g fill="#5fa6d4" opacity="0.92"><circle cx="305.4" cy="389.5" r="0.72"/><circle cx="305.3" cy="494.7" r="0.72"/><circle cx="304.2" cy="418.7" r="0.72"/><circle cx="303.0" cy="401.4" r="0.72"/><circle cx="304.1" cy="450.2" r="0.72"/><circle cx="303.2" cy="371.6" r="0.72"/><circle cx="305.1" cy="440.1" r="0.72"/><circle cx="304.4" cy="396.7" r="0.72"/><circle cx="303.8" cy="384.4" r="0.72"/><circle cx="303.7" cy="383.8" r="0.72"/><circle cx="305.5" cy="398.1" r="0.72"/><circle cx="305.4" cy="405.1" r="0.72"/><circle cx="305.8" cy="509.5" r="0.72"/><circle cx="304.8" cy="383.6" r="0.72"/><circle cx="303.0" cy="367.4" r="0.72"/><circle cx="307.5" cy="390.5" r="0.72"/><circle cx="301.1" cy="384.4" r="0.72"/><circle cx="302.2" cy="409.3" r="0.72"/><circle cx="303.5" cy="376.1" r="0.72"/><circle cx="304.0" cy="428.5" r="0.72"/><circle cx="303.6" cy="433.8" r="0.72"/><circle cx="305.7" cy="429.8" r="0.72"/><circle cx="304.6" cy="417.9" r="0.72"/><circle cx="305.6" cy="431.0" r="0.72"/><circle cx="302.4" cy="430.8" r="0.72"/><circle cx="305.5" cy="474.2" r="0.72"/><circle cx="304.0" cy="426.5" r="0.72"/><circle cx="307.0" cy="400.1" r="0.72"/><circle cx="303.2" cy="390.9" r="0.72"/><circle cx="304.3" cy="378.6" r="0.72"/><circle cx="303.5" cy="429.7" r="0.72"/><circle cx="305.3" cy="445.2" r="0.72"/><circle cx="305.1" cy="399.3" r="0.72"/><circle cx="302.8" cy="395.9" r="0.72"/><circle cx="303.0" cy="470.9" r="0.72"/><circle cx="304.8" cy="458.7" r="0.72"/><circle cx="304.5" cy="451.2" r="0.72"/><circle cx="301.9" cy="471.5" r="0.72"/><circle cx="304.9" cy="468.4" r="0.72"/><circle cx="302.2" cy="404.3" r="0.72"/><circle cx="304.0" cy="410.6" r="0.72"/><circle cx="303.2" cy="493.2" r="0.72"/><circle cx="307.6" cy="451.0" r="0.72"/><circle cx="305.2" cy="427.6" r="0.72"/><circle cx="307.2" cy="405.3" r="0.72"/><circle cx="303.8" cy="469.0" r="0.72"/><circle cx="306.6" cy="454.4" r="0.72"/><circle cx="306.2" cy="395.0" r="0.72"/><circle cx="303.6" cy="433.1" r="0.72"/><circle cx="305.3" cy="433.2" r="0.72"/><circle cx="306.8" cy="398.8" r="0.72"/><circle cx="302.5" cy="384.2" r="0.72"/><circle cx="303.2" cy="440.0" r="0.72"/><circle cx="305.0" cy="372.3" r="0.72"/><circle cx="305.1" cy="474.5" r="0.72"/><circle cx="305.5" cy="379.0" r="0.72"/><circle cx="302.9" cy="385.4" r="0.72"/><circle cx="307.1" cy="382.1" r="0.72"/><circle cx="305.4" cy="441.6" r="0.72"/><circle cx="306.9" cy="449.0" r="0.72"/><circle cx="305.8" cy="483.3" r="0.72"/><circle cx="303.4" cy="445.8" r="0.72"/><circle cx="304.4" cy="416.8" r="0.72"/><circle cx="304.7" cy="446.9" r="0.72"/><circle cx="305.9" cy="448.4" r="0.72"/><circle cx="304.5" cy="392.2" r="0.72"/><circle cx="303.5" cy="454.9" r="0.72"/><circle cx="302.4" cy="473.9" r="0.72"/><circle cx="303.4" cy="502.8" r="0.72"/><circle cx="302.5" cy="460.4" r="0.72"/><circle cx="306.5" cy="472.4" r="0.72"/><circle cx="301.7" cy="468.5" r="0.72"/><circle cx="303.2" cy="418.2" r="0.72"/><circle cx="303.8" cy="498.5" r="0.72"/><circle cx="303.1" cy="456.0" r="0.72"/><circle cx="302.7" cy="429.9" r="0.72"/><circle cx="304.7" cy="482.8" r="0.72"/><circle cx="305.7" cy="443.2" r="0.72"/><circle cx="305.0" cy="450.7" r="0.72"/><circle cx="304.0" cy="370.0" r="0.72"/><circle cx="305.1" cy="467.7" r="0.72"/><circle cx="303.5" cy="418.0" r="0.72"/><circle cx="307.1" cy="448.7" r="0.72"/><circle cx="305.1" cy="388.7" r="0.72"/><circle cx="304.7" cy="463.9" r="0.72"/><circle cx="302.6" cy="369.9" r="0.72"/><circle cx="303.6" cy="494.5" r="0.72"/><circle cx="305.2" cy="412.2" r="0.72"/><circle cx="305.5" cy="391.1" r="0.72"/><circle cx="302.8" cy="447.3" r="0.72"/><circle cx="305.4" cy="389.5" r="0.72"/><circle cx="305.1" cy="392.8" r="0.72"/><circle cx="305.1" cy="439.8" r="0.72"/><circle cx="304.4" cy="436.8" r="0.72"/><circle cx="305.1" cy="470.9" r="0.72"/><circle cx="304.4" cy="487.8" r="0.72"/><circle cx="302.7" cy="449.9" r="0.72"/><circle cx="305.2" cy="461.1" r="0.72"/><circle cx="301.1" cy="400.4" r="0.72"/><circle cx="304.0" cy="476.3" r="0.72"/><circle cx="302.9" cy="429.8" r="0.72"/><circle cx="304.5" cy="384.7" r="0.72"/><circle cx="305.5" cy="471.3" r="0.72"/><circle cx="303.4" cy="454.6" r="0.72"/><circle cx="303.2" cy="413.8" r="0.72"/><circle cx="303.9" cy="488.9" r="0.72"/><circle cx="303.9" cy="375.1" r="0.72"/><circle cx="305.0" cy="407.4" r="0.72"/><circle cx="303.7" cy="426.5" r="0.72"/><circle cx="305.6" cy="386.1" r="0.72"/><circle cx="303.7" cy="365.2" r="0.72"/><circle cx="306.4" cy="365.2" r="0.72"/><circle cx="304.0" cy="365.0" r="0.72"/><circle cx="305.1" cy="365.5" r="0.72"/><circle cx="304.2" cy="513.2" r="0.72"/><circle cx="303.2" cy="513.6" r="0.72"/><circle cx="304.2" cy="513.6" r="0.72"/><circle cx="303.8" cy="513.5" r="0.72"/></g>
<g fill="#2a6db0" opacity="0.92"><circle cx="322.5" cy="522.3" r="0.72"/><circle cx="325.0" cy="442.8" r="0.72"/><circle cx="320.0" cy="443.9" r="0.72"/><circle cx="321.8" cy="503.1" r="0.72"/><circle cx="320.3" cy="505.2" r="0.72"/><circle cx="319.8" cy="497.9" r="0.72"/><circle cx="323.2" cy="449.1" r="0.72"/><circle cx="323.4" cy="505.3" r="0.72"/><circle cx="321.0" cy="471.8" r="0.72"/><circle cx="323.6" cy="508.9" r="0.72"/><circle cx="321.1" cy="475.1" r="0.72"/><circle cx="321.2" cy="492.8" r="0.72"/><circle cx="319.7" cy="443.4" r="0.72"/><circle cx="321.1" cy="428.3" r="0.72"/><circle cx="322.0" cy="461.4" r="0.72"/><circle cx="323.4" cy="422.7" r="0.72"/><circle cx="321.8" cy="462.2" r="0.72"/><circle cx="320.3" cy="478.6" r="0.72"/><circle cx="322.7" cy="401.2" r="0.72"/><circle cx="319.7" cy="511.8" r="0.72"/><circle cx="325.0" cy="454.6" r="0.72"/><circle cx="322.5" cy="400.7" r="0.72"/><circle cx="321.4" cy="435.1" r="0.72"/><circle cx="324.8" cy="504.8" r="0.72"/><circle cx="321.5" cy="423.0" r="0.72"/><circle cx="321.7" cy="415.0" r="0.72"/><circle cx="322.9" cy="479.5" r="0.72"/><circle cx="319.7" cy="467.9" r="0.72"/><circle cx="322.7" cy="418.7" r="0.72"/><circle cx="324.9" cy="489.8" r="0.72"/><circle cx="321.5" cy="522.9" r="0.72"/><circle cx="322.2" cy="515.8" r="0.72"/><circle cx="322.4" cy="452.5" r="0.72"/><circle cx="322.4" cy="494.5" r="0.72"/><circle cx="324.7" cy="495.9" r="0.72"/><circle cx="320.1" cy="417.8" r="0.72"/><circle cx="319.2" cy="395.6" r="0.72"/><circle cx="322.8" cy="495.7" r="0.72"/><circle cx="322.7" cy="409.5" r="0.72"/><circle cx="319.4" cy="500.6" r="0.72"/><circle cx="323.5" cy="513.5" r="0.72"/><circle cx="320.9" cy="454.5" r="0.72"/><circle cx="323.3" cy="418.8" r="0.72"/><circle cx="323.6" cy="477.1" r="0.72"/><circle cx="320.8" cy="427.7" r="0.72"/><circle cx="322.0" cy="404.1" r="0.72"/><circle cx="321.7" cy="495.6" r="0.72"/><circle cx="318.8" cy="499.0" r="0.72"/><circle cx="320.9" cy="440.6" r="0.72"/><circle cx="322.4" cy="501.4" r="0.72"/><circle cx="320.5" cy="404.6" r="0.72"/><circle cx="323.1" cy="473.2" r="0.72"/><circle cx="321.8" cy="522.8" r="0.72"/><circle cx="319.2" cy="417.0" r="0.72"/><circle cx="322.1" cy="487.9" r="0.72"/><circle cx="323.1" cy="434.4" r="0.72"/><circle cx="320.2" cy="446.9" r="0.72"/><circle cx="322.8" cy="507.0" r="0.72"/><circle cx="319.9" cy="410.8" r="0.72"/><circle cx="322.1" cy="427.6" r="0.72"/><circle cx="321.5" cy="503.0" r="0.72"/><circle cx="320.3" cy="424.7" r="0.72"/><circle cx="321.4" cy="513.1" r="0.72"/><circle cx="323.9" cy="475.2" r="0.72"/><circle cx="320.8" cy="485.9" r="0.72"/><circle cx="321.2" cy="479.8" r="0.72"/><circle cx="322.1" cy="529.5" r="0.72"/><circle cx="320.6" cy="422.6" r="0.72"/><circle cx="320.0" cy="464.6" r="0.72"/><circle cx="320.4" cy="509.8" r="0.72"/><circle cx="320.9" cy="428.6" r="0.72"/><circle cx="324.8" cy="427.6" r="0.72"/><circle cx="322.4" cy="443.5" r="0.72"/><circle cx="320.2" cy="444.3" r="0.72"/><circle cx="322.0" cy="404.8" r="0.72"/><circle cx="322.4" cy="482.3" r="0.72"/><circle cx="322.4" cy="471.8" r="0.72"/><circle cx="322.6" cy="418.2" r="0.72"/><circle cx="322.3" cy="484.8" r="0.72"/><circle cx="322.5" cy="460.4" r="0.72"/><circle cx="319.8" cy="503.7" r="0.72"/><circle cx="322.1" cy="479.5" r="0.72"/><circle cx="321.9" cy="472.8" r="0.72"/><circle cx="321.5" cy="409.0" r="0.72"/><circle cx="324.3" cy="502.9" r="0.72"/><circle cx="322.4" cy="461.6" r="0.72"/><circle cx="322.3" cy="467.0" r="0.72"/><circle cx="324.4" cy="493.1" r="0.72"/><circle cx="322.0" cy="435.3" r="0.72"/><circle cx="323.8" cy="448.5" r="0.72"/><circle cx="321.2" cy="486.4" r="0.72"/><circle cx="321.8" cy="449.3" r="0.72"/><circle cx="322.9" cy="441.3" r="0.72"/><circle cx="323.4" cy="434.2" r="0.72"/><circle cx="323.4" cy="512.4" r="0.72"/><circle cx="319.1" cy="518.8" r="0.72"/><circle cx="322.8" cy="498.9" r="0.72"/><circle cx="322.4" cy="514.1" r="0.72"/><circle cx="321.7" cy="474.5" r="0.72"/><circle cx="323.1" cy="477.3" r="0.72"/><circle cx="322.3" cy="486.5" r="0.72"/><circle cx="319.3" cy="511.0" r="0.72"/><circle cx="323.1" cy="500.9" r="0.72"/><circle cx="321.8" cy="511.6" r="0.72"/><circle cx="322.7" cy="440.3" r="0.72"/><circle cx="318.5" cy="502.1" r="0.72"/><circle cx="321.8" cy="521.0" r="0.72"/><circle cx="320.1" cy="408.8" r="0.72"/><circle cx="321.5" cy="484.3" r="0.72"/><circle cx="322.3" cy="405.8" r="0.72"/><circle cx="321.8" cy="389.4" r="0.72"/><circle cx="321.5" cy="389.8" r="0.72"/><circle cx="323.2" cy="389.5" r="0.72"/><circle cx="320.3" cy="389.4" r="0.72"/><circle cx="323.5" cy="531.2" r="0.72"/><circle cx="322.5" cy="531.4" r="0.72"/><circle cx="321.6" cy="531.4" r="0.72"/><circle cx="320.6" cy="531.4" r="0.72"/></g>
<g fill="#bcd5ec" opacity="0.8"><circle cx="353.6" cy="372.0" r="0.72"/><circle cx="353.0" cy="370.5" r="0.72"/><circle cx="354.4" cy="358.1" r="0.72"/><circle cx="352.4" cy="394.8" r="0.72"/><circle cx="351.4" cy="373.9" r="0.72"/><circle cx="352.4" cy="439.9" r="0.72"/><circle cx="352.1" cy="385.5" r="0.72"/><circle cx="351.2" cy="393.6" r="0.72"/><circle cx="352.1" cy="391.9" r="0.72"/><circle cx="352.0" cy="418.7" r="0.72"/><circle cx="351.1" cy="436.2" r="0.72"/><circle cx="351.4" cy="461.7" r="0.72"/><circle cx="351.6" cy="390.4" r="0.72"/><circle cx="354.9" cy="439.1" r="0.72"/><circle cx="352.5" cy="404.7" r="0.72"/><circle cx="351.5" cy="383.4" r="0.72"/><circle cx="352.6" cy="470.9" r="0.72"/><circle cx="352.1" cy="384.2" r="0.72"/><circle cx="352.9" cy="429.6" r="0.72"/><circle cx="353.7" cy="409.8" r="0.72"/><circle cx="353.6" cy="422.7" r="0.72"/><circle cx="353.6" cy="439.9" r="0.72"/><circle cx="351.0" cy="360.1" r="0.72"/><circle cx="353.4" cy="449.7" r="0.72"/><circle cx="351.3" cy="359.8" r="0.72"/><circle cx="354.3" cy="374.8" r="0.72"/><circle cx="352.3" cy="426.0" r="0.72"/><circle cx="351.0" cy="464.3" r="0.72"/><circle cx="349.2" cy="475.9" r="0.72"/><circle cx="353.3" cy="452.5" r="0.72"/><circle cx="352.4" cy="418.9" r="0.72"/><circle cx="351.0" cy="458.5" r="0.72"/><circle cx="349.0" cy="407.8" r="0.72"/><circle cx="353.9" cy="368.8" r="0.72"/><circle cx="350.7" cy="448.7" r="0.72"/><circle cx="351.6" cy="477.7" r="0.72"/><circle cx="353.4" cy="418.3" r="0.72"/><circle cx="351.6" cy="400.1" r="0.72"/><circle cx="355.5" cy="385.8" r="0.72"/><circle cx="353.6" cy="464.4" r="0.72"/><circle cx="352.2" cy="439.7" r="0.72"/><circle cx="351.9" cy="428.6" r="0.72"/><circle cx="352.0" cy="461.9" r="0.72"/><circle cx="352.3" cy="458.7" r="0.72"/><circle cx="352.8" cy="450.3" r="0.72"/><circle cx="352.6" cy="453.5" r="0.72"/><circle cx="354.1" cy="408.0" r="0.72"/><circle cx="354.4" cy="422.4" r="0.72"/><circle cx="352.4" cy="447.1" r="0.72"/><circle cx="355.2" cy="474.9" r="0.72"/><circle cx="355.3" cy="382.1" r="0.72"/><circle cx="354.4" cy="423.7" r="0.72"/><circle cx="352.7" cy="398.8" r="0.72"/><circle cx="351.7" cy="471.6" r="0.72"/><circle cx="350.1" cy="387.7" r="0.72"/><circle cx="350.9" cy="443.2" r="0.72"/><circle cx="352.9" cy="410.5" r="0.72"/><circle cx="353.8" cy="442.7" r="0.72"/><circle cx="351.9" cy="400.1" r="0.72"/><circle cx="353.4" cy="393.6" r="0.72"/><circle cx="352.8" cy="468.0" r="0.72"/><circle cx="350.5" cy="449.6" r="0.72"/><circle cx="350.4" cy="463.6" r="0.72"/><circle cx="352.1" cy="384.7" r="0.72"/><circle cx="349.4" cy="428.9" r="0.72"/><circle cx="354.0" cy="443.8" r="0.72"/><circle cx="355.5" cy="357.6" r="0.72"/><circle cx="349.3" cy="363.5" r="0.72"/><circle cx="353.1" cy="446.3" r="0.72"/><circle cx="350.3" cy="452.4" r="0.72"/><circle cx="350.5" cy="353.1" r="0.72"/><circle cx="350.0" cy="403.3" r="0.72"/><circle cx="352.9" cy="469.0" r="0.72"/><circle cx="351.5" cy="446.0" r="0.72"/><circle cx="352.9" cy="396.6" r="0.72"/><circle cx="353.9" cy="385.4" r="0.72"/><circle cx="351.9" cy="466.4" r="0.72"/><circle cx="351.6" cy="413.6" r="0.72"/><circle cx="352.1" cy="392.8" r="0.72"/><circle cx="351.8" cy="453.9" r="0.72"/><circle cx="351.0" cy="361.2" r="0.72"/><circle cx="353.3" cy="428.8" r="0.72"/><circle cx="352.1" cy="387.4" r="0.72"/><circle cx="350.0" cy="424.6" r="0.72"/><circle cx="351.2" cy="402.0" r="0.72"/><circle cx="352.2" cy="362.7" r="0.72"/><circle cx="353.1" cy="360.4" r="0.72"/><circle cx="349.0" cy="415.1" r="0.72"/><circle cx="352.4" cy="374.2" r="0.72"/><circle cx="354.8" cy="385.2" r="0.72"/><circle cx="353.9" cy="364.1" r="0.72"/><circle cx="349.5" cy="444.8" r="0.72"/><circle cx="350.9" cy="378.4" r="0.72"/><circle cx="352.5" cy="429.7" r="0.72"/><circle cx="353.9" cy="377.5" r="0.72"/><circle cx="349.7" cy="390.5" r="0.72"/><circle cx="353.4" cy="456.3" r="0.72"/><circle cx="353.9" cy="451.5" r="0.72"/><circle cx="353.0" cy="434.4" r="0.72"/><circle cx="352.8" cy="385.0" r="0.72"/><circle cx="353.1" cy="450.2" r="0.72"/><circle cx="351.1" cy="373.4" r="0.72"/><circle cx="352.1" cy="439.5" r="0.72"/><circle cx="353.8" cy="483.8" r="0.72"/><circle cx="352.1" cy="419.6" r="0.72"/><circle cx="352.4" cy="372.2" r="0.72"/><circle cx="355.5" cy="428.7" r="0.72"/><circle cx="352.3" cy="449.7" r="0.72"/><circle cx="353.0" cy="447.0" r="0.72"/><circle cx="352.4" cy="385.8" r="0.72"/><circle cx="352.6" cy="351.3" r="0.72"/><circle cx="351.1" cy="351.1" r="0.72"/><circle cx="354.3" cy="351.2" r="0.72"/><circle cx="354.4" cy="351.7" r="0.72"/><circle cx="350.6" cy="491.2" r="0.72"/><circle cx="350.1" cy="491.1" r="0.72"/><circle cx="353.6" cy="491.1" r="0.72"/><circle cx="352.5" cy="491.2" r="0.72"/></g>
<g fill="#5fa6d4" opacity="0.92"><circle cx="368.4" cy="502.8" r="0.72"/><circle cx="369.3" cy="488.3" r="0.72"/><circle cx="369.1" cy="499.8" r="0.72"/><circle cx="367.6" cy="442.4" r="0.72"/><circle cx="366.7" cy="464.4" r="0.72"/><circle cx="367.5" cy="437.6" r="0.72"/><circle cx="368.0" cy="473.5" r="0.72"/><circle cx="372.8" cy="489.7" r="0.72"/><circle cx="368.4" cy="507.5" r="0.72"/><circle cx="371.7" cy="416.4" r="0.72"/><circle cx="367.7" cy="461.8" r="0.72"/><circle cx="366.5" cy="442.6" r="0.72"/><circle cx="367.0" cy="486.1" r="0.72"/><circle cx="370.2" cy="492.3" r="0.72"/><circle cx="367.5" cy="506.7" r="0.72"/><circle cx="367.7" cy="495.7" r="0.72"/><circle cx="370.2" cy="456.2" r="0.72"/><circle cx="369.1" cy="504.4" r="0.72"/><circle cx="367.7" cy="483.7" r="0.72"/><circle cx="372.9" cy="394.9" r="0.72"/><circle cx="370.2" cy="486.1" r="0.72"/><circle cx="367.5" cy="501.2" r="0.72"/><circle cx="369.9" cy="405.8" r="0.72"/><circle cx="370.2" cy="485.7" r="0.72"/><circle cx="368.0" cy="518.3" r="0.72"/><circle cx="369.8" cy="410.8" r="0.72"/><circle cx="371.2" cy="487.6" r="0.72"/><circle cx="367.4" cy="470.6" r="0.72"/><circle cx="369.0" cy="496.4" r="0.72"/><circle cx="371.3" cy="488.5" r="0.72"/><circle cx="368.2" cy="461.9" r="0.72"/><circle cx="369.6" cy="467.6" r="0.72"/><circle cx="370.0" cy="395.1" r="0.72"/><circle cx="371.0" cy="519.6" r="0.72"/><circle cx="371.1" cy="508.3" r="0.72"/><circle cx="370.2" cy="433.9" r="0.72"/><circle cx="372.5" cy="454.1" r="0.72"/><circle cx="369.0" cy="470.7" r="0.72"/><circle cx="371.1" cy="471.5" r="0.72"/><circle cx="369.7" cy="495.0" r="0.72"/><circle cx="371.4" cy="465.5" r="0.72"/><circle cx="370.4" cy="489.5" r="0.72"/><circle cx="369.0" cy="483.8" r="0.72"/><circle cx="370.0" cy="449.1" r="0.72"/><circle cx="369.0" cy="439.4" r="0.72"/><circle cx="369.2" cy="468.7" r="0.72"/><circle cx="372.2" cy="428.2" r="0.72"/><circle cx="369.4" cy="513.9" r="0.72"/><circle cx="369.0" cy="426.9" r="0.72"/><circle cx="368.5" cy="418.8" r="0.72"/><circle cx="370.5" cy="435.5" r="0.72"/><circle cx="368.9" cy="472.0" r="0.72"/><circle cx="368.8" cy="489.3" r="0.72"/><circle cx="372.1" cy="466.2" r="0.72"/><circle cx="366.4" cy="491.6" r="0.72"/><circle cx="368.6" cy="473.5" r="0.72"/><circle cx="366.4" cy="420.2" r="0.72"/><circle cx="367.6" cy="516.3" r="0.72"/><circle cx="367.2" cy="485.4" r="0.72"/><circle cx="368.8" cy="406.8" r="0.72"/><circle cx="367.4" cy="465.2" r="0.72"/><circle cx="369.9" cy="478.5" r="0.72"/><circle cx="369.8" cy="453.1" r="0.72"/><circle cx="369.5" cy="492.2" r="0.72"/><circle cx="372.2" cy="427.2" r="0.72"/><circle cx="370.6" cy="516.0" r="0.72"/><circle cx="370.0" cy="461.5" r="0.72"/><circle cx="368.5" cy="489.2" r="0.72"/><circle cx="369.1" cy="497.3" r="0.72"/><circle cx="367.8" cy="467.8" r="0.72"/><circle cx="366.4" cy="491.9" r="0.72"/><circle cx="367.6" cy="442.4" r="0.72"/><circle cx="369.6" cy="411.5" r="0.72"/><circle cx="371.5" cy="489.0" r="0.72"/><circle cx="369.9" cy="490.9" r="0.72"/><circle cx="368.7" cy="474.7" r="0.72"/><circle cx="369.9" cy="443.1" r="0.72"/><circle cx="369.5" cy="494.6" r="0.72"/><circle cx="370.5" cy="483.7" r="0.72"/><circle cx="369.2" cy="433.2" r="0.72"/><circle cx="366.4" cy="488.4" r="0.72"/><circle cx="368.5" cy="511.5" r="0.72"/><circle cx="370.1" cy="491.7" r="0.72"/><circle cx="370.3" cy="493.0" r="0.72"/><circle cx="368.9" cy="453.7" r="0.72"/><circle cx="369.2" cy="439.2" r="0.72"/><circle cx="371.4" cy="482.3" r="0.72"/><circle cx="371.9" cy="436.3" r="0.72"/><circle cx="372.2" cy="497.9" r="0.72"/><circle cx="368.5" cy="497.1" r="0.72"/><circle cx="371.6" cy="523.2" r="0.72"/><circle cx="367.4" cy="507.9" r="0.72"/><circle cx="369.9" cy="444.2" r="0.72"/><circle cx="367.4" cy="434.5" r="0.72"/><circle cx="368.2" cy="401.2" r="0.72"/><circle cx="372.2" cy="418.7" r="0.72"/><circle cx="368.6" cy="492.5" r="0.72"/><circle cx="367.4" cy="431.9" r="0.72"/><circle cx="369.4" cy="473.5" r="0.72"/><circle cx="370.8" cy="477.1" r="0.72"/><circle cx="371.7" cy="504.4" r="0.72"/><circle cx="367.1" cy="496.1" r="0.72"/><circle cx="369.2" cy="454.2" r="0.72"/><circle cx="368.9" cy="442.5" r="0.72"/><circle cx="369.4" cy="444.2" r="0.72"/><circle cx="370.3" cy="494.0" r="0.72"/><circle cx="366.8" cy="443.5" r="0.72"/><circle cx="370.2" cy="502.4" r="0.72"/><circle cx="367.7" cy="507.1" r="0.72"/><circle cx="372.2" cy="502.2" r="0.72"/><circle cx="367.7" cy="391.2" r="0.72"/><circle cx="367.8" cy="391.1" r="0.72"/><circle cx="367.8" cy="390.6" r="0.72"/><circle cx="370.3" cy="391.3" r="0.72"/><circle cx="369.2" cy="524.2" r="0.72"/><circle cx="367.5" cy="524.1" r="0.72"/><circle cx="368.5" cy="524.6" r="0.72"/><circle cx="370.5" cy="524.6" r="0.72"/></g>
<g fill="#2a6db0" opacity="0.92"><circle cx="386.7" cy="480.5" r="0.72"/><circle cx="386.2" cy="489.5" r="0.72"/><circle cx="386.4" cy="493.7" r="0.72"/><circle cx="389.5" cy="497.8" r="0.72"/><circle cx="386.3" cy="492.2" r="0.72"/><circle cx="390.0" cy="467.2" r="0.72"/><circle cx="384.4" cy="485.3" r="0.72"/><circle cx="389.4" cy="422.9" r="0.72"/><circle cx="384.1" cy="486.7" r="0.72"/><circle cx="385.7" cy="495.3" r="0.72"/><circle cx="388.4" cy="495.2" r="0.72"/><circle cx="388.1" cy="450.9" r="0.72"/><circle cx="383.7" cy="501.6" r="0.72"/><circle cx="388.9" cy="485.2" r="0.72"/><circle cx="388.7" cy="489.7" r="0.72"/><circle cx="384.2" cy="490.0" r="0.72"/><circle cx="385.3" cy="504.0" r="0.72"/><circle cx="385.0" cy="426.3" r="0.72"/><circle cx="386.3" cy="464.5" r="0.72"/><circle cx="388.7" cy="493.9" r="0.72"/><circle cx="383.7" cy="486.8" r="0.72"/><circle cx="387.6" cy="429.7" r="0.72"/><circle cx="383.7" cy="425.7" r="0.72"/><circle cx="387.5" cy="502.8" r="0.72"/><circle cx="384.9" cy="426.8" r="0.72"/><circle cx="384.5" cy="488.3" r="0.72"/><circle cx="389.9" cy="407.5" r="0.72"/><circle cx="387.4" cy="443.9" r="0.72"/><circle cx="387.5" cy="490.0" r="0.72"/><circle cx="386.0" cy="453.0" r="0.72"/><circle cx="386.1" cy="485.8" r="0.72"/><circle cx="387.5" cy="446.6" r="0.72"/><circle cx="390.2" cy="455.7" r="0.72"/><circle cx="389.2" cy="497.3" r="0.72"/><circle cx="385.2" cy="490.0" r="0.72"/><circle cx="388.0" cy="432.6" r="0.72"/><circle cx="386.0" cy="421.6" r="0.72"/><circle cx="385.8" cy="505.3" r="0.72"/><circle cx="384.9" cy="508.7" r="0.72"/><circle cx="386.7" cy="486.8" r="0.72"/><circle cx="385.7" cy="411.0" r="0.72"/><circle cx="387.7" cy="488.1" r="0.72"/><circle cx="388.9" cy="500.5" r="0.72"/><circle cx="386.2" cy="479.1" r="0.72"/><circle cx="386.9" cy="487.7" r="0.72"/><circle cx="388.3" cy="484.7" r="0.72"/><circle cx="388.9" cy="486.8" r="0.72"/><circle cx="386.7" cy="498.2" r="0.72"/><circle cx="387.7" cy="510.3" r="0.72"/><circle cx="388.2" cy="449.0" r="0.72"/><circle cx="387.2" cy="432.8" r="0.72"/><circle cx="389.7" cy="487.0" r="0.72"/><circle cx="386.5" cy="479.7" r="0.72"/><circle cx="386.9" cy="509.0" r="0.72"/><circle cx="386.4" cy="463.6" r="0.72"/><circle cx="385.5" cy="427.2" r="0.72"/><circle cx="386.8" cy="443.8" r="0.72"/><circle cx="387.5" cy="477.8" r="0.72"/><circle cx="387.0" cy="465.2" r="0.72"/><circle cx="387.4" cy="485.0" r="0.72"/><circle cx="386.8" cy="512.6" r="0.72"/><circle cx="384.8" cy="494.3" r="0.72"/><circle cx="387.1" cy="486.8" r="0.72"/><circle cx="387.9" cy="499.9" r="0.72"/><circle cx="384.6" cy="444.4" r="0.72"/><circle cx="387.7" cy="491.2" r="0.72"/><circle cx="385.1" cy="445.7" r="0.72"/><circle cx="385.7" cy="489.2" r="0.72"/><circle cx="388.5" cy="476.7" r="0.72"/><circle cx="390.2" cy="463.0" r="0.72"/><circle cx="386.5" cy="480.4" r="0.72"/><circle cx="386.4" cy="491.8" r="0.72"/><circle cx="387.1" cy="496.8" r="0.72"/><circle cx="386.7" cy="486.9" r="0.72"/><circle cx="387.5" cy="436.3" r="0.72"/><circle cx="384.5" cy="493.3" r="0.72"/><circle cx="386.6" cy="496.7" r="0.72"/><circle cx="385.7" cy="456.6" r="0.72"/><circle cx="387.1" cy="491.1" r="0.72"/><circle cx="384.9" cy="444.5" r="0.72"/><circle cx="383.7" cy="409.8" r="0.72"/><circle cx="390.1" cy="516.5" r="0.72"/><circle cx="388.9" cy="434.8" r="0.72"/><circle cx="387.3" cy="489.4" r="0.72"/><circle cx="386.5" cy="450.7" r="0.72"/><circle cx="387.9" cy="448.8" r="0.72"/><circle cx="387.0" cy="478.1" r="0.72"/><circle cx="385.1" cy="512.3" r="0.72"/><circle cx="387.3" cy="450.6" r="0.72"/><circle cx="388.7" cy="519.4" r="0.72"/><circle cx="385.6" cy="495.2" r="0.72"/><circle cx="384.7" cy="467.4" r="0.72"/><circle cx="386.7" cy="486.9" r="0.72"/><circle cx="384.6" cy="498.3" r="0.72"/><circle cx="384.9" cy="480.0" r="0.72"/><circle cx="385.5" cy="498.8" r="0.72"/><circle cx="386.6" cy="492.9" r="0.72"/><circle cx="387.5" cy="491.2" r="0.72"/><circle cx="386.1" cy="455.8" r="0.72"/><circle cx="386.5" cy="455.6" r="0.72"/><circle cx="387.0" cy="504.5" r="0.72"/><circle cx="386.1" cy="506.2" r="0.72"/><circle cx="385.7" cy="495.5" r="0.72"/><circle cx="386.8" cy="433.7" r="0.72"/><circle cx="386.4" cy="423.1" r="0.72"/><circle cx="389.5" cy="460.1" r="0.72"/><circle cx="386.8" cy="476.8" r="0.72"/><circle cx="390.2" cy="418.8" r="0.72"/><circle cx="386.3" cy="515.8" r="0.72"/><circle cx="388.2" cy="498.8" r="0.72"/><circle cx="386.6" cy="400.7" r="0.72"/><circle cx="384.9" cy="400.6" r="0.72"/><circle cx="386.1" cy="399.8" r="0.72"/><circle cx="388.7" cy="400.1" r="0.72"/><circle cx="385.7" cy="519.7" r="0.72"/><circle cx="386.4" cy="519.7" r="0.72"/><circle cx="385.5" cy="519.9" r="0.72"/><circle cx="387.3" cy="520.0" r="0.72"/></g>
<g fill="#bcd5ec" opacity="0.8"><circle cx="414.6" cy="451.7" r="0.72"/><circle cx="416.8" cy="406.4" r="0.72"/><circle cx="419.7" cy="447.2" r="0.72"/><circle cx="415.9" cy="422.6" r="0.72"/><circle cx="416.8" cy="431.7" r="0.72"/><circle cx="418.0" cy="390.2" r="0.72"/><circle cx="420.1" cy="418.0" r="0.72"/><circle cx="419.3" cy="390.0" r="0.72"/><circle cx="416.9" cy="481.3" r="0.72"/><circle cx="416.2" cy="425.2" r="0.72"/><circle cx="416.2" cy="395.9" r="0.72"/><circle cx="418.7" cy="412.3" r="0.72"/><circle cx="416.1" cy="463.0" r="0.72"/><circle cx="416.1" cy="374.8" r="0.72"/><circle cx="417.1" cy="463.4" r="0.72"/><circle cx="416.8" cy="455.4" r="0.72"/><circle cx="418.4" cy="470.2" r="0.72"/><circle cx="418.8" cy="464.6" r="0.72"/><circle cx="419.0" cy="399.7" r="0.72"/><circle cx="418.5" cy="393.0" r="0.72"/><circle cx="417.8" cy="469.3" r="0.72"/><circle cx="419.9" cy="432.3" r="0.72"/><circle cx="416.4" cy="384.0" r="0.72"/><circle cx="418.6" cy="380.0" r="0.72"/><circle cx="420.5" cy="447.2" r="0.72"/><circle cx="416.6" cy="462.3" r="0.72"/><circle cx="418.0" cy="424.2" r="0.72"/><circle cx="417.0" cy="394.3" r="0.72"/><circle cx="417.2" cy="401.6" r="0.72"/><circle cx="415.1" cy="472.2" r="0.72"/><circle cx="419.4" cy="379.8" r="0.72"/><circle cx="418.9" cy="406.5" r="0.72"/><circle cx="416.6" cy="450.3" r="0.72"/><circle cx="415.8" cy="403.7" r="0.72"/><circle cx="418.7" cy="479.7" r="0.72"/><circle cx="416.6" cy="398.9" r="0.72"/><circle cx="417.8" cy="432.1" r="0.72"/><circle cx="416.0" cy="424.3" r="0.72"/><circle cx="416.6" cy="482.9" r="0.72"/><circle cx="417.3" cy="393.2" r="0.72"/><circle cx="414.0" cy="411.1" r="0.72"/><circle cx="419.2" cy="381.8" r="0.72"/><circle cx="419.4" cy="380.1" r="0.72"/><circle cx="418.5" cy="406.0" r="0.72"/><circle cx="420.5" cy="418.2" r="0.72"/><circle cx="417.6" cy="436.0" r="0.72"/><circle cx="417.7" cy="419.3" r="0.72"/><circle cx="416.1" cy="482.1" r="0.72"/><circle cx="417.2" cy="385.3" r="0.72"/><circle cx="417.7" cy="468.2" r="0.72"/><circle cx="417.2" cy="371.0" r="0.72"/><circle cx="416.2" cy="467.3" r="0.72"/><circle cx="416.2" cy="388.7" r="0.72"/><circle cx="415.5" cy="468.8" r="0.72"/><circle cx="417.4" cy="439.0" r="0.72"/><circle cx="417.2" cy="438.3" r="0.72"/><circle cx="418.0" cy="477.6" r="0.72"/><circle cx="417.2" cy="380.6" r="0.72"/><circle cx="417.2" cy="395.1" r="0.72"/><circle cx="416.8" cy="409.3" r="0.72"/><circle cx="416.4" cy="429.6" r="0.72"/><circle cx="417.3" cy="427.6" r="0.72"/><circle cx="419.4" cy="399.0" r="0.72"/><circle cx="419.6" cy="438.2" r="0.72"/><circle cx="417.4" cy="456.3" r="0.72"/><circle cx="419.0" cy="414.1" r="0.72"/><circle cx="418.7" cy="421.8" r="0.72"/><circle cx="416.1" cy="427.5" r="0.72"/><circle cx="417.3" cy="373.0" r="0.72"/><circle cx="417.5" cy="449.0" r="0.72"/><circle cx="418.4" cy="450.8" r="0.72"/><circle cx="418.4" cy="481.1" r="0.72"/><circle cx="414.1" cy="385.7" r="0.72"/><circle cx="417.6" cy="409.1" r="0.72"/><circle cx="417.3" cy="405.8" r="0.72"/><circle cx="415.9" cy="405.9" r="0.72"/><circle cx="415.3" cy="461.8" r="0.72"/><circle cx="416.5" cy="401.5" r="0.72"/><circle cx="415.6" cy="465.2" r="0.72"/><circle cx="419.7" cy="398.8" r="0.72"/><circle cx="418.0" cy="375.9" r="0.72"/><circle cx="418.0" cy="471.4" r="0.72"/><circle cx="417.2" cy="406.4" r="0.72"/><circle cx="415.0" cy="401.2" r="0.72"/><circle cx="414.0" cy="427.2" r="0.72"/><circle cx="415.9" cy="414.0" r="0.72"/><circle cx="415.7" cy="413.2" r="0.72"/><circle cx="416.3" cy="403.2" r="0.72"/><circle cx="418.4" cy="421.5" r="0.72"/><circle cx="418.4" cy="438.1" r="0.72"/><circle cx="415.9" cy="436.8" r="0.72"/><circle cx="416.7" cy="441.6" r="0.72"/><circle cx="414.4" cy="437.4" r="0.72"/><circle cx="420.3" cy="473.3" r="0.72"/><circle cx="417.0" cy="484.6" r="0.72"/><circle cx="415.7" cy="434.8" r="0.72"/><circle cx="416.5" cy="419.6" r="0.72"/><circle cx="418.1" cy="485.0" r="0.72"/><circle cx="418.4" cy="391.6" r="0.72"/><circle cx="416.8" cy="432.9" r="0.72"/><circle cx="420.3" cy="449.5" r="0.72"/><circle cx="418.4" cy="395.6" r="0.72"/><circle cx="417.2" cy="458.9" r="0.72"/><circle cx="419.7" cy="399.6" r="0.72"/><circle cx="416.4" cy="432.4" r="0.72"/><circle cx="418.0" cy="399.4" r="0.72"/><circle cx="417.7" cy="392.7" r="0.72"/><circle cx="416.7" cy="419.4" r="0.72"/><circle cx="416.9" cy="374.1" r="0.72"/><circle cx="415.6" cy="467.4" r="0.72"/><circle cx="415.3" cy="367.7" r="0.72"/><circle cx="415.4" cy="367.8" r="0.72"/><circle cx="418.0" cy="367.5" r="0.72"/><circle cx="419.0" cy="367.9" r="0.72"/><circle cx="417.8" cy="490.9" r="0.72"/><circle cx="417.6" cy="491.2" r="0.72"/><circle cx="416.1" cy="491.7" r="0.72"/><circle cx="418.3" cy="490.9" r="0.72"/></g>
<g fill="#5fa6d4" opacity="0.92"><circle cx="433.5" cy="485.0" r="0.72"/><circle cx="436.3" cy="475.3" r="0.72"/><circle cx="435.0" cy="462.9" r="0.72"/><circle cx="433.7" cy="432.6" r="0.72"/><circle cx="437.9" cy="474.7" r="0.72"/><circle cx="433.3" cy="475.0" r="0.72"/><circle cx="435.8" cy="444.9" r="0.72"/><circle cx="435.6" cy="443.1" r="0.72"/><circle cx="434.4" cy="441.5" r="0.72"/><circle cx="434.9" cy="494.4" r="0.72"/><circle cx="435.2" cy="449.9" r="0.72"/><circle cx="435.8" cy="443.6" r="0.72"/><circle cx="433.4" cy="412.9" r="0.72"/><circle cx="434.5" cy="447.1" r="0.72"/><circle cx="434.8" cy="480.6" r="0.72"/><circle cx="433.7" cy="482.1" r="0.72"/><circle cx="435.4" cy="463.0" r="0.72"/><circle cx="434.1" cy="488.1" r="0.72"/><circle cx="434.9" cy="493.6" r="0.72"/><circle cx="436.0" cy="467.7" r="0.72"/><circle cx="433.1" cy="428.5" r="0.72"/><circle cx="435.6" cy="467.6" r="0.72"/><circle cx="435.9" cy="427.1" r="0.72"/><circle cx="433.7" cy="410.0" r="0.72"/><circle cx="436.5" cy="483.3" r="0.72"/><circle cx="434.3" cy="436.7" r="0.72"/><circle cx="434.5" cy="469.2" r="0.72"/><circle cx="435.4" cy="414.9" r="0.72"/><circle cx="434.0" cy="471.6" r="0.72"/><circle cx="433.0" cy="453.5" r="0.72"/><circle cx="435.2" cy="486.8" r="0.72"/><circle cx="435.9" cy="436.8" r="0.72"/><circle cx="437.1" cy="451.7" r="0.72"/><circle cx="434.6" cy="463.6" r="0.72"/><circle cx="434.5" cy="500.6" r="0.72"/><circle cx="435.7" cy="422.2" r="0.72"/><circle cx="434.1" cy="451.0" r="0.72"/><circle cx="435.6" cy="479.0" r="0.72"/><circle cx="433.0" cy="480.1" r="0.72"/><circle cx="436.9" cy="425.7" r="0.72"/><circle cx="436.3" cy="435.0" r="0.72"/><circle cx="433.1" cy="495.5" r="0.72"/><circle cx="435.2" cy="504.0" r="0.72"/><circle cx="435.6" cy="453.3" r="0.72"/><circle cx="433.2" cy="422.2" r="0.72"/><circle cx="433.8" cy="484.0" r="0.72"/><circle cx="434.6" cy="398.7" r="0.72"/><circle cx="433.2" cy="503.8" r="0.72"/><circle cx="434.5" cy="398.6" r="0.72"/><circle cx="437.6" cy="495.1" r="0.72"/><circle cx="432.6" cy="439.9" r="0.72"/><circle cx="437.2" cy="478.3" r="0.72"/><circle cx="435.5" cy="496.8" r="0.72"/><circle cx="437.3" cy="399.5" r="0.72"/><circle cx="434.1" cy="441.0" r="0.72"/><circle cx="433.4" cy="481.0" r="0.72"/><circle cx="435.1" cy="498.4" r="0.72"/><circle cx="434.6" cy="444.3" r="0.72"/><circle cx="435.2" cy="472.6" r="0.72"/><circle cx="436.1" cy="408.6" r="0.72"/><circle cx="435.7" cy="483.6" r="0.72"/><circle cx="436.5" cy="439.4" r="0.72"/><circle cx="436.0" cy="455.2" r="0.72"/><circle cx="437.5" cy="495.8" r="0.72"/><circle cx="434.7" cy="489.6" r="0.72"/><circle cx="436.5" cy="459.0" r="0.72"/><circle cx="434.1" cy="450.6" r="0.72"/><circle cx="431.4" cy="459.8" r="0.72"/><circle cx="434.7" cy="504.4" r="0.72"/><circle cx="434.3" cy="476.1" r="0.72"/><circle cx="432.4" cy="492.5" r="0.72"/><circle cx="433.0" cy="493.9" r="0.72"/><circle cx="436.0" cy="478.6" r="0.72"/><circle cx="432.7" cy="496.0" r="0.72"/><circle cx="435.0" cy="436.3" r="0.72"/><circle cx="433.1" cy="491.4" r="0.72"/><circle cx="434.2" cy="439.2" r="0.72"/><circle cx="435.4" cy="490.5" r="0.72"/><circle cx="435.7" cy="466.9" r="0.72"/><circle cx="435.7" cy="450.8" r="0.72"/><circle cx="432.3" cy="450.8" r="0.72"/><circle cx="436.2" cy="498.3" r="0.72"/><circle cx="437.5" cy="474.8" r="0.72"/><circle cx="433.3" cy="410.1" r="0.72"/><circle cx="431.9" cy="428.0" r="0.72"/><circle cx="434.0" cy="448.6" r="0.72"/><circle cx="434.6" cy="495.1" r="0.72"/><circle cx="435.3" cy="416.2" r="0.72"/><circle cx="433.0" cy="475.6" r="0.72"/><circle cx="435.7" cy="496.8" r="0.72"/><circle cx="435.4" cy="434.2" r="0.72"/><circle cx="431.9" cy="415.4" r="0.72"/><circle cx="436.2" cy="476.1" r="0.72"/><circle cx="436.7" cy="435.5" r="0.72"/><circle cx="434.1" cy="470.3" r="0.72"/><circle cx="435.4" cy="421.2" r="0.72"/><circle cx="435.1" cy="460.7" r="0.72"/><circle cx="433.3" cy="475.7" r="0.72"/><circle cx="434.5" cy="455.0" r="0.72"/><circle cx="431.4" cy="472.2" r="0.72"/><circle cx="432.0" cy="435.5" r="0.72"/><circle cx="436.4" cy="428.5" r="0.72"/><circle cx="433.8" cy="450.4" r="0.72"/><circle cx="435.6" cy="415.0" r="0.72"/><circle cx="434.4" cy="424.4" r="0.72"/><circle cx="435.2" cy="487.8" r="0.72"/><circle cx="437.4" cy="402.7" r="0.72"/><circle cx="435.3" cy="453.3" r="0.72"/><circle cx="433.0" cy="450.6" r="0.72"/><circle cx="434.2" cy="450.2" r="0.72"/><circle cx="432.8" cy="391.1" r="0.72"/><circle cx="432.9" cy="390.3" r="0.72"/><circle cx="435.4" cy="390.8" r="0.72"/><circle cx="435.9" cy="390.9" r="0.72"/><circle cx="436.5" cy="515.1" r="0.72"/><circle cx="432.4" cy="515.2" r="0.72"/><circle cx="435.8" cy="515.2" r="0.72"/><circle cx="434.7" cy="515.8" r="0.72"/></g>
<g fill="#2a6db0" opacity="0.92"><circle cx="448.7" cy="497.1" r="0.72"/><circle cx="451.4" cy="416.6" r="0.72"/><circle cx="450.7" cy="472.5" r="0.72"/><circle cx="452.1" cy="387.7" r="0.72"/><circle cx="451.4" cy="412.8" r="0.72"/><circle cx="450.7" cy="419.4" r="0.72"/><circle cx="452.4" cy="461.3" r="0.72"/><circle cx="450.5" cy="400.8" r="0.72"/><circle cx="450.0" cy="427.5" r="0.72"/><circle cx="452.6" cy="410.3" r="0.72"/><circle cx="452.1" cy="454.5" r="0.72"/><circle cx="451.9" cy="398.6" r="0.72"/><circle cx="448.9" cy="422.4" r="0.72"/><circle cx="452.2" cy="497.7" r="0.72"/><circle cx="451.3" cy="480.1" r="0.72"/><circle cx="449.1" cy="475.7" r="0.72"/><circle cx="451.7" cy="378.1" r="0.72"/><circle cx="451.6" cy="499.6" r="0.72"/><circle cx="450.7" cy="503.5" r="0.72"/><circle cx="451.4" cy="489.8" r="0.72"/><circle cx="455.0" cy="466.2" r="0.72"/><circle cx="453.6" cy="406.4" r="0.72"/><circle cx="450.7" cy="449.4" r="0.72"/><circle cx="452.4" cy="441.8" r="0.72"/><circle cx="455.2" cy="479.0" r="0.72"/><circle cx="451.4" cy="420.2" r="0.72"/><circle cx="452.7" cy="407.9" r="0.72"/><circle cx="452.3" cy="479.1" r="0.72"/><circle cx="448.7" cy="499.3" r="0.72"/><circle cx="454.1" cy="406.9" r="0.72"/><circle cx="452.1" cy="388.1" r="0.72"/><circle cx="453.0" cy="509.6" r="0.72"/><circle cx="453.7" cy="488.2" r="0.72"/><circle cx="452.6" cy="484.8" r="0.72"/><circle cx="450.0" cy="429.4" r="0.72"/><circle cx="451.2" cy="484.9" r="0.72"/><circle cx="451.0" cy="418.8" r="0.72"/><circle cx="449.7" cy="463.3" r="0.72"/><circle cx="451.8" cy="464.2" r="0.72"/><circle cx="452.4" cy="463.9" r="0.72"/><circle cx="453.2" cy="439.4" r="0.72"/><circle cx="454.8" cy="401.2" r="0.72"/><circle cx="452.7" cy="404.5" r="0.72"/><circle cx="450.3" cy="495.8" r="0.72"/><circle cx="451.6" cy="488.5" r="0.72"/><circle cx="448.7" cy="500.5" r="0.72"/><circle cx="451.1" cy="512.8" r="0.72"/><circle cx="453.1" cy="442.6" r="0.72"/><circle cx="452.7" cy="500.4" r="0.72"/><circle cx="450.8" cy="396.9" r="0.72"/><circle cx="451.6" cy="481.2" r="0.72"/><circle cx="452.9" cy="386.5" r="0.72"/><circle cx="452.2" cy="444.1" r="0.72"/><circle cx="451.4" cy="452.1" r="0.72"/><circle cx="455.2" cy="419.1" r="0.72"/><circle cx="451.6" cy="501.1" r="0.72"/><circle cx="453.9" cy="475.6" r="0.72"/><circle cx="451.9" cy="388.4" r="0.72"/><circle cx="455.2" cy="490.8" r="0.72"/><circle cx="452.6" cy="489.5" r="0.72"/><circle cx="450.6" cy="449.1" r="0.72"/><circle cx="453.5" cy="392.8" r="0.72"/><circle cx="452.8" cy="390.4" r="0.72"/><circle cx="451.1" cy="408.5" r="0.72"/><circle cx="448.7" cy="510.3" r="0.72"/><circle cx="453.8" cy="490.6" r="0.72"/><circle cx="451.0" cy="476.4" r="0.72"/><circle cx="451.4" cy="423.4" r="0.72"/><circle cx="454.9" cy="433.1" r="0.72"/><circle cx="453.9" cy="504.0" r="0.72"/><circle cx="451.4" cy="425.5" r="0.72"/><circle cx="452.7" cy="503.4" r="0.72"/><circle cx="452.5" cy="376.1" r="0.72"/><circle cx="450.3" cy="411.5" r="0.72"/><circle cx="453.7" cy="385.6" r="0.72"/><circle cx="451.1" cy="488.1" r="0.72"/><circle cx="454.5" cy="456.4" r="0.72"/><circle cx="451.7" cy="430.1" r="0.72"/><circle cx="450.3" cy="405.8" r="0.72"/><circle cx="453.0" cy="405.1" r="0.72"/><circle cx="452.2" cy="494.3" r="0.72"/><circle cx="451.7" cy="453.2" r="0.72"/><circle cx="454.1" cy="446.6" r="0.72"/><circle cx="454.8" cy="467.3" r="0.72"/><circle cx="450.2" cy="495.2" r="0.72"/><circle cx="453.1" cy="468.6" r="0.72"/><circle cx="454.0" cy="513.7" r="0.72"/><circle cx="453.3" cy="498.9" r="0.72"/><circle cx="453.0" cy="490.5" r="0.72"/><circle cx="449.0" cy="400.8" r="0.72"/><circle cx="454.6" cy="495.9" r="0.72"/><circle cx="452.0" cy="442.4" r="0.72"/><circle cx="453.6" cy="476.7" r="0.72"/><circle cx="452.1" cy="492.0" r="0.72"/><circle cx="453.0" cy="444.3" r="0.72"/><circle cx="451.8" cy="503.6" r="0.72"/><circle cx="452.8" cy="425.8" r="0.72"/><circle cx="452.6" cy="467.3" r="0.72"/><circle cx="451.3" cy="381.1" r="0.72"/><circle cx="453.2" cy="462.7" r="0.72"/><circle cx="450.0" cy="496.7" r="0.72"/><circle cx="453.3" cy="481.8" r="0.72"/><circle cx="452.2" cy="411.3" r="0.72"/><circle cx="452.6" cy="437.5" r="0.72"/><circle cx="452.6" cy="465.6" r="0.72"/><circle cx="451.6" cy="416.9" r="0.72"/><circle cx="451.4" cy="430.1" r="0.72"/><circle cx="452.5" cy="440.2" r="0.72"/><circle cx="450.2" cy="415.4" r="0.72"/><circle cx="452.3" cy="427.4" r="0.72"/><circle cx="452.4" cy="373.6" r="0.72"/><circle cx="450.6" cy="373.7" r="0.72"/><circle cx="452.2" cy="374.1" r="0.72"/><circle cx="454.1" cy="373.8" r="0.72"/><circle cx="451.2" cy="515.2" r="0.72"/><circle cx="452.5" cy="515.7" r="0.72"/><circle cx="450.8" cy="515.7" r="0.72"/><circle cx="454.1" cy="515.4" r="0.72"/></g>
<rect x="213.38" y="451.30" width="17.35" height="54.30" fill="#c9dbeb" fill-opacity="0.9" stroke="#4e4e4e" stroke-width="1.05"/>
<line x1="213.38" y1="483.40" x2="230.72" y2="483.40" stroke="#4e4e4e" stroke-width="1.05"/>
<rect x="230.72" y="409.40" width="17.35" height="64.80" fill="#70a6c5" fill-opacity="0.9" stroke="#4e4e4e" stroke-width="1.05"/>
<line x1="230.72" y1="443.20" x2="248.07" y2="443.20" stroke="#4e4e4e" stroke-width="1.05"/>
<rect x="248.07" y="428.20" width="17.35" height="69.20" fill="#2d689c" fill-opacity="0.9" stroke="#4e4e4e" stroke-width="1.05"/>
<line x1="248.07" y1="473.40" x2="265.43" y2="473.40" stroke="#4e4e4e" stroke-width="1.05"/>
<rect x="278.37" y="446.40" width="17.35" height="56.80" fill="#c9dbeb" fill-opacity="0.9" stroke="#4e4e4e" stroke-width="1.05"/>
<line x1="278.37" y1="475.20" x2="295.72" y2="475.20" stroke="#4e4e4e" stroke-width="1.05"/>
<rect x="295.72" y="393.00" width="17.35" height="73.60" fill="#70a6c5" fill-opacity="0.9" stroke="#4e4e4e" stroke-width="1.05"/>
<line x1="295.72" y1="431.40" x2="313.07" y2="431.40" stroke="#4e4e4e" stroke-width="1.05"/>
<rect x="313.07" y="431.40" width="17.35" height="67.40" fill="#2d689c" fill-opacity="0.9" stroke="#4e4e4e" stroke-width="1.05"/>
<line x1="313.07" y1="473.40" x2="330.43" y2="473.40" stroke="#4e4e4e" stroke-width="1.05"/>
<rect x="343.57" y="381.20" width="17.35" height="66.20" fill="#c9dbeb" fill-opacity="0.9" stroke="#4e4e4e" stroke-width="1.05"/>
<line x1="343.57" y1="410.00" x2="360.93" y2="410.00" stroke="#4e4e4e" stroke-width="1.05"/>
<rect x="360.93" y="446.40" width="17.35" height="49.20" fill="#70a6c5" fill-opacity="0.9" stroke="#4e4e4e" stroke-width="1.05"/>
<line x1="360.93" y1="483.40" x2="378.28" y2="483.40" stroke="#4e4e4e" stroke-width="1.05"/>
<rect x="378.28" y="453.30" width="17.35" height="42.30" fill="#2d689c" fill-opacity="0.9" stroke="#4e4e4e" stroke-width="1.05"/>
<line x1="378.28" y1="484.40" x2="395.63" y2="484.40" stroke="#4e4e4e" stroke-width="1.05"/>
<rect x="408.57" y="403.80" width="17.35" height="54.40" fill="#c9dbeb" fill-opacity="0.9" stroke="#4e4e4e" stroke-width="1.05"/>
<line x1="408.57" y1="428.80" x2="425.93" y2="428.80" stroke="#4e4e4e" stroke-width="1.05"/>
<rect x="425.93" y="429.40" width="17.35" height="54.00" fill="#70a6c5" fill-opacity="0.9" stroke="#4e4e4e" stroke-width="1.05"/>
<line x1="425.93" y1="456.40" x2="443.28" y2="456.40" stroke="#4e4e4e" stroke-width="1.05"/>
<rect x="443.28" y="416.20" width="17.35" height="75.00" fill="#2d689c" fill-opacity="0.9" stroke="#4e4e4e" stroke-width="1.05"/>
<line x1="443.28" y1="459.60" x2="460.63" y2="459.60" stroke="#4e4e4e" stroke-width="1.05"/>
<line x1="189.5" y1="280.0" x2="189.5" y2="542.7" stroke="#868686" stroke-width="1.15"/>
<line x1="484.5" y1="280.0" x2="484.5" y2="542.7" stroke="#8a8a8a" stroke-width="1.2"/>
<line x1="189.0" y1="280.5" x2="485.0" y2="280.5" stroke="#848484" stroke-width="1.1"/>
<line x1="189.0" y1="542.2" x2="485.0" y2="542.2" stroke="#888888" stroke-width="1.2"/>
<text x="185.60" y="302.16" font-size="4.9" text-anchor="end" fill="#2c2c2c" font-weight="normal" >1.25</text>
<text x="185.60" y="334.96" font-size="4.9" text-anchor="end" fill="#2c2c2c" font-weight="normal" >1.00</text>
<text x="185.60" y="367.36" font-size="4.9" text-anchor="end" fill="#2c2c2c" font-weight="normal" >0.75</text>
<text x="185.60" y="400.16" font-size="4.9" text-anchor="end" fill="#2c2c2c" font-weight="normal" >0.50</text>
<text x="185.60" y="432.96" font-size="4.9" text-anchor="end" fill="#2c2c2c" font-weight="normal" >0.25</text>
<text x="185.60" y="465.56" font-size="4.9" text-anchor="end" fill="#2c2c2c" font-weight="normal" >0.00</text>
<text x="185.60" y="498.16" font-size="4.9" text-anchor="end" fill="#2c2c2c" font-weight="normal" >−0.25</text>
<text x="185.60" y="530.96" font-size="4.9" text-anchor="end" fill="#2c2c2c" font-weight="normal" >−0.50</text>
<text transform="translate(168.60,411.20) rotate(-90)" x="0" y="1.84" font-size="5.1" text-anchor="middle" fill="#2c2c2c">Duration (s)</text>
<text x="239.40" y="549.56" font-size="4.9" text-anchor="middle" fill="#2c2c2c" font-weight="normal" >NREM</text>
<text x="304.40" y="549.56" font-size="4.9" text-anchor="middle" fill="#2c2c2c" font-weight="normal" >REM</text>
<text x="369.60" y="549.56" font-size="4.9" text-anchor="middle" fill="#2c2c2c" font-weight="normal" >WASO</text>
<text x="434.60" y="549.56" font-size="4.9" text-anchor="middle" fill="#2c2c2c" font-weight="normal" >Light</text>
<text x="337.00" y="555.96" font-size="4.9" text-anchor="middle" fill="#2c2c2c" font-weight="normal" >Metrics</text>
<path d="M222.05,315.60V311.60H256.75V315.60" fill="none" stroke="#666666" stroke-width="0.95"/>
<path d="M239.40,334.60V330.60H256.75V334.60" fill="none" stroke="#666666" stroke-width="0.95"/>
<path d="M222.05,353.50V349.50H239.40V353.50" fill="none" stroke="#666666" stroke-width="0.95"/>
<path d="M287.05,315.60V311.60H321.75V315.60" fill="none" stroke="#666666" stroke-width="0.95"/>
<path d="M287.05,334.40V330.40H304.40V334.40" fill="none" stroke="#666666" stroke-width="0.95"/>
<path d="M304.40,353.40V349.40H321.75V353.40" fill="none" stroke="#666666" stroke-width="0.95"/>
<path d="M352.25,301.40V297.40H386.95V301.40" fill="none" stroke="#666666" stroke-width="0.95"/>
<path d="M369.60,320.70V316.70H386.95V320.70" fill="none" stroke="#666666" stroke-width="0.95"/>
<path d="M352.25,339.60V335.60H369.60V339.60" fill="none" stroke="#666666" stroke-width="0.95"/>
<path d="M417.25,318.20V314.20H451.95V318.20" fill="none" stroke="#666666" stroke-width="0.95"/>
<path d="M434.60,337.10V333.10H451.95V337.10" fill="none" stroke="#666666" stroke-width="0.95"/>
<path d="M417.25,355.20V351.20H434.60V355.20" fill="none" stroke="#666666" stroke-width="0.95"/>
<text x="231.10" y="306.49" font-size="4.15" fill="#2a2a2a" stroke="#2a2a2a" stroke-width="0.12" textLength="15.00" lengthAdjust="spacing"><tspan font-style="italic">p</tspan> = 0.53</text>
<text x="236.30" y="325.99" font-size="4.15" fill="#2a2a2a" stroke="#2a2a2a" stroke-width="0.12" textLength="23.20" lengthAdjust="spacing"><tspan font-style="italic">p</tspan> = 1.7×10<tspan font-size="70%" dy="-1.74" fill-opacity="0.8" stroke-width="0">−4</tspan></text>
<text x="220.40" y="344.29" font-size="4.15" fill="#2a2a2a" stroke="#2a2a2a" stroke-width="0.12" textLength="24.10" lengthAdjust="spacing"><tspan font-style="italic">p</tspan> = 3.6×10<tspan font-size="70%" dy="-1.74" fill-opacity="0.8" stroke-width="0">−11</tspan></text>
<text x="295.00" y="306.49" font-size="4.15" fill="#2a2a2a" stroke="#2a2a2a" stroke-width="0.12" textLength="15.00" lengthAdjust="spacing"><tspan font-style="italic">p</tspan> = 1.00</text>
<text x="285.60" y="325.69" font-size="4.15" fill="#2a2a2a" stroke="#2a2a2a" stroke-width="0.12" textLength="23.90" lengthAdjust="spacing"><tspan font-style="italic">p</tspan> = 5.5×10<tspan font-size="70%" dy="-1.74" fill-opacity="0.8" stroke-width="0">−12</tspan></text>
<text x="302.00" y="344.29" font-size="4.15" fill="#2a2a2a" stroke="#2a2a2a" stroke-width="0.12" textLength="22.90" lengthAdjust="spacing"><tspan font-style="italic">p</tspan> = 5.6×10<tspan font-size="70%" dy="-1.74" fill-opacity="0.8" stroke-width="0">−7</tspan></text>
<text x="359.20" y="292.19" font-size="4.15" fill="#2a2a2a" stroke="#2a2a2a" stroke-width="0.12" textLength="24.70" lengthAdjust="spacing"><tspan font-style="italic">p</tspan> = 1.7×10<tspan font-size="70%" dy="-1.74" fill-opacity="0.8" stroke-width="0">−22</tspan></text>
<text x="371.10" y="311.49" font-size="4.15" fill="#2a2a2a" stroke="#2a2a2a" stroke-width="0.12" textLength="14.70" lengthAdjust="spacing"><tspan font-style="italic">p</tspan> = 1.00</text>
<text x="352.00" y="330.49" font-size="4.15" fill="#2a2a2a" stroke="#2a2a2a" stroke-width="0.12" textLength="24.10" lengthAdjust="spacing"><tspan font-style="italic">p</tspan> = 4.6×10<tspan font-size="70%" dy="-1.74" fill-opacity="0.8" stroke-width="0">−15</tspan></text>
<text x="422.30" y="308.79" font-size="4.15" fill="#2a2a2a" stroke="#2a2a2a" stroke-width="0.12" textLength="23.10" lengthAdjust="spacing"><tspan font-style="italic">p</tspan> = 1.5×10<tspan font-size="70%" dy="-1.74" fill-opacity="0.8" stroke-width="0">−4</tspan></text>
<text x="434.90" y="328.49" font-size="4.15" fill="#2a2a2a" stroke="#2a2a2a" stroke-width="0.12" textLength="14.80" lengthAdjust="spacing"><tspan font-style="italic">p</tspan> = 1.00</text>
<text x="414.80" y="346.09" font-size="4.15" fill="#2a2a2a" stroke="#2a2a2a" stroke-width="0.12" textLength="23.30" lengthAdjust="spacing"><tspan font-style="italic">p</tspan> = 1.4×10<tspan font-size="70%" dy="-1.74" fill-opacity="0.8" stroke-width="0">−3</tspan></text>
<rect x="501.5" y="282.5" width="21.0" height="49.39999999999998" rx="1.2" fill="#fff" stroke="#e4e4e4" stroke-width="0.6"/>
<text x="512.00" y="288.44" font-size="5.1" text-anchor="middle" fill="#2c2c2c" font-weight="normal" >Cluster</text>
<rect x="503.75" y="291.85" width="10.0" height="3.7" fill="#cedfed" stroke="#4e4e4e" stroke-width="0.4"/>
<text x="519.00" y="295.54" font-size="5.1" text-anchor="middle" fill="#2c2c2c" font-weight="normal" >1</text>
<rect x="503.75" y="298.55" width="10.0" height="3.7" fill="#7eafcb" stroke="#4e4e4e" stroke-width="0.4"/>
<text x="519.00" y="302.24" font-size="5.1" text-anchor="middle" fill="#2c2c2c" font-weight="normal" >2</text>
<rect x="503.75" y="305.25" width="10.0" height="3.7" fill="#4277a6" stroke="#4e4e4e" stroke-width="0.4"/>
<text x="519.00" y="308.94" font-size="5.1" text-anchor="middle" fill="#2c2c2c" font-weight="normal" >3</text>
<circle cx="508.75" cy="314.0" r="1.8" fill="#bcd5ec"/>
<text x="519.00" y="315.84" font-size="5.1" text-anchor="middle" fill="#2c2c2c" font-weight="normal" >1</text>
<circle cx="508.75" cy="321.0" r="1.8" fill="#5fa6d4"/>
<text x="519.00" y="322.84" font-size="5.1" text-anchor="middle" fill="#2c2c2c" font-weight="normal" >2</text>
<circle cx="508.75" cy="327.9" r="1.8" fill="#2a6db0"/>
<text x="519.00" y="329.74" font-size="5.1" text-anchor="middle" fill="#2c2c2c" font-weight="normal" >3</text>
</svg></body></html>
